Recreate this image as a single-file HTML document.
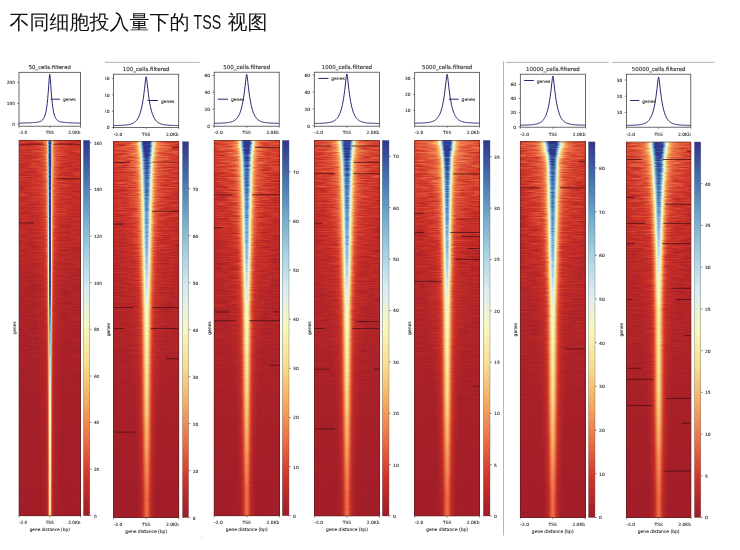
<!DOCTYPE html>
<html><head><meta charset="utf-8"><style>
html,body{margin:0;padding:0;background:#fff;width:740px;height:550px;overflow:hidden}
svg{display:block;will-change:transform}
.t{font-family:'DejaVu Sans','Liberation Sans',sans-serif;fill:#2a2a2a;stroke:#2a2a2a;stroke-width:0.1px}
.t2{font-family:'DejaVu Sans','Liberation Sans',sans-serif;fill:#2a2a2a;stroke:#2a2a2a;stroke-width:0.1px}
.ti{font-family:'Liberation Sans','WenQuanYi Zen Hei',sans-serif;font-size:20px;fill:#111}
</style></head><body>
<svg width="740" height="550" viewBox="0 0 740 550">
<defs><linearGradient id="cbar" x1="0" y1="1" x2="0" y2="0"><stop offset="0" stop-color="#9d1c29"/><stop offset="0.1" stop-color="#cf3229"/><stop offset="0.2" stop-color="#ea6e44"/><stop offset="0.3" stop-color="#f4aa60"/><stop offset="0.4" stop-color="#f7dc8e"/><stop offset="0.5" stop-color="#f9f8be"/><stop offset="0.6" stop-color="#dbedf2"/><stop offset="0.7" stop-color="#a7d2e2"/><stop offset="0.8" stop-color="#71a8cb"/><stop offset="0.9" stop-color="#4472ae"/><stop offset="1" stop-color="#30358e"/></linearGradient><linearGradient id="vb0" x1="0" x2="0" y1="0" y2="1"><stop offset="0" stop-color="#00ff1a"/><stop offset="0.03" stop-color="#00f719"/><stop offset="0.05" stop-color="#00ee18"/><stop offset="0.07" stop-color="#00e617"/><stop offset="0.1" stop-color="#00de16"/><stop offset="0.12" stop-color="#00d616"/><stop offset="0.15" stop-color="#00cd15"/><stop offset="0.17" stop-color="#00c514"/><stop offset="0.2" stop-color="#00bd13"/><stop offset="0.23" stop-color="#00b412"/><stop offset="0.25" stop-color="#00ac11"/><stop offset="0.28" stop-color="#00a40f"/><stop offset="0.3" stop-color="#009c0e"/><stop offset="0.33" stop-color="#00930d"/><stop offset="0.35" stop-color="#008b0b"/><stop offset="0.38" stop-color="#00830a"/><stop offset="0.4" stop-color="#007a09"/><stop offset="0.42" stop-color="#007209"/><stop offset="0.45" stop-color="#006a08"/><stop offset="0.47" stop-color="#006208"/><stop offset="0.5" stop-color="#005907"/><stop offset="0.53" stop-color="#005107"/><stop offset="0.55" stop-color="#004906"/><stop offset="0.57" stop-color="#004006"/><stop offset="0.6" stop-color="#003806"/><stop offset="0.62" stop-color="#003005"/><stop offset="0.65" stop-color="#002805"/><stop offset="0.68" stop-color="#001f04"/><stop offset="0.7" stop-color="#001a04"/><stop offset="0.72" stop-color="#001a04"/><stop offset="0.75" stop-color="#001a04"/><stop offset="0.78" stop-color="#001a03"/><stop offset="0.8" stop-color="#001a03"/><stop offset="0.82" stop-color="#001a03"/><stop offset="0.85" stop-color="#001a03"/><stop offset="0.88" stop-color="#001a03"/><stop offset="0.9" stop-color="#001a03"/><stop offset="0.93" stop-color="#001a02"/><stop offset="0.95" stop-color="#001a02"/><stop offset="0.97" stop-color="#001a02"/><stop offset="1" stop-color="#001a02"/></linearGradient><filter id="hm0" filterUnits="userSpaceOnUse" x="19" y="140.3" width="61.5" height="375.5" color-interpolation-filters="sRGB">
<feColorMatrix in="SourceGraphic" type="matrix" values="1 0 0 0 0 1 0 0 0 0 1 0 0 0 0 0 0 0 0 1" result="R"/>
<feGaussianBlur in="R" stdDeviation="0.6 0.3" edgeMode="duplicate" result="Rb"/>
<feColorMatrix in="SourceGraphic" type="matrix" values="0 0 1 0 0 0 0 1 0 0 0 0 1 0 0 0 0 0 0 1" result="B"/>
<feTurbulence type="fractalNoise" baseFrequency="0.0001 0.7" numOctaves="2" seed="11" result="n1"/>
<feColorMatrix in="n1" type="matrix" values="0.17 0 0 0 0.92 0.17 0 0 0 0.92 0.17 0 0 0 0.92 0 0 0 0 1" result="n1s"/>
<feComposite in="Rb" in2="n1s" operator="arithmetic" k1="1" k2="0" k3="0" k4="0" result="pk"/>
<feTurbulence type="fractalNoise" baseFrequency="0.07 0.8" numOctaves="2" seed="14" result="n2r"/>
<feColorMatrix in="n2r" type="matrix" values="1 0 0 0 0 1 0 0 0 0 1 0 0 0 0 0 0 0 0 1" result="n2"/>
<feComposite in="pk" in2="B" operator="arithmetic" k1="0" k2="1" k3="1" k4="0" result="u0"/>
<feColorMatrix in="SourceGraphic" type="matrix" values="0 1 0 0 0 0 1 0 0 0 0 1 0 0 0 0 0 0 0 1" result="G"/>
<feComposite in="n2" in2="G" operator="arithmetic" k1="0.17" k2="0" k3="-0.09" k4="0.5" result="nz"/>
<feComposite in="u0" in2="nz" operator="arithmetic" k1="0" k2="1" k3="1" k4="-0.5" result="u"/>
<feComponentTransfer in="u">
<feFuncR type="table" tableValues="0.62 0.81 0.92 0.96 0.97 0.98 0.86 0.65 0.44 0.27 0.19"/>
<feFuncG type="table" tableValues="0.11 0.2 0.43 0.67 0.86 0.97 0.93 0.82 0.66 0.45 0.21"/>
<feFuncB type="table" tableValues="0.16 0.16 0.27 0.38 0.56 0.75 0.95 0.89 0.8 0.68 0.56"/>
<feFuncA type="linear" slope="0" intercept="1"/>
</feComponentTransfer>
</filter><linearGradient id="vb1" x1="0" x2="0" y1="0" y2="1"><stop offset="0" stop-color="#00ff1f"/><stop offset="0.03" stop-color="#00f71d"/><stop offset="0.05" stop-color="#00ee1b"/><stop offset="0.07" stop-color="#00e61a"/><stop offset="0.1" stop-color="#00de18"/><stop offset="0.12" stop-color="#00d617"/><stop offset="0.15" stop-color="#00cd16"/><stop offset="0.17" stop-color="#00c515"/><stop offset="0.2" stop-color="#00bd13"/><stop offset="0.23" stop-color="#00b412"/><stop offset="0.25" stop-color="#00ac11"/><stop offset="0.28" stop-color="#00a40f"/><stop offset="0.3" stop-color="#009c0e"/><stop offset="0.33" stop-color="#00930d"/><stop offset="0.35" stop-color="#008b0d"/><stop offset="0.38" stop-color="#00830c"/><stop offset="0.4" stop-color="#007a0b"/><stop offset="0.42" stop-color="#00720b"/><stop offset="0.45" stop-color="#006a0a"/><stop offset="0.47" stop-color="#00620a"/><stop offset="0.5" stop-color="#005909"/><stop offset="0.53" stop-color="#005109"/><stop offset="0.55" stop-color="#004908"/><stop offset="0.57" stop-color="#004007"/><stop offset="0.6" stop-color="#003807"/><stop offset="0.62" stop-color="#003006"/><stop offset="0.65" stop-color="#002806"/><stop offset="0.68" stop-color="#001f05"/><stop offset="0.7" stop-color="#001a05"/><stop offset="0.72" stop-color="#001a05"/><stop offset="0.75" stop-color="#001a04"/><stop offset="0.78" stop-color="#001a04"/><stop offset="0.8" stop-color="#001a04"/><stop offset="0.82" stop-color="#001a03"/><stop offset="0.85" stop-color="#001a03"/><stop offset="0.88" stop-color="#001a03"/><stop offset="0.9" stop-color="#001a02"/><stop offset="0.93" stop-color="#001a02"/><stop offset="0.95" stop-color="#001a02"/><stop offset="0.97" stop-color="#001a02"/><stop offset="1" stop-color="#001a02"/></linearGradient><filter id="hm1" filterUnits="userSpaceOnUse" x="113.7" y="141.7" width="65.1" height="375.9" color-interpolation-filters="sRGB">
<feColorMatrix in="SourceGraphic" type="matrix" values="1 0 0 0 0 1 0 0 0 0 1 0 0 0 0 0 0 0 0 1" result="R"/>
<feGaussianBlur in="R" stdDeviation="1.0 0.3" edgeMode="duplicate" result="Rb"/>
<feColorMatrix in="SourceGraphic" type="matrix" values="0 0 1 0 0 0 0 1 0 0 0 0 1 0 0 0 0 0 0 1" result="B"/>
<feTurbulence type="fractalNoise" baseFrequency="0.0001 0.7" numOctaves="2" seed="18" result="n1"/>
<feColorMatrix in="n1" type="matrix" values="0.17 0 0 0 0.92 0.17 0 0 0 0.92 0.17 0 0 0 0.92 0 0 0 0 1" result="n1s"/>
<feComposite in="Rb" in2="n1s" operator="arithmetic" k1="1" k2="0" k3="0" k4="0" result="pk"/>
<feTurbulence type="fractalNoise" baseFrequency="0.07 0.8" numOctaves="2" seed="21" result="n2r"/>
<feColorMatrix in="n2r" type="matrix" values="1 0 0 0 0 1 0 0 0 0 1 0 0 0 0 0 0 0 0 1" result="n2"/>
<feComposite in="pk" in2="B" operator="arithmetic" k1="0" k2="1" k3="1" k4="0" result="u0"/>
<feColorMatrix in="SourceGraphic" type="matrix" values="0 1 0 0 0 0 1 0 0 0 0 1 0 0 0 0 0 0 0 1" result="G"/>
<feComposite in="n2" in2="G" operator="arithmetic" k1="0.22" k2="0" k3="-0.11" k4="0.5" result="nz"/>
<feComposite in="u0" in2="nz" operator="arithmetic" k1="0" k2="1" k3="1" k4="-0.5" result="u"/>
<feComponentTransfer in="u">
<feFuncR type="table" tableValues="0.62 0.81 0.92 0.96 0.97 0.98 0.86 0.65 0.44 0.27 0.19"/>
<feFuncG type="table" tableValues="0.11 0.2 0.43 0.67 0.86 0.97 0.93 0.82 0.66 0.45 0.21"/>
<feFuncB type="table" tableValues="0.16 0.16 0.27 0.38 0.56 0.75 0.95 0.89 0.8 0.68 0.56"/>
<feFuncA type="linear" slope="0" intercept="1"/>
</feComponentTransfer>
</filter><clipPath id="cl1"><rect x="105.2" y="0" width="200" height="550"/></clipPath><linearGradient id="vb2" x1="0" x2="0" y1="0" y2="1"><stop offset="0" stop-color="#00ff1f"/><stop offset="0.03" stop-color="#00f71d"/><stop offset="0.05" stop-color="#00ee1b"/><stop offset="0.07" stop-color="#00e61a"/><stop offset="0.1" stop-color="#00de18"/><stop offset="0.12" stop-color="#00d617"/><stop offset="0.15" stop-color="#00cd16"/><stop offset="0.17" stop-color="#00c515"/><stop offset="0.2" stop-color="#00bd13"/><stop offset="0.23" stop-color="#00b412"/><stop offset="0.25" stop-color="#00ac11"/><stop offset="0.28" stop-color="#00a40f"/><stop offset="0.3" stop-color="#009c0e"/><stop offset="0.33" stop-color="#00930d"/><stop offset="0.35" stop-color="#008b0d"/><stop offset="0.38" stop-color="#00830c"/><stop offset="0.4" stop-color="#007a0b"/><stop offset="0.42" stop-color="#00720b"/><stop offset="0.45" stop-color="#006a0a"/><stop offset="0.47" stop-color="#00620a"/><stop offset="0.5" stop-color="#005909"/><stop offset="0.53" stop-color="#005109"/><stop offset="0.55" stop-color="#004908"/><stop offset="0.57" stop-color="#004007"/><stop offset="0.6" stop-color="#003807"/><stop offset="0.62" stop-color="#003006"/><stop offset="0.65" stop-color="#002806"/><stop offset="0.68" stop-color="#001f05"/><stop offset="0.7" stop-color="#001a05"/><stop offset="0.72" stop-color="#001a05"/><stop offset="0.75" stop-color="#001a04"/><stop offset="0.78" stop-color="#001a04"/><stop offset="0.8" stop-color="#001a04"/><stop offset="0.82" stop-color="#001a03"/><stop offset="0.85" stop-color="#001a03"/><stop offset="0.88" stop-color="#001a03"/><stop offset="0.9" stop-color="#001a02"/><stop offset="0.93" stop-color="#001a02"/><stop offset="0.95" stop-color="#001a02"/><stop offset="0.97" stop-color="#001a02"/><stop offset="1" stop-color="#001a02"/></linearGradient><filter id="hm2" filterUnits="userSpaceOnUse" x="214.1" y="140.4" width="65.3" height="375.4" color-interpolation-filters="sRGB">
<feColorMatrix in="SourceGraphic" type="matrix" values="1 0 0 0 0 1 0 0 0 0 1 0 0 0 0 0 0 0 0 1" result="R"/>
<feGaussianBlur in="R" stdDeviation="1.0 0.3" edgeMode="duplicate" result="Rb"/>
<feColorMatrix in="SourceGraphic" type="matrix" values="0 0 1 0 0 0 0 1 0 0 0 0 1 0 0 0 0 0 0 1" result="B"/>
<feTurbulence type="fractalNoise" baseFrequency="0.0001 0.7" numOctaves="2" seed="25" result="n1"/>
<feColorMatrix in="n1" type="matrix" values="0.17 0 0 0 0.92 0.17 0 0 0 0.92 0.17 0 0 0 0.92 0 0 0 0 1" result="n1s"/>
<feComposite in="Rb" in2="n1s" operator="arithmetic" k1="1" k2="0" k3="0" k4="0" result="pk"/>
<feTurbulence type="fractalNoise" baseFrequency="0.07 0.8" numOctaves="2" seed="28" result="n2r"/>
<feColorMatrix in="n2r" type="matrix" values="1 0 0 0 0 1 0 0 0 0 1 0 0 0 0 0 0 0 0 1" result="n2"/>
<feComposite in="pk" in2="B" operator="arithmetic" k1="0" k2="1" k3="1" k4="0" result="u0"/>
<feColorMatrix in="SourceGraphic" type="matrix" values="0 1 0 0 0 0 1 0 0 0 0 1 0 0 0 0 0 0 0 1" result="G"/>
<feComposite in="n2" in2="G" operator="arithmetic" k1="0.22" k2="0" k3="-0.11" k4="0.5" result="nz"/>
<feComposite in="u0" in2="nz" operator="arithmetic" k1="0" k2="1" k3="1" k4="-0.5" result="u"/>
<feComponentTransfer in="u">
<feFuncR type="table" tableValues="0.62 0.81 0.92 0.96 0.97 0.98 0.86 0.65 0.44 0.27 0.19"/>
<feFuncG type="table" tableValues="0.11 0.2 0.43 0.67 0.86 0.97 0.93 0.82 0.66 0.45 0.21"/>
<feFuncB type="table" tableValues="0.16 0.16 0.27 0.38 0.56 0.75 0.95 0.89 0.8 0.68 0.56"/>
<feFuncA type="linear" slope="0" intercept="1"/>
</feComponentTransfer>
</filter><linearGradient id="vb3" x1="0" x2="0" y1="0" y2="1"><stop offset="0" stop-color="#00ff1f"/><stop offset="0.03" stop-color="#00f71d"/><stop offset="0.05" stop-color="#00ee1b"/><stop offset="0.07" stop-color="#00e61a"/><stop offset="0.1" stop-color="#00de18"/><stop offset="0.12" stop-color="#00d617"/><stop offset="0.15" stop-color="#00cd16"/><stop offset="0.17" stop-color="#00c515"/><stop offset="0.2" stop-color="#00bd13"/><stop offset="0.23" stop-color="#00b412"/><stop offset="0.25" stop-color="#00ac11"/><stop offset="0.28" stop-color="#00a40f"/><stop offset="0.3" stop-color="#009c0e"/><stop offset="0.33" stop-color="#00930d"/><stop offset="0.35" stop-color="#008b0d"/><stop offset="0.38" stop-color="#00830c"/><stop offset="0.4" stop-color="#007a0b"/><stop offset="0.42" stop-color="#00720b"/><stop offset="0.45" stop-color="#006a0a"/><stop offset="0.47" stop-color="#00620a"/><stop offset="0.5" stop-color="#005909"/><stop offset="0.53" stop-color="#005109"/><stop offset="0.55" stop-color="#004908"/><stop offset="0.57" stop-color="#004007"/><stop offset="0.6" stop-color="#003807"/><stop offset="0.62" stop-color="#003006"/><stop offset="0.65" stop-color="#002806"/><stop offset="0.68" stop-color="#001f05"/><stop offset="0.7" stop-color="#001a05"/><stop offset="0.72" stop-color="#001a05"/><stop offset="0.75" stop-color="#001a04"/><stop offset="0.78" stop-color="#001a04"/><stop offset="0.8" stop-color="#001a04"/><stop offset="0.82" stop-color="#001a03"/><stop offset="0.85" stop-color="#001a03"/><stop offset="0.88" stop-color="#001a03"/><stop offset="0.9" stop-color="#001a02"/><stop offset="0.93" stop-color="#001a02"/><stop offset="0.95" stop-color="#001a02"/><stop offset="0.97" stop-color="#001a02"/><stop offset="1" stop-color="#001a02"/></linearGradient><filter id="hm3" filterUnits="userSpaceOnUse" x="314.4" y="140.4" width="65.2" height="375.6" color-interpolation-filters="sRGB">
<feColorMatrix in="SourceGraphic" type="matrix" values="1 0 0 0 0 1 0 0 0 0 1 0 0 0 0 0 0 0 0 1" result="R"/>
<feGaussianBlur in="R" stdDeviation="1.0 0.3" edgeMode="duplicate" result="Rb"/>
<feColorMatrix in="SourceGraphic" type="matrix" values="0 0 1 0 0 0 0 1 0 0 0 0 1 0 0 0 0 0 0 1" result="B"/>
<feTurbulence type="fractalNoise" baseFrequency="0.0001 0.7" numOctaves="2" seed="32" result="n1"/>
<feColorMatrix in="n1" type="matrix" values="0.17 0 0 0 0.92 0.17 0 0 0 0.92 0.17 0 0 0 0.92 0 0 0 0 1" result="n1s"/>
<feComposite in="Rb" in2="n1s" operator="arithmetic" k1="1" k2="0" k3="0" k4="0" result="pk"/>
<feTurbulence type="fractalNoise" baseFrequency="0.07 0.8" numOctaves="2" seed="35" result="n2r"/>
<feColorMatrix in="n2r" type="matrix" values="1 0 0 0 0 1 0 0 0 0 1 0 0 0 0 0 0 0 0 1" result="n2"/>
<feComposite in="pk" in2="B" operator="arithmetic" k1="0" k2="1" k3="1" k4="0" result="u0"/>
<feColorMatrix in="SourceGraphic" type="matrix" values="0 1 0 0 0 0 1 0 0 0 0 1 0 0 0 0 0 0 0 1" result="G"/>
<feComposite in="n2" in2="G" operator="arithmetic" k1="0.22" k2="0" k3="-0.11" k4="0.5" result="nz"/>
<feComposite in="u0" in2="nz" operator="arithmetic" k1="0" k2="1" k3="1" k4="-0.5" result="u"/>
<feComponentTransfer in="u">
<feFuncR type="table" tableValues="0.62 0.81 0.92 0.96 0.97 0.98 0.86 0.65 0.44 0.27 0.19"/>
<feFuncG type="table" tableValues="0.11 0.2 0.43 0.67 0.86 0.97 0.93 0.82 0.66 0.45 0.21"/>
<feFuncB type="table" tableValues="0.16 0.16 0.27 0.38 0.56 0.75 0.95 0.89 0.8 0.68 0.56"/>
<feFuncA type="linear" slope="0" intercept="1"/>
</feComponentTransfer>
</filter><linearGradient id="vb4" x1="0" x2="0" y1="0" y2="1"><stop offset="0" stop-color="#00ff26"/><stop offset="0.03" stop-color="#00f724"/><stop offset="0.05" stop-color="#00ee22"/><stop offset="0.07" stop-color="#00e620"/><stop offset="0.1" stop-color="#00de1e"/><stop offset="0.12" stop-color="#00d61d"/><stop offset="0.15" stop-color="#00cd1b"/><stop offset="0.17" stop-color="#00c519"/><stop offset="0.2" stop-color="#00bd17"/><stop offset="0.23" stop-color="#00b415"/><stop offset="0.25" stop-color="#00ac12"/><stop offset="0.28" stop-color="#00a410"/><stop offset="0.3" stop-color="#009c0e"/><stop offset="0.33" stop-color="#00930d"/><stop offset="0.35" stop-color="#008b0d"/><stop offset="0.38" stop-color="#00830c"/><stop offset="0.4" stop-color="#007a0b"/><stop offset="0.42" stop-color="#00720b"/><stop offset="0.45" stop-color="#006a0a"/><stop offset="0.47" stop-color="#00620a"/><stop offset="0.5" stop-color="#005909"/><stop offset="0.53" stop-color="#005109"/><stop offset="0.55" stop-color="#004908"/><stop offset="0.57" stop-color="#004007"/><stop offset="0.6" stop-color="#003807"/><stop offset="0.62" stop-color="#003006"/><stop offset="0.65" stop-color="#002806"/><stop offset="0.68" stop-color="#001f05"/><stop offset="0.7" stop-color="#001a05"/><stop offset="0.72" stop-color="#001a05"/><stop offset="0.75" stop-color="#001a04"/><stop offset="0.78" stop-color="#001a04"/><stop offset="0.8" stop-color="#001a04"/><stop offset="0.82" stop-color="#001a03"/><stop offset="0.85" stop-color="#001a03"/><stop offset="0.88" stop-color="#001a03"/><stop offset="0.9" stop-color="#001a02"/><stop offset="0.93" stop-color="#001a02"/><stop offset="0.95" stop-color="#001a02"/><stop offset="0.97" stop-color="#001a02"/><stop offset="1" stop-color="#001a02"/></linearGradient><filter id="hm4" filterUnits="userSpaceOnUse" x="414.7" y="140.4" width="64.9" height="375.6" color-interpolation-filters="sRGB">
<feColorMatrix in="SourceGraphic" type="matrix" values="1 0 0 0 0 1 0 0 0 0 1 0 0 0 0 0 0 0 0 1" result="R"/>
<feGaussianBlur in="R" stdDeviation="1.0 0.3" edgeMode="duplicate" result="Rb"/>
<feColorMatrix in="SourceGraphic" type="matrix" values="0 0 1 0 0 0 0 1 0 0 0 0 1 0 0 0 0 0 0 1" result="B"/>
<feTurbulence type="fractalNoise" baseFrequency="0.0001 0.7" numOctaves="2" seed="39" result="n1"/>
<feColorMatrix in="n1" type="matrix" values="0.17 0 0 0 0.92 0.17 0 0 0 0.92 0.17 0 0 0 0.92 0 0 0 0 1" result="n1s"/>
<feComposite in="Rb" in2="n1s" operator="arithmetic" k1="1" k2="0" k3="0" k4="0" result="pk"/>
<feTurbulence type="fractalNoise" baseFrequency="0.07 0.8" numOctaves="2" seed="42" result="n2r"/>
<feColorMatrix in="n2r" type="matrix" values="1 0 0 0 0 1 0 0 0 0 1 0 0 0 0 0 0 0 0 1" result="n2"/>
<feComposite in="pk" in2="B" operator="arithmetic" k1="0" k2="1" k3="1" k4="0" result="u0"/>
<feColorMatrix in="SourceGraphic" type="matrix" values="0 1 0 0 0 0 1 0 0 0 0 1 0 0 0 0 0 0 0 1" result="G"/>
<feComposite in="n2" in2="G" operator="arithmetic" k1="0.22" k2="0" k3="-0.11" k4="0.5" result="nz"/>
<feComposite in="u0" in2="nz" operator="arithmetic" k1="0" k2="1" k3="1" k4="-0.5" result="u"/>
<feComponentTransfer in="u">
<feFuncR type="table" tableValues="0.62 0.81 0.92 0.96 0.97 0.98 0.86 0.65 0.44 0.27 0.19"/>
<feFuncG type="table" tableValues="0.11 0.2 0.43 0.67 0.86 0.97 0.93 0.82 0.66 0.45 0.21"/>
<feFuncB type="table" tableValues="0.16 0.16 0.27 0.38 0.56 0.75 0.95 0.89 0.8 0.68 0.56"/>
<feFuncA type="linear" slope="0" intercept="1"/>
</feComponentTransfer>
</filter><linearGradient id="vb5" x1="0" x2="0" y1="0" y2="1"><stop offset="0" stop-color="#00ff1f"/><stop offset="0.03" stop-color="#00f71d"/><stop offset="0.05" stop-color="#00ee1b"/><stop offset="0.07" stop-color="#00e61a"/><stop offset="0.1" stop-color="#00de18"/><stop offset="0.12" stop-color="#00d617"/><stop offset="0.15" stop-color="#00cd16"/><stop offset="0.17" stop-color="#00c515"/><stop offset="0.2" stop-color="#00bd13"/><stop offset="0.23" stop-color="#00b412"/><stop offset="0.25" stop-color="#00ac11"/><stop offset="0.28" stop-color="#00a40f"/><stop offset="0.3" stop-color="#009c0e"/><stop offset="0.33" stop-color="#00930d"/><stop offset="0.35" stop-color="#008b0d"/><stop offset="0.38" stop-color="#00830c"/><stop offset="0.4" stop-color="#007a0b"/><stop offset="0.42" stop-color="#00720b"/><stop offset="0.45" stop-color="#006a0a"/><stop offset="0.47" stop-color="#00620a"/><stop offset="0.5" stop-color="#005909"/><stop offset="0.53" stop-color="#005109"/><stop offset="0.55" stop-color="#004908"/><stop offset="0.57" stop-color="#004007"/><stop offset="0.6" stop-color="#003807"/><stop offset="0.62" stop-color="#003006"/><stop offset="0.65" stop-color="#002806"/><stop offset="0.68" stop-color="#001f05"/><stop offset="0.7" stop-color="#001a05"/><stop offset="0.72" stop-color="#001a05"/><stop offset="0.75" stop-color="#001a04"/><stop offset="0.78" stop-color="#001a04"/><stop offset="0.8" stop-color="#001a04"/><stop offset="0.82" stop-color="#001a03"/><stop offset="0.85" stop-color="#001a03"/><stop offset="0.88" stop-color="#001a03"/><stop offset="0.9" stop-color="#001a02"/><stop offset="0.93" stop-color="#001a02"/><stop offset="0.95" stop-color="#001a02"/><stop offset="0.97" stop-color="#001a02"/><stop offset="1" stop-color="#001a02"/></linearGradient><filter id="hm5" filterUnits="userSpaceOnUse" x="520.3" y="141.9" width="64.9" height="375.6" color-interpolation-filters="sRGB">
<feColorMatrix in="SourceGraphic" type="matrix" values="1 0 0 0 0 1 0 0 0 0 1 0 0 0 0 0 0 0 0 1" result="R"/>
<feGaussianBlur in="R" stdDeviation="1.0 0.3" edgeMode="duplicate" result="Rb"/>
<feColorMatrix in="SourceGraphic" type="matrix" values="0 0 1 0 0 0 0 1 0 0 0 0 1 0 0 0 0 0 0 1" result="B"/>
<feTurbulence type="fractalNoise" baseFrequency="0.0001 0.7" numOctaves="2" seed="46" result="n1"/>
<feColorMatrix in="n1" type="matrix" values="0.17 0 0 0 0.92 0.17 0 0 0 0.92 0.17 0 0 0 0.92 0 0 0 0 1" result="n1s"/>
<feComposite in="Rb" in2="n1s" operator="arithmetic" k1="1" k2="0" k3="0" k4="0" result="pk"/>
<feTurbulence type="fractalNoise" baseFrequency="0.07 0.8" numOctaves="2" seed="49" result="n2r"/>
<feColorMatrix in="n2r" type="matrix" values="1 0 0 0 0 1 0 0 0 0 1 0 0 0 0 0 0 0 0 1" result="n2"/>
<feComposite in="pk" in2="B" operator="arithmetic" k1="0" k2="1" k3="1" k4="0" result="u0"/>
<feColorMatrix in="SourceGraphic" type="matrix" values="0 1 0 0 0 0 1 0 0 0 0 1 0 0 0 0 0 0 0 1" result="G"/>
<feComposite in="n2" in2="G" operator="arithmetic" k1="0.22" k2="0" k3="-0.11" k4="0.5" result="nz"/>
<feComposite in="u0" in2="nz" operator="arithmetic" k1="0" k2="1" k3="1" k4="-0.5" result="u"/>
<feComponentTransfer in="u">
<feFuncR type="table" tableValues="0.62 0.81 0.92 0.96 0.97 0.98 0.86 0.65 0.44 0.27 0.19"/>
<feFuncG type="table" tableValues="0.11 0.2 0.43 0.67 0.86 0.97 0.93 0.82 0.66 0.45 0.21"/>
<feFuncB type="table" tableValues="0.16 0.16 0.27 0.38 0.56 0.75 0.95 0.89 0.8 0.68 0.56"/>
<feFuncA type="linear" slope="0" intercept="1"/>
</feComponentTransfer>
</filter><linearGradient id="vb6" x1="0" x2="0" y1="0" y2="1"><stop offset="0" stop-color="#00ff1f"/><stop offset="0.03" stop-color="#00f71d"/><stop offset="0.05" stop-color="#00ee1b"/><stop offset="0.07" stop-color="#00e61a"/><stop offset="0.1" stop-color="#00de18"/><stop offset="0.12" stop-color="#00d617"/><stop offset="0.15" stop-color="#00cd16"/><stop offset="0.17" stop-color="#00c515"/><stop offset="0.2" stop-color="#00bd13"/><stop offset="0.23" stop-color="#00b412"/><stop offset="0.25" stop-color="#00ac11"/><stop offset="0.28" stop-color="#00a40f"/><stop offset="0.3" stop-color="#009c0e"/><stop offset="0.33" stop-color="#00930d"/><stop offset="0.35" stop-color="#008b0d"/><stop offset="0.38" stop-color="#00830c"/><stop offset="0.4" stop-color="#007a0b"/><stop offset="0.42" stop-color="#00720b"/><stop offset="0.45" stop-color="#006a0a"/><stop offset="0.47" stop-color="#00620a"/><stop offset="0.5" stop-color="#005909"/><stop offset="0.53" stop-color="#005109"/><stop offset="0.55" stop-color="#004908"/><stop offset="0.57" stop-color="#004007"/><stop offset="0.6" stop-color="#003807"/><stop offset="0.62" stop-color="#003006"/><stop offset="0.65" stop-color="#002806"/><stop offset="0.68" stop-color="#001f05"/><stop offset="0.7" stop-color="#001a05"/><stop offset="0.72" stop-color="#001a05"/><stop offset="0.75" stop-color="#001a04"/><stop offset="0.78" stop-color="#001a04"/><stop offset="0.8" stop-color="#001a04"/><stop offset="0.82" stop-color="#001a03"/><stop offset="0.85" stop-color="#001a03"/><stop offset="0.88" stop-color="#001a03"/><stop offset="0.9" stop-color="#001a02"/><stop offset="0.93" stop-color="#001a02"/><stop offset="0.95" stop-color="#001a02"/><stop offset="0.97" stop-color="#001a02"/><stop offset="1" stop-color="#001a02"/></linearGradient><filter id="hm6" filterUnits="userSpaceOnUse" x="626.4" y="142" width="64.6" height="375.5" color-interpolation-filters="sRGB">
<feColorMatrix in="SourceGraphic" type="matrix" values="1 0 0 0 0 1 0 0 0 0 1 0 0 0 0 0 0 0 0 1" result="R"/>
<feGaussianBlur in="R" stdDeviation="1.0 0.3" edgeMode="duplicate" result="Rb"/>
<feColorMatrix in="SourceGraphic" type="matrix" values="0 0 1 0 0 0 0 1 0 0 0 0 1 0 0 0 0 0 0 1" result="B"/>
<feTurbulence type="fractalNoise" baseFrequency="0.0001 0.7" numOctaves="2" seed="53" result="n1"/>
<feColorMatrix in="n1" type="matrix" values="0.17 0 0 0 0.92 0.17 0 0 0 0.92 0.17 0 0 0 0.92 0 0 0 0 1" result="n1s"/>
<feComposite in="Rb" in2="n1s" operator="arithmetic" k1="1" k2="0" k3="0" k4="0" result="pk"/>
<feTurbulence type="fractalNoise" baseFrequency="0.07 0.8" numOctaves="2" seed="56" result="n2r"/>
<feColorMatrix in="n2r" type="matrix" values="1 0 0 0 0 1 0 0 0 0 1 0 0 0 0 0 0 0 0 1" result="n2"/>
<feComposite in="pk" in2="B" operator="arithmetic" k1="0" k2="1" k3="1" k4="0" result="u0"/>
<feColorMatrix in="SourceGraphic" type="matrix" values="0 1 0 0 0 0 1 0 0 0 0 1 0 0 0 0 0 0 0 1" result="G"/>
<feComposite in="n2" in2="G" operator="arithmetic" k1="0.22" k2="0" k3="-0.11" k4="0.5" result="nz"/>
<feComposite in="u0" in2="nz" operator="arithmetic" k1="0" k2="1" k3="1" k4="-0.5" result="u"/>
<feComponentTransfer in="u">
<feFuncR type="table" tableValues="0.62 0.81 0.92 0.96 0.97 0.98 0.86 0.65 0.44 0.27 0.19"/>
<feFuncG type="table" tableValues="0.11 0.2 0.43 0.67 0.86 0.97 0.93 0.82 0.66 0.45 0.21"/>
<feFuncB type="table" tableValues="0.16 0.16 0.27 0.38 0.56 0.75 0.95 0.89 0.8 0.68 0.56"/>
<feFuncA type="linear" slope="0" intercept="1"/>
</feComponentTransfer>
</filter></defs>
<text x="9.5" y="29" class="ti">不同细胞投入量下的</text>
<text x="193.6" y="28.8" class="ti" style="font-size:19.3px" textLength="27.6" lengthAdjust="spacingAndGlyphs">TSS</text>
<text x="227.5" y="29" class="ti">视图</text>
<g stroke="#b8b5b3" stroke-width="1" fill="none">
<path d="M105.4 61 V62.4 H199.8"/>
<path d="M503.5 61.1 V535.5"/>
<path d="M505.9 62.4 H608.8"/>
<path d="M612 62.4 H714.8"/>
</g>
<rect x="201.6" y="536.4" width="0.9" height="0.9" fill="#bbb"/>
<g style="font-size:4.27px">
<g filter="url(#hm0)"><rect x="17" y="138.3" width="65.5" height="379.5" fill="url(#vb0)"/><polygon points="30.88,138.3 31.51,162.8 32.56,195.3 33.72,225.3 35.03,252.8 36.78,305.3 38.19,337.8 39.7,365.3 40.95,442.8 42.39,517.8 57.51,517.8 58.95,442.8 60.2,365.3 61.71,337.8 63.12,305.3 64.87,252.8 66.18,225.3 67.34,195.3 68.39,162.8 69.02,138.3" fill="#030000" style="mix-blend-mode:lighten"/><polygon points="35.04,138.3 35.9,170.3 37.18,207.8 38.1,230.3 39.19,252.8 40.3,287.8 41.43,317.8 43.68,365.3 45.51,517.8 54.39,517.8 56.22,365.3 58.47,317.8 59.6,287.8 60.71,252.8 61.8,230.3 62.72,207.8 64,170.3 64.86,138.3" fill="#050000" style="mix-blend-mode:lighten"/><polygon points="37.47,138.3 38.03,160.3 39.06,192.8 40.31,225.3 41.6,252.8 42.76,290.3 45.33,365.3 46.44,517.8 53.46,517.8 54.57,365.3 57.14,290.3 58.3,252.8 59.59,225.3 60.84,192.8 61.87,160.3 62.43,138.3" fill="#080000" style="mix-blend-mode:lighten"/><polygon points="39.2,138.3 39.83,162.8 40.96,197.8 42.02,225.3 43.25,252.8 45,317.8 45.88,355.3 46.08,365.3 46.45,420.3 46.92,517.8 52.98,517.8 53.45,420.3 53.82,365.3 54.02,355.3 54.9,317.8 56.65,252.8 57.88,225.3 58.94,197.8 60.07,162.8 60.7,138.3" fill="#0a0000" style="mix-blend-mode:lighten"/><polygon points="40.53,138.3 42.02,190.3 44.36,252.8 46.04,335.3 46.54,367.8 47.23,517.8 52.67,517.8 53.36,367.8 53.86,335.3 55.54,252.8 57.88,190.3 59.37,138.3" fill="#0d0000" style="mix-blend-mode:lighten"/><polygon points="41.62,138.3 42.68,177.8 45.11,252.8 46.07,310.3 46.82,365.3 47.46,517.8 52.44,517.8 53.08,365.3 53.83,310.3 54.79,252.8 57.22,177.8 58.28,138.3" fill="#0f0000" style="mix-blend-mode:lighten"/><polygon points="42.52,138.3 45.61,252.8 46.38,307.8 47.05,365.3 47.65,517.8 52.25,517.8 52.85,365.3 53.52,307.8 54.29,252.8 57.38,138.3" fill="#120000" style="mix-blend-mode:lighten"/><polygon points="43.28,138.3 45.83,245.3 46.64,307.8 47.24,365.3 47.8,517.8 52.1,517.8 52.66,365.3 53.26,307.8 54.07,245.3 56.62,138.3" fill="#140000" style="mix-blend-mode:lighten"/><polygon points="43.92,138.3 46.01,237.8 46.85,307.8 47.39,365.3 47.93,517.8 51.97,517.8 52.51,365.3 53.05,307.8 53.89,237.8 55.98,138.3" fill="#170000" style="mix-blend-mode:lighten"/><polygon points="44.45,138.3 46.19,232.8 47.04,310.3 47.52,365.3 48.04,517.8 51.86,517.8 52.38,365.3 52.86,310.3 53.71,232.8 55.45,138.3" fill="#1a0000" style="mix-blend-mode:lighten"/><polygon points="44.9,138.3 46.54,242.8 47.49,345.3 47.89,422.8 48.14,517.8 51.76,517.8 52.01,422.8 52.41,345.3 53.36,242.8 55,138.3" fill="#1c0000" style="mix-blend-mode:lighten"/><polygon points="45.26,138.3 46.7,242.8 47.62,347.8 47.99,422.8 48.23,517.8 51.67,517.8 51.91,422.8 52.28,347.8 53.2,242.8 54.64,138.3" fill="#1f0000" style="mix-blend-mode:lighten"/><polygon points="45.56,138.3 46.82,240.3 47.72,347.8 48.08,422.8 48.31,517.8 51.59,517.8 51.82,422.8 52.18,347.8 53.08,240.3 54.34,138.3" fill="#210000" style="mix-blend-mode:lighten"/><polygon points="45.82,138.3 46.93,237.8 47.81,347.8 48.16,422.8 48.39,517.8 51.51,517.8 51.74,422.8 52.09,347.8 52.97,237.8 54.08,138.3" fill="#240000" style="mix-blend-mode:lighten"/><polygon points="46.03,138.3 47.02,235.3 47.89,347.8 48.23,422.8 48.46,517.8 51.44,517.8 51.67,422.8 52.01,347.8 52.88,235.3 53.87,138.3" fill="#260000" style="mix-blend-mode:lighten"/><polygon points="46.22,138.3 47.11,232.8 47.96,347.8 48.3,422.8 48.52,517.8 51.38,517.8 51.6,422.8 51.94,347.8 52.79,232.8 53.68,138.3" fill="#290000" style="mix-blend-mode:lighten"/><polygon points="46.38,138.3 48.03,347.8 48.36,422.8 48.58,517.8 51.32,517.8 51.54,422.8 51.87,347.8 53.52,138.3" fill="#2b0000" style="mix-blend-mode:lighten"/><polygon points="46.52,138.3 48.19,365.3 48.64,517.8 51.26,517.8 51.71,365.3 53.38,138.3" fill="#2e0000" style="mix-blend-mode:lighten"/><polygon points="46.65,138.3 48.25,365.3 48.69,517.8 51.21,517.8 51.65,365.3 53.25,138.3" fill="#300000" style="mix-blend-mode:lighten"/><polygon points="46.77,138.3 48.3,365.3 48.74,517.8 51.16,517.8 51.6,365.3 53.13,138.3" fill="#330000" style="mix-blend-mode:lighten"/><polygon points="47.13,138.3 48.49,365.3 48.92,517.8 50.98,517.8 51.41,365.3 52.77,138.3" fill="#3d0000" style="mix-blend-mode:lighten"/><polygon points="47.4,138.3 48.65,365.3 49.08,517.8 50.82,517.8 51.25,365.3 52.5,138.3" fill="#470000" style="mix-blend-mode:lighten"/><polygon points="47.62,138.3 48.78,365.3 49.21,517.8 50.69,517.8 51.12,365.3 52.28,138.3" fill="#520000" style="mix-blend-mode:lighten"/><polygon points="47.79,138.3 48.9,365.3 49.34,517.8 50.56,517.8 51,365.3 52.11,138.3" fill="#5c0000" style="mix-blend-mode:lighten"/><polygon points="47.94,138.3 49.24,420.3 49.47,517.8 50.43,517.8 50.66,420.3 51.96,138.3" fill="#660000" style="mix-blend-mode:lighten"/><polygon points="48.07,138.3 48.49,252.8 49.35,422.8 49.59,517.8 50.31,517.8 50.55,422.8 51.41,252.8 51.83,138.3" fill="#700000" style="mix-blend-mode:lighten"/><polygon points="48.18,138.3 48.59,252.8 49.46,422.8 49.74,517.8 50.16,517.8 50.44,422.8 51.31,252.8 51.72,138.3" fill="#7a0000" style="mix-blend-mode:lighten"/><polygon points="48.29,138.3 48.67,252.8 49.95,517.8 49.95,517.8 51.23,252.8 51.61,138.3" fill="#850000" style="mix-blend-mode:lighten"/><polygon points="48.38,138.3 48.75,252.8 49.94,465.3 49.95,517.8 49.95,517.8 49.96,465.3 51.15,252.8 51.52,138.3" fill="#8f0000" style="mix-blend-mode:lighten"/><polygon points="48.46,138.3 48.86,260.3 49.63,397.8 49.95,430.3 49.95,517.8 49.95,517.8 49.95,430.3 50.27,397.8 51.04,260.3 51.44,138.3" fill="#990000" style="mix-blend-mode:lighten"/><polygon points="48.54,138.3 48.96,265.3 49.67,387.8 49.95,410.3 49.95,517.8 49.95,517.8 49.95,410.3 50.23,387.8 50.94,265.3 51.36,138.3" fill="#a30000" style="mix-blend-mode:lighten"/><polygon points="48.61,138.3 49.02,265.3 49.71,377.8 49.95,395.3 49.95,517.8 49.95,517.8 49.95,395.3 50.19,377.8 50.88,265.3 51.29,138.3" fill="#ad0000" style="mix-blend-mode:lighten"/><polygon points="48.68,138.3 49.08,265.3 49.69,360.3 49.95,380.3 49.95,517.8 49.95,517.8 49.95,380.3 50.21,360.3 50.82,265.3 51.22,138.3" fill="#b80000" style="mix-blend-mode:lighten"/><polygon points="48.75,138.3 49.14,265.3 49.59,335.3 49.95,365.3 49.95,517.8 49.95,517.8 49.95,365.3 50.31,335.3 50.76,265.3 51.15,138.3" fill="#c20000" style="mix-blend-mode:lighten"/><polygon points="48.81,138.3 49.19,262.8 49.63,330.3 49.95,352.8 49.95,517.8 49.95,517.8 49.95,352.8 50.27,330.3 50.71,262.8 51.09,138.3" fill="#cc0000" style="mix-blend-mode:lighten"/><polygon points="48.86,138.3 49.23,260.3 49.65,322.8 49.95,342.8 49.95,517.8 49.95,517.8 49.95,342.8 50.25,322.8 50.67,260.3 51.04,138.3" fill="#d60000" style="mix-blend-mode:lighten"/><polygon points="48.92,138.3 49.27,257.8 49.69,317.8 49.95,332.8 49.95,517.8 49.95,517.8 49.95,332.8 50.21,317.8 50.63,257.8 50.98,138.3" fill="#e00000" style="mix-blend-mode:lighten"/><polygon points="48.97,138.3 49.31,255.3 49.6,300.3 49.95,325.3 49.95,517.8 49.95,517.8 49.95,325.3 50.3,300.3 50.59,255.3 50.93,138.3" fill="#eb0000" style="mix-blend-mode:lighten"/><polygon points="49.02,138.3 49.34,252.8 49.65,297.8 49.95,315.3 49.95,517.8 49.95,517.8 49.95,315.3 50.25,297.8 50.56,252.8 50.88,138.3" fill="#f50000" style="mix-blend-mode:lighten"/><polygon points="49.07,138.3 49.39,252.8 49.68,292.8 49.95,307.8 49.95,517.8 49.95,517.8 49.95,307.8 50.22,292.8 50.51,252.8 50.83,138.3" fill="#ff0000" style="mix-blend-mode:lighten"/></g>
<rect x="19" y="143.7" width="24.5" height="1" fill="#4e1015" opacity="0.8"/>
<rect x="53.5" y="143.7" width="27" height="1" fill="#4e1015" opacity="0.8"/>
<rect x="56.8" y="178.3" width="23.7" height="1" fill="#4e1015" opacity="0.8"/>
<rect x="19" y="222.5" width="15" height="1" fill="#4e1015" opacity="0.8"/>
<rect x="19" y="140.3" width="61.5" height="375.5" fill="none" stroke="#4a2420" stroke-width="0.7" opacity="0.8"/>
<rect x="83.4" y="140.3" width="6.4" height="375.5" fill="url(#cbar)" stroke="#555" stroke-width="0.35"/>
<line x1="89.8" x2="91.6" y1="515.8" y2="515.8" stroke="#333" stroke-width="0.55"/>
<text x="93.9" y="517.7" class="t">0</text>
<line x1="89.8" x2="91.6" y1="469.18" y2="469.18" stroke="#333" stroke-width="0.55"/>
<text x="93.9" y="471.08" class="t">20</text>
<line x1="89.8" x2="91.6" y1="422.57" y2="422.57" stroke="#333" stroke-width="0.55"/>
<text x="93.9" y="424.47" class="t">40</text>
<line x1="89.8" x2="91.6" y1="375.95" y2="375.95" stroke="#333" stroke-width="0.55"/>
<text x="93.9" y="377.85" class="t">60</text>
<line x1="89.8" x2="91.6" y1="329.33" y2="329.33" stroke="#333" stroke-width="0.55"/>
<text x="93.9" y="331.23" class="t">80</text>
<line x1="89.8" x2="91.6" y1="282.71" y2="282.71" stroke="#333" stroke-width="0.55"/>
<text x="93.9" y="284.61" class="t">100</text>
<line x1="89.8" x2="91.6" y1="236.1" y2="236.1" stroke="#333" stroke-width="0.55"/>
<text x="93.9" y="238" class="t">120</text>
<line x1="89.8" x2="91.6" y1="189.48" y2="189.48" stroke="#333" stroke-width="0.55"/>
<text x="93.9" y="191.38" class="t">140</text>
<line x1="89.8" x2="91.6" y1="142.86" y2="142.86" stroke="#333" stroke-width="0.55"/>
<text x="93.9" y="144.76" class="t">160</text>
<line x1="19" x2="19" y1="515.8" y2="517.4" stroke="#333" stroke-width="0.55"/>
<line x1="49.75" x2="49.75" y1="515.8" y2="517.4" stroke="#333" stroke-width="0.55"/>
<line x1="80.5" x2="80.5" y1="515.8" y2="517.4" stroke="#333" stroke-width="0.55"/>
<text x="19" y="524.1" class="t">-2.0</text>
<text x="49.75" y="524.1" class="t" text-anchor="middle">TSS</text>
<text x="80.5" y="524.1" class="t" text-anchor="end">2.0Kb</text>
<text x="49.75" y="531" class="t" text-anchor="middle">gene distance (bp)</text>
<text transform="translate(15.6,328.05) rotate(-90)" class="t" text-anchor="middle">genes</text>
<polyline points="19,123.13 19.51,123.12 20.02,123.11 20.54,123.09 21.05,123.08 21.56,123.07 22.07,123.06 22.59,123.05 23.1,123.03 23.61,123.02 24.12,123 24.64,122.99 25.15,122.97 25.66,122.96 26.18,122.94 26.69,122.92 27.2,122.9 27.71,122.88 28.23,122.86 28.74,122.84 29.25,122.82 29.76,122.79 30.27,122.77 30.79,122.74 31.3,122.71 31.81,122.68 32.33,122.65 32.84,122.62 33.35,122.58 33.86,122.55 34.38,122.51 34.89,122.46 35.4,122.41 35.91,122.36 36.42,122.3 36.94,122.23 37.45,122.16 37.96,122.07 38.47,121.97 38.99,121.86 39.5,121.72 40.01,121.55 40.52,121.35 41.04,121.1 41.55,120.8 42.06,120.42 42.58,119.96 43.09,119.37 43.6,118.63 44.11,117.69 44.62,116.51 45.14,115 45.65,113.09 46.16,110.66 46.67,107.56 47.19,103.65 47.7,98.73 48.21,92.67 48.73,85.5 49.24,78.16 49.75,74.33 50.26,78.16 50.78,85.5 51.29,92.67 51.8,98.73 52.31,103.65 52.83,107.56 53.34,110.66 53.85,113.09 54.36,115 54.88,116.51 55.39,117.69 55.9,118.63 56.41,119.37 56.93,119.96 57.44,120.42 57.95,120.8 58.46,121.1 58.98,121.35 59.49,121.55 60,121.72 60.51,121.86 61.02,121.97 61.54,122.07 62.05,122.16 62.56,122.23 63.08,122.3 63.59,122.36 64.1,122.41 64.61,122.46 65.12,122.51 65.64,122.55 66.15,122.58 66.66,122.62 67.17,122.65 67.69,122.68 68.2,122.71 68.71,122.74 69.22,122.77 69.74,122.79 70.25,122.82 70.76,122.84 71.28,122.86 71.79,122.88 72.3,122.9 72.81,122.92 73.32,122.94 73.84,122.96 74.35,122.97 74.86,122.99 75.38,123 75.89,123.02 76.4,123.03 76.91,123.05 77.42,123.06 77.94,123.07 78.45,123.08 78.96,123.09 79.47,123.11 79.99,123.12 80.5,123.13" fill="none" stroke="#1c1c68" stroke-width="0.95" stroke-linejoin="round"/>
<rect x="19" y="72.3" width="61.5" height="53.9" fill="none" stroke="#3c3838" stroke-width="0.75"/>
<text x="49.75" y="69.2" class="t2" text-anchor="middle" style="font-size:5.35px">50_cells.filtered</text>
<g>
<line x1="17.2" x2="19" y1="124.4" y2="124.4" stroke="#333" stroke-width="0.55"/>
<text x="14.9" y="126.2" class="t" text-anchor="end">0</text>
<line x1="17.2" x2="19" y1="103.45" y2="103.45" stroke="#333" stroke-width="0.55"/>
<text x="14.9" y="105.25" class="t" text-anchor="end">100</text>
<line x1="17.2" x2="19" y1="82.5" y2="82.5" stroke="#333" stroke-width="0.55"/>
<text x="14.9" y="84.3" class="t" text-anchor="end">200</text>
</g>
<line x1="19" x2="19" y1="126.2" y2="127.8" stroke="#333" stroke-width="0.55"/>
<line x1="49.75" x2="49.75" y1="126.2" y2="127.8" stroke="#333" stroke-width="0.55"/>
<line x1="80.5" x2="80.5" y1="126.2" y2="127.8" stroke="#333" stroke-width="0.55"/>
<text x="19" y="133.9" class="t">-2.0</text>
<text x="49.75" y="133.9" class="t" text-anchor="middle">TSS</text>
<text x="80.5" y="133.9" class="t" text-anchor="end">2.0Kb</text>
<line x1="50.7" x2="60" y1="99.2" y2="99.2" stroke="#1c1c68" stroke-width="0.95"/>
<text x="62.9" y="101.2" class="t">genes</text>
</g>
<g style="font-size:4.45px">
<g filter="url(#hm1)"><rect x="111.7" y="139.7" width="69.1" height="379.9" fill="url(#vb1)"/><polygon points="114.7,139.7 114.78,161.7 116.18,181.7 117.63,199.2 117.72,201.7 118.41,241.7 118.69,254.2 118.87,256.7 119.77,266.7 120.61,274.2 121.64,281.7 122.95,289.2 124.66,296.7 126.12,301.7 127.97,306.7 129.08,309.2 129.93,311.7 130.51,326.7 131.34,341.7 132.08,351.7 133.27,364.2 135.5,396.7 136.34,429.2 137.82,496.7 137.87,519.6 155.53,519.6 155.58,496.7 157.06,429.2 157.9,396.7 160.13,364.2 161.32,351.7 162.06,341.7 162.89,326.7 163.47,311.7 164.32,309.2 165.43,306.7 167.28,301.7 168.74,296.7 170.45,289.2 171.76,281.7 172.79,274.2 173.63,266.7 174.53,256.7 174.71,254.2 174.99,241.7 175.68,201.7 175.77,199.2 177.22,181.7 178.62,161.7 178.7,139.7" fill="#030000" style="mix-blend-mode:lighten"/><polygon points="118.7,139.7 118.85,146.7 119.8,161.7 121.67,181.7 123.61,199.2 125.23,231.7 126.68,254.2 127.98,261.7 130.05,271.7 130.66,276.7 133.1,311.7 136.22,359.2 137.41,396.7 138.5,451.7 139.63,499.2 139.63,519.6 153.77,519.6 153.77,499.2 154.9,451.7 155.99,396.7 157.18,359.2 160.3,311.7 162.74,276.7 163.35,271.7 165.42,261.7 166.72,254.2 168.17,231.7 169.79,199.2 171.73,181.7 173.6,161.7 174.55,146.7 174.7,139.7" fill="#050000" style="mix-blend-mode:lighten"/><polygon points="122.7,139.7 122.74,144.2 123.09,149.2 123.59,154.2 124.76,161.7 125.58,174.2 126.82,186.7 127.84,199.2 128.42,211.7 129.03,221.7 129.65,229.2 130.78,239.2 131.93,254.2 133.95,284.2 136.22,311.7 137.41,356.7 138.9,399.2 139.38,421.7 139.82,456.7 140.72,499.2 140.72,519.6 152.68,519.6 152.68,499.2 153.58,456.7 154.02,421.7 154.5,399.2 155.99,356.7 157.18,311.7 159.45,284.2 161.47,254.2 162.62,239.2 163.75,229.2 164.37,221.7 164.98,211.7 165.56,199.2 166.58,186.7 167.82,174.2 168.64,161.7 169.81,154.2 170.31,149.2 170.66,144.2 170.7,139.7" fill="#080000" style="mix-blend-mode:lighten"/><polygon points="125.1,139.7 125.17,144.2 127.2,161.7 130.24,199.2 132.67,231.7 133.48,244.2 134.42,254.2 135.71,271.7 137.27,311.7 138.29,346.7 139.38,376.7 140.12,431.7 141.36,499.2 141.36,519.6 152.04,519.6 152.04,499.2 153.28,431.7 154.02,376.7 155.11,346.7 156.13,311.7 157.69,271.7 158.98,254.2 159.92,244.2 160.73,231.7 163.16,199.2 166.2,161.7 168.23,144.2 168.3,139.7" fill="#0a0000" style="mix-blend-mode:lighten"/><polygon points="127.5,139.7 127.57,144.2 129.6,161.7 130.61,174.2 131.63,189.2 132.61,199.2 134,226.7 134.76,236.7 135.74,246.7 137.16,286.7 138.32,311.7 139.37,344.2 140.85,441.7 142,499.2 142,519.6 151.4,519.6 151.4,499.2 152.55,441.7 154.03,344.2 155.08,311.7 156.24,286.7 157.66,246.7 158.64,236.7 159.4,226.7 160.79,199.2 161.77,189.2 162.79,174.2 163.8,161.7 165.83,144.2 165.9,139.7" fill="#0d0000" style="mix-blend-mode:lighten"/><polygon points="129.27,139.7 129.32,144.2 129.53,146.7 130.07,151.7 131.18,159.2 131.43,161.7 132.94,184.2 134.62,214.2 135.75,229.2 136.53,246.7 137.94,284.2 139.36,311.7 141.21,431.7 142.13,481.7 142.64,499.2 142.64,519.6 150.76,519.6 150.76,499.2 151.27,481.7 152.19,431.7 154.04,311.7 155.46,284.2 156.87,246.7 157.65,229.2 158.78,214.2 160.46,184.2 161.97,161.7 162.22,159.2 163.33,151.7 163.87,146.7 164.08,144.2 164.13,139.7" fill="#0f0000" style="mix-blend-mode:lighten"/><polygon points="130.41,139.7 130.48,144.2 132.78,161.7 135.89,214.2 136.64,229.2 139.89,311.7 142.15,461.7 142.99,496.7 143.02,519.6 150.38,519.6 150.41,496.7 151.25,461.7 153.51,311.7 156.76,229.2 157.51,214.2 160.62,161.7 162.92,144.2 162.99,139.7" fill="#120000" style="mix-blend-mode:lighten"/><polygon points="131.56,139.7 131.64,144.2 133.28,156.7 134.11,161.7 134.7,171.7 135.44,189.2 136.65,209.2 137.44,234.2 138.62,261.7 139.15,279.2 140.41,311.7 141.83,409.2 142.24,446.7 142.89,476.7 143.23,499.2 143.23,519.6 150.17,519.6 150.17,499.2 150.51,476.7 151.16,446.7 151.57,409.2 152.99,311.7 154.25,279.2 154.78,261.7 155.96,234.2 156.75,209.2 157.96,189.2 158.7,171.7 159.29,161.7 160.12,156.7 161.76,144.2 161.84,139.7" fill="#140000" style="mix-blend-mode:lighten"/><polygon points="132.7,139.7 132.74,144.2 133.19,149.2 133.85,154.2 134.84,159.2 135.07,161.7 135.8,179.2 136.73,194.2 137.78,226.7 138.74,249.2 139.79,284.2 140.43,301.7 140.94,311.7 141.44,346.7 142.3,431.7 143.44,499.2 143.44,519.6 149.96,519.6 149.96,499.2 151.1,431.7 151.96,346.7 152.46,311.7 152.97,301.7 153.61,284.2 154.66,249.2 155.62,226.7 156.67,194.2 157.6,179.2 158.33,161.7 158.56,159.2 159.55,154.2 160.21,149.2 160.66,144.2 160.7,139.7" fill="#170000" style="mix-blend-mode:lighten"/><polygon points="133.3,139.7 133.36,144.2 133.61,146.7 135.5,159.2 135.75,161.7 136.63,179.2 138.7,234.2 140.5,294.2 140.82,301.7 141.45,311.7 142.23,406.7 143.65,499.2 143.65,519.6 149.75,519.6 149.75,499.2 151.17,406.7 151.95,311.7 152.58,301.7 152.9,294.2 154.7,234.2 156.77,179.2 157.65,161.7 157.9,159.2 159.79,146.7 160.04,144.2 160.1,139.7" fill="#1a0000" style="mix-blend-mode:lighten"/><polygon points="133.9,139.7 133.97,144.2 136.42,161.7 136.68,166.7 137.24,184.2 138.65,219.2 139.12,239.2 140.2,271.7 140.63,289.2 141.57,309.2 142.44,406.7 143.86,499.2 143.86,519.6 149.54,519.6 149.54,499.2 150.96,406.7 151.83,309.2 152.77,289.2 153.2,271.7 154.28,239.2 154.75,219.2 156.16,184.2 156.72,166.7 156.98,161.7 159.43,144.2 159.5,139.7" fill="#1c0000" style="mix-blend-mode:lighten"/><polygon points="134.5,139.7 134.58,144.2 135.65,151.7 136.2,156.7 136.67,159.2 136.9,161.7 137.56,181.7 138.7,206.7 139.2,231.7 140.17,259.2 140.66,281.7 141.75,309.2 142.56,399.2 143.47,466.7 144.07,499.2 144.07,519.6 149.33,519.6 149.33,499.2 149.93,466.7 150.84,399.2 151.65,309.2 152.74,281.7 153.23,259.2 154.2,231.7 154.7,206.7 155.84,181.7 156.5,161.7 156.73,159.2 157.2,156.7 157.75,151.7 158.82,144.2 158.9,139.7" fill="#1f0000" style="mix-blend-mode:lighten"/><polygon points="135.1,139.7 135.19,144.2 135.54,146.7 136.26,154.2 137,159.2 137.24,161.7 137.86,179.2 138.72,196.7 139.34,226.7 140.22,251.7 140.75,276.7 141.46,294.2 141.98,311.7 142.72,396.7 143.57,461.7 144.26,499.2 144.26,519.6 149.14,519.6 149.14,499.2 149.83,461.7 150.68,396.7 151.42,311.7 151.94,294.2 152.65,276.7 153.18,251.7 154.06,226.7 154.68,196.7 155.54,179.2 156.16,161.7 156.4,159.2 157.14,154.2 157.86,146.7 158.21,144.2 158.3,139.7" fill="#210000" style="mix-blend-mode:lighten"/><polygon points="135.7,139.7 135.73,144.2 136.07,149.2 137.57,161.7 138.73,189.2 139.46,221.7 140.21,244.2 140.83,271.7 142.16,311.7 142.72,379.2 143.35,434.2 144.44,499.2 144.44,519.6 148.96,519.6 148.96,499.2 150.05,434.2 150.68,379.2 151.24,311.7 152.57,271.7 153.19,244.2 153.94,221.7 154.67,189.2 155.83,161.7 157.33,149.2 157.67,144.2 157.7,139.7" fill="#240000" style="mix-blend-mode:lighten"/><polygon points="135.91,139.7 135.95,144.2 136.34,149.2 137.91,161.7 138.65,179.2 139.64,219.2 140.21,236.7 140.9,266.7 142.33,311.7 142.75,366.7 143.43,429.2 143.9,461.7 144.62,499.2 144.62,519.6 148.78,519.6 148.78,499.2 149.5,461.7 149.97,429.2 150.65,366.7 151.07,311.7 152.5,266.7 153.19,236.7 153.76,219.2 154.75,179.2 155.49,161.7 157.06,149.2 157.45,144.2 157.49,139.7" fill="#260000" style="mix-blend-mode:lighten"/><polygon points="136.13,139.7 136.17,144.2 136.37,146.7 137.52,156.7 138.25,161.7 138.67,171.7 141.02,264.2 142.5,311.7 142.79,354.2 143.36,411.7 143.89,451.7 144.79,499.2 144.79,519.6 148.61,519.6 148.61,499.2 149.51,451.7 150.04,411.7 150.61,354.2 150.9,311.7 152.38,264.2 154.73,171.7 155.15,161.7 155.88,156.7 157.03,146.7 157.23,144.2 157.27,139.7" fill="#290000" style="mix-blend-mode:lighten"/><polygon points="136.34,139.7 136.39,144.2 136.62,146.7 137.43,154.2 138.58,161.7 138.69,164.2 141.07,259.2 142.56,309.2 143.49,411.7 144.05,451.7 144.97,499.2 144.97,519.6 148.43,519.6 148.43,499.2 149.35,451.7 149.91,411.7 150.84,309.2 152.33,259.2 154.71,164.2 154.82,161.7 155.97,154.2 156.78,146.7 157.01,144.2 157.06,139.7" fill="#2b0000" style="mix-blend-mode:lighten"/><polygon points="136.56,139.7 136.61,144.2 136.85,146.7 137.66,154.2 138.54,159.2 138.81,161.7 140.38,221.7 141.11,254.2 142.67,309.2 143.59,409.2 144.48,469.2 145.14,499.2 145.14,519.6 148.26,519.6 148.26,499.2 148.92,469.2 149.81,409.2 150.73,309.2 152.29,254.2 153.02,221.7 154.59,161.7 154.86,159.2 155.74,154.2 156.55,146.7 156.79,144.2 156.84,139.7" fill="#2e0000" style="mix-blend-mode:lighten"/><polygon points="136.77,139.7 136.83,144.2 137.32,149.2 137.89,154.2 138.77,159.2 138.98,161.7 140.51,219.2 141.14,249.2 142.77,309.2 143.69,406.7 144.58,466.7 145.32,499.2 145.32,519.6 148.08,519.6 148.08,499.2 148.82,466.7 149.71,406.7 150.63,309.2 152.26,249.2 152.89,219.2 154.42,161.7 154.63,159.2 155.51,154.2 156.08,149.2 156.57,144.2 156.63,139.7" fill="#300000" style="mix-blend-mode:lighten"/><polygon points="136.99,139.7 137.05,144.2 137.5,149.2 138.12,154.2 138.93,159.2 139.14,161.7 140.51,211.7 141.17,244.2 142.88,309.2 143.81,406.7 144.71,466.7 145.15,486.7 145.56,499.2 145.56,519.6 147.84,519.6 147.84,499.2 148.25,486.7 148.69,466.7 149.59,406.7 150.52,309.2 152.23,244.2 152.89,211.7 154.26,161.7 154.47,159.2 155.28,154.2 155.9,149.2 156.35,144.2 156.41,139.7" fill="#330000" style="mix-blend-mode:lighten"/><polygon points="137.65,139.7 137.7,144.2 137.95,146.7 139.81,161.7 140.83,199.2 141.37,229.2 143.35,311.7 143.96,379.2 144.95,451.7 145.44,474.2 146.7,496.7 146.7,519.6 146.7,519.6 146.7,496.7 147.96,474.2 148.45,451.7 149.44,379.2 150.05,311.7 152.03,229.2 152.57,199.2 153.59,161.7 155.45,146.7 155.7,144.2 155.75,139.7" fill="#3d0000" style="mix-blend-mode:lighten"/><polygon points="138.25,139.7 138.32,144.2 139.43,154.2 140.19,159.2 140.36,161.7 142.34,254.2 143.57,304.2 144.59,399.2 145.14,436.7 145.52,454.2 146.7,479.2 146.7,519.6 146.7,519.6 146.7,479.2 147.88,454.2 148.26,436.7 148.81,399.2 149.83,304.2 151.06,254.2 153.04,161.7 153.21,159.2 153.97,154.2 155.08,144.2 155.15,139.7" fill="#470000" style="mix-blend-mode:lighten"/><polygon points="138.8,139.7 138.85,144.2 139.33,149.2 140.55,159.2 140.73,161.7 144,309.2 144.92,396.7 145.35,424.2 145.78,439.2 146.68,459.2 146.7,519.6 146.7,519.6 146.72,459.2 147.62,439.2 148.05,424.2 148.48,396.7 149.4,309.2 152.67,161.7 152.85,159.2 154.07,149.2 154.55,144.2 154.6,139.7" fill="#520000" style="mix-blend-mode:lighten"/><polygon points="139.2,139.7 139.26,144.2 140.91,159.2 141.09,161.7 142.09,201.7 144.32,309.2 145.44,406.7 145.99,424.2 146.7,441.7 146.7,519.6 146.7,519.6 146.7,441.7 147.41,424.2 147.96,406.7 149.08,309.2 151.31,201.7 152.31,161.7 152.49,159.2 154.14,144.2 154.2,139.7" fill="#5c0000" style="mix-blend-mode:lighten"/><polygon points="139.6,139.7 139.66,144.2 141.25,159.2 141.41,161.7 142.46,201.7 144.7,311.7 145.52,384.2 145.84,399.2 146.7,424.2 146.7,519.6 146.7,519.6 146.7,424.2 147.56,399.2 147.88,384.2 148.7,311.7 150.94,201.7 151.99,161.7 152.15,159.2 153.74,144.2 153.8,139.7" fill="#660000" style="mix-blend-mode:lighten"/><polygon points="139.95,139.7 140.01,144.2 141.55,159.2 141.71,161.7 142.82,201.7 144.22,276.7 145.05,311.7 145.64,361.7 146.33,394.2 146.7,406.7 146.7,519.6 146.7,519.6 146.7,406.7 147.07,394.2 147.76,361.7 148.35,311.7 149.18,276.7 150.58,201.7 151.69,161.7 151.85,159.2 153.39,144.2 153.45,139.7" fill="#700000" style="mix-blend-mode:lighten"/><polygon points="140.28,139.7 140.35,144.2 142.02,161.7 142.55,184.2 143.19,201.7 144.2,261.7 145.4,311.7 145.76,339.2 146.69,384.2 146.7,519.6 146.7,519.6 146.71,384.2 147.64,339.2 148,311.7 149.2,261.7 150.21,201.7 150.85,184.2 151.38,161.7 153.05,144.2 153.12,139.7" fill="#7a0000" style="mix-blend-mode:lighten"/><polygon points="140.62,139.7 140.68,144.2 142.14,159.2 142.26,161.7 142.75,181.7 143.4,199.2 144.53,264.2 145.15,291.7 145.78,311.7 146.68,359.2 146.7,519.6 146.7,519.6 146.72,359.2 147.62,311.7 148.25,291.7 148.87,264.2 150,199.2 150.65,181.7 151.14,161.7 151.26,159.2 152.72,144.2 152.78,139.7" fill="#850000" style="mix-blend-mode:lighten"/><polygon points="140.9,139.7 140.95,144.2 142.36,159.2 143.67,199.2 145,274.2 145.6,296.7 146.25,311.7 146.68,334.2 146.7,519.6 146.7,519.6 146.72,334.2 147.15,311.7 147.8,296.7 148.4,274.2 149.73,199.2 151.04,159.2 152.45,144.2 152.5,139.7" fill="#8f0000" style="mix-blend-mode:lighten"/><polygon points="141.17,139.7 141.22,144.2 142.21,154.2 142.58,159.2 143.94,199.2 145.27,274.2 145.68,289.2 146.7,311.7 146.7,519.6 146.7,519.6 146.7,311.7 147.72,289.2 148.13,274.2 149.46,199.2 150.82,159.2 151.19,154.2 152.18,144.2 152.23,139.7" fill="#990000" style="mix-blend-mode:lighten"/><polygon points="141.43,139.7 141.49,144.2 142.26,151.7 142.8,159.2 144.21,199.2 145.41,269.2 145.67,279.2 146.67,299.2 146.7,519.6 146.7,519.6 146.73,299.2 147.73,279.2 147.99,269.2 149.19,199.2 150.6,159.2 151.14,151.7 151.91,144.2 151.97,139.7" fill="#a30000" style="mix-blend-mode:lighten"/><polygon points="141.7,139.7 141.77,144.2 142.52,151.7 143.02,159.2 143.68,179.2 144.23,191.7 144.51,201.7 145.6,266.7 146.7,289.2 146.7,519.6 146.7,519.6 146.7,289.2 147.8,266.7 148.89,201.7 149.17,191.7 149.72,179.2 150.38,159.2 150.88,151.7 151.63,144.2 151.7,139.7" fill="#ad0000" style="mix-blend-mode:lighten"/><polygon points="142.03,139.7 142.1,144.2 143.12,156.7 144.43,189.2 144.76,201.7 145.67,259.2 146.7,279.2 146.7,519.6 146.7,519.6 146.7,279.2 147.73,259.2 148.64,201.7 148.97,189.2 150.28,156.7 151.3,144.2 151.37,139.7" fill="#b80000" style="mix-blend-mode:lighten"/><polygon points="142.37,139.7 142.43,144.2 143.25,154.2 144.58,184.2 144.92,196.7 145.94,254.2 146.69,266.7 146.7,519.6 146.7,519.6 146.71,266.7 147.46,254.2 148.48,196.7 148.82,184.2 150.15,154.2 150.97,144.2 151.03,139.7" fill="#c20000" style="mix-blend-mode:lighten"/><polygon points="142.7,139.7 142.78,144.2 143.4,151.7 143.69,159.2 144.34,169.2 144.87,181.7 146.7,256.7 146.7,519.6 146.7,519.6 146.7,256.7 148.53,181.7 149.06,169.2 149.71,159.2 150,151.7 150.62,144.2 150.7,139.7" fill="#cc0000" style="mix-blend-mode:lighten"/><polygon points="143.2,139.7 143.26,144.2 143.7,151.7 143.7,156.7 144.15,159.2 144.42,161.7 145.01,171.7 145.57,184.2 146.69,226.7 146.7,519.6 146.7,519.6 146.71,226.7 147.83,184.2 148.39,171.7 148.98,161.7 149.25,159.2 149.7,156.7 149.7,151.7 150.14,144.2 150.2,139.7" fill="#d60000" style="mix-blend-mode:lighten"/><polygon points="143.7,139.7 143.7,151.7 143.9,154.2 145.04,159.2 145.81,161.7 145.99,164.2 146.42,174.2 146.69,189.2 146.7,519.6 146.7,519.6 146.71,189.2 146.98,174.2 147.41,164.2 147.59,161.7 148.36,159.2 149.5,154.2 149.7,151.7 149.7,139.7" fill="#e00000" style="mix-blend-mode:lighten"/><polygon points="143.7,139.7 143.7,149.2 144.25,151.7 145.21,154.2 146.7,156.7 146.7,519.6 146.7,519.6 146.7,156.7 148.19,154.2 149.15,151.7 149.7,149.2 149.7,139.7" fill="#eb0000" style="mix-blend-mode:lighten"/><polygon points="143.7,139.7 143.7,146.7 145.67,149.2 146.7,151.7 146.7,519.6 146.7,519.6 146.7,151.7 147.73,149.2 149.7,146.7 149.7,139.7" fill="#f50000" style="mix-blend-mode:lighten"/><polygon points="143.7,139.7 143.7,141.7 146.7,144.2 146.7,519.6 146.7,519.6 146.7,144.2 149.7,141.7 149.7,139.7" fill="#ff0000" style="mix-blend-mode:lighten"/></g>
<rect x="172" y="146.9" width="6.8" height="1" fill="#4e1015" opacity="0.8"/>
<rect x="113.7" y="161.9" width="16.3" height="1" fill="#4e1015" opacity="0.8"/>
<rect x="150.5" y="161.9" width="28.3" height="1" fill="#4e1015" opacity="0.4"/>
<rect x="152" y="210.8" width="26.8" height="1" fill="#4e1015" opacity="0.8"/>
<rect x="113.7" y="223.7" width="9.3" height="1" fill="#4e1015" opacity="0.8"/>
<rect x="113.7" y="307" width="19.7" height="1" fill="#4e1015" opacity="0.8"/>
<rect x="152.3" y="307" width="26.5" height="1" fill="#4e1015" opacity="0.8"/>
<rect x="113.7" y="328" width="10.3" height="1" fill="#4e1015" opacity="0.8"/>
<rect x="151" y="328" width="27.8" height="1" fill="#4e1015" opacity="0.8"/>
<rect x="166" y="358.2" width="12.8" height="1" fill="#4e1015" opacity="0.8"/>
<rect x="113.7" y="431.6" width="21.1" height="1" fill="#4e1015" opacity="0.8"/>
<rect x="113.7" y="141.7" width="65.1" height="375.9" fill="none" stroke="#4a2420" stroke-width="0.7" opacity="0.8"/>
<rect x="182.5" y="141.7" width="6.1" height="375.9" fill="url(#cbar)" stroke="#555" stroke-width="0.35"/>
<line x1="188.6" x2="190.4" y1="517.6" y2="517.6" stroke="#333" stroke-width="0.55"/>
<text x="192.7" y="519.5" class="t">0</text>
<line x1="188.6" x2="190.4" y1="470.61" y2="470.61" stroke="#333" stroke-width="0.55"/>
<text x="192.7" y="472.51" class="t">10</text>
<line x1="188.6" x2="190.4" y1="423.62" y2="423.62" stroke="#333" stroke-width="0.55"/>
<text x="192.7" y="425.52" class="t">20</text>
<line x1="188.6" x2="190.4" y1="376.64" y2="376.64" stroke="#333" stroke-width="0.55"/>
<text x="192.7" y="378.54" class="t">30</text>
<line x1="188.6" x2="190.4" y1="329.65" y2="329.65" stroke="#333" stroke-width="0.55"/>
<text x="192.7" y="331.55" class="t">40</text>
<line x1="188.6" x2="190.4" y1="282.66" y2="282.66" stroke="#333" stroke-width="0.55"/>
<text x="192.7" y="284.56" class="t">50</text>
<line x1="188.6" x2="190.4" y1="235.68" y2="235.68" stroke="#333" stroke-width="0.55"/>
<text x="192.7" y="237.58" class="t">60</text>
<line x1="188.6" x2="190.4" y1="188.69" y2="188.69" stroke="#333" stroke-width="0.55"/>
<text x="192.7" y="190.59" class="t">70</text>
<line x1="113.7" x2="113.7" y1="517.6" y2="519.2" stroke="#333" stroke-width="0.55"/>
<line x1="146.25" x2="146.25" y1="517.6" y2="519.2" stroke="#333" stroke-width="0.55"/>
<line x1="178.8" x2="178.8" y1="517.6" y2="519.2" stroke="#333" stroke-width="0.55"/>
<text x="113.7" y="525.9" class="t">-2.0</text>
<text x="146.25" y="525.9" class="t" text-anchor="middle">TSS</text>
<text x="178.8" y="525.9" class="t" text-anchor="end">2.0Kb</text>
<text x="146.25" y="532.8" class="t" text-anchor="middle">gene distance (bp)</text>
<text transform="translate(110.3,329.65) rotate(-90)" class="t" text-anchor="middle">genes</text>
<polyline points="113.6,125.59 114.14,125.58 114.68,125.57 115.23,125.56 115.77,125.55 116.31,125.53 116.85,125.52 117.4,125.5 117.94,125.49 118.48,125.47 119.02,125.45 119.57,125.43 120.11,125.41 120.65,125.39 121.19,125.36 121.74,125.34 122.28,125.31 122.82,125.27 123.36,125.24 123.91,125.2 124.45,125.16 124.99,125.11 125.53,125.06 126.08,125 126.62,124.93 127.16,124.86 127.7,124.78 128.25,124.69 128.79,124.59 129.33,124.48 129.88,124.36 130.42,124.21 130.96,124.05 131.5,123.87 132.04,123.66 132.59,123.43 133.13,123.16 133.67,122.86 134.22,122.51 134.76,122.11 135.3,121.66 135.84,121.14 136.38,120.54 136.93,119.86 137.47,119.08 138.01,118.18 138.56,117.15 139.1,115.96 139.64,114.6 140.18,113.03 140.72,111.23 141.27,109.15 141.81,106.77 142.35,104.04 142.89,100.91 143.44,97.33 143.98,93.27 144.52,88.72 145.06,83.82 145.61,79.15 146.15,76.76 146.69,79.15 147.23,83.82 147.78,88.72 148.32,93.27 148.86,97.33 149.41,100.91 149.95,104.04 150.49,106.77 151.03,109.15 151.57,111.23 152.12,113.03 152.66,114.6 153.2,115.96 153.75,117.15 154.29,118.18 154.83,119.08 155.37,119.86 155.91,120.54 156.46,121.14 157,121.66 157.54,122.11 158.08,122.51 158.63,122.86 159.17,123.16 159.71,123.43 160.25,123.66 160.8,123.87 161.34,124.05 161.88,124.21 162.42,124.36 162.97,124.48 163.51,124.59 164.05,124.69 164.59,124.78 165.14,124.86 165.68,124.93 166.22,125 166.76,125.06 167.31,125.11 167.85,125.16 168.39,125.2 168.94,125.24 169.48,125.27 170.02,125.31 170.56,125.34 171.1,125.36 171.65,125.39 172.19,125.41 172.73,125.43 173.27,125.45 173.82,125.47 174.36,125.49 174.9,125.5 175.44,125.52 175.99,125.53 176.53,125.55 177.07,125.56 177.61,125.57 178.16,125.58 178.7,125.59" fill="none" stroke="#1c1c68" stroke-width="0.95" stroke-linejoin="round"/>
<rect x="113.6" y="74.2" width="65.1" height="53.2" fill="none" stroke="#3c3838" stroke-width="0.75"/>
<text x="146.15" y="71" class="t2" text-anchor="middle" style="font-size:5.5px">100_cells.filtered</text>
<g clip-path="url(#cl1)">
<line x1="111.8" x2="113.6" y1="127.6" y2="127.6" stroke="#333" stroke-width="0.55"/>
<text x="109.5" y="129.4" class="t" text-anchor="end">0</text>
<line x1="111.8" x2="113.6" y1="111.2" y2="111.2" stroke="#333" stroke-width="0.55"/>
<text x="109.5" y="113" class="t" text-anchor="end">20</text>
<line x1="111.8" x2="113.6" y1="94.8" y2="94.8" stroke="#333" stroke-width="0.55"/>
<text x="109.5" y="96.6" class="t" text-anchor="end">40</text>
<line x1="111.8" x2="113.6" y1="78.4" y2="78.4" stroke="#333" stroke-width="0.55"/>
<text x="109.5" y="80.2" class="t" text-anchor="end">60</text>
</g>
<line x1="113.6" x2="113.6" y1="127.4" y2="129" stroke="#333" stroke-width="0.55"/>
<line x1="146.15" x2="146.15" y1="127.4" y2="129" stroke="#333" stroke-width="0.55"/>
<line x1="178.7" x2="178.7" y1="127.4" y2="129" stroke="#333" stroke-width="0.55"/>
<text x="113.6" y="135.8" class="t">-2.0</text>
<text x="146.15" y="135.8" class="t" text-anchor="middle">TSS</text>
<text x="178.7" y="135.8" class="t" text-anchor="end">2.0Kb</text>
<line x1="147.5" x2="158" y1="100.5" y2="100.5" stroke="#1c1c68" stroke-width="0.95"/>
<text x="160.9" y="102.5" class="t">genes</text>
</g>
<g style="font-size:4.45px">
<g filter="url(#hm2)"><rect x="212.1" y="138.4" width="69.3" height="379.4" fill="url(#vb2)"/><polygon points="216.35,138.4 216.42,160.4 217.76,180.4 219.14,197.9 219.93,242.9 220.15,252.9 220.33,255.4 221.18,265.4 221.98,272.9 222.97,280.4 224.22,287.9 225.26,292.9 226.53,297.9 228.1,302.9 230.11,307.9 230.82,310.4 231.38,325.4 232.17,340.4 232.88,350.4 234.02,362.9 236.13,395.4 238.33,495.4 238.36,517.8 255.14,517.8 255.17,495.4 257.37,395.4 259.48,362.9 260.62,350.4 261.33,340.4 262.12,325.4 262.68,310.4 263.39,307.9 265.4,302.9 266.97,297.9 268.24,292.9 269.28,287.9 270.53,280.4 271.52,272.9 272.32,265.4 273.17,255.4 273.35,252.9 273.57,242.9 274.36,197.9 275.74,180.4 277.08,160.4 277.15,138.4" fill="#030000" style="mix-blend-mode:lighten"/><polygon points="220.15,138.4 220.3,145.4 221.2,160.4 222.97,180.4 224.82,197.9 226.23,227.9 227.74,252.9 229,260.4 230.96,270.4 231.53,275.4 233.85,310.4 236.8,357.9 237.93,395.4 238.91,447.9 239.98,495.4 240.03,517.8 253.47,517.8 253.52,495.4 254.59,447.9 255.57,395.4 256.7,357.9 259.65,310.4 261.97,275.4 262.54,270.4 264.5,260.4 265.76,252.9 267.27,227.9 268.68,197.9 270.53,180.4 272.3,160.4 273.2,145.4 273.35,138.4" fill="#050000" style="mix-blend-mode:lighten"/><polygon points="223.95,138.4 223.98,142.9 224.32,147.9 224.8,152.9 225.91,160.4 226.69,172.9 227.87,185.4 228.84,197.9 229.39,210.4 229.97,220.4 230.57,227.9 231.64,237.9 232.73,252.9 234.65,282.9 236.8,310.4 237.93,355.4 239.35,397.9 239.8,420.4 240.22,455.4 241.04,495.4 241.07,517.8 252.43,517.8 252.46,495.4 253.28,455.4 253.7,420.4 254.15,397.9 255.57,355.4 256.7,310.4 258.85,282.9 260.77,252.9 261.86,237.9 262.93,227.9 263.53,220.4 264.11,210.4 264.66,197.9 265.63,185.4 266.81,172.9 267.59,160.4 268.7,152.9 269.18,147.9 269.52,142.9 269.55,138.4" fill="#080000" style="mix-blend-mode:lighten"/><polygon points="226.23,138.4 226.3,142.9 228.22,160.4 231.12,197.9 233.43,230.4 234.2,242.9 235.1,252.9 236.31,270.4 237.8,310.4 238.69,342.9 239.8,375.4 240.46,427.9 241.68,497.9 241.68,517.8 251.82,517.8 251.82,497.9 253.04,427.9 253.7,375.4 254.81,342.9 255.7,310.4 257.19,270.4 258.4,252.9 259.3,242.9 260.07,230.4 262.38,197.9 265.28,160.4 267.2,142.9 267.27,138.4" fill="#0a0000" style="mix-blend-mode:lighten"/><polygon points="228.51,138.4 228.58,142.9 230.5,160.4 231.47,172.9 232.43,187.9 233.37,197.9 234.69,225.4 235.42,235.4 236.35,245.4 237.6,282.9 238.8,310.4 239.79,342.9 241.16,437.9 242.29,497.9 242.29,517.8 251.21,517.8 251.21,497.9 252.34,437.9 253.71,342.9 254.7,310.4 255.9,282.9 257.15,245.4 258.08,235.4 258.81,225.4 260.13,197.9 261.07,187.9 262.03,172.9 263,160.4 264.92,142.9 264.99,138.4" fill="#0d0000" style="mix-blend-mode:lighten"/><polygon points="230.19,138.4 230.24,142.9 230.44,145.4 230.96,150.4 232.01,157.9 232.25,160.4 233.68,182.9 235.28,212.9 236.35,227.9 237.1,245.4 238.34,280.4 239.78,310.4 241.5,427.9 242.37,477.9 242.9,497.9 242.9,517.8 250.6,517.8 250.6,497.9 251.13,477.9 252,427.9 253.72,310.4 255.16,280.4 256.4,245.4 257.15,227.9 258.22,212.9 259.82,182.9 261.25,160.4 261.49,157.9 262.54,150.4 263.06,145.4 263.26,142.9 263.31,138.4" fill="#0f0000" style="mix-blend-mode:lighten"/><polygon points="231.28,138.4 231.34,142.9 233.53,160.4 236.49,212.9 237.2,227.9 240.21,307.9 242.44,460.4 243.23,495.4 243.25,517.8 250.25,517.8 250.27,495.4 251.06,460.4 253.29,307.9 256.3,227.9 257.01,212.9 259.97,160.4 262.16,142.9 262.22,138.4" fill="#120000" style="mix-blend-mode:lighten"/><polygon points="232.36,138.4 232.44,142.9 234,155.4 234.79,160.4 235.35,170.4 236.06,187.9 237.21,207.9 237.96,232.9 239.08,260.4 239.59,277.9 240.78,310.4 242.09,405.4 242.51,445.4 243.43,495.4 243.45,517.8 250.05,517.8 250.07,495.4 250.99,445.4 251.41,405.4 252.72,310.4 253.91,277.9 254.42,260.4 255.54,232.9 256.29,207.9 257.44,187.9 258.15,170.4 258.71,160.4 259.5,155.4 261.06,142.9 261.14,138.4" fill="#140000" style="mix-blend-mode:lighten"/><polygon points="233.45,138.4 233.49,142.9 233.91,147.9 234.55,152.9 235.48,157.9 235.71,160.4 236.4,177.9 237.28,192.9 238.28,225.4 239.11,245.4 240.19,282.9 240.8,300.4 241.28,310.4 241.76,345.4 242.54,427.9 243.63,495.4 243.65,517.8 249.85,517.8 249.87,495.4 250.96,427.9 251.74,345.4 252.22,310.4 252.7,300.4 253.31,282.9 254.39,245.4 255.22,225.4 256.22,192.9 257.1,177.9 257.79,160.4 258.02,157.9 258.95,152.9 259.59,147.9 260.01,142.9 260.05,138.4" fill="#170000" style="mix-blend-mode:lighten"/><polygon points="234.02,138.4 234.07,142.9 234.32,145.4 236.11,157.9 236.35,160.4 237.19,177.9 239.16,232.9 240.87,292.9 241.17,300.4 241.77,310.4 242.51,405.4 243.85,497.9 243.85,517.8 249.65,517.8 249.65,497.9 250.99,405.4 251.73,310.4 252.33,300.4 252.63,292.9 254.34,232.9 256.31,177.9 257.15,160.4 257.39,157.9 259.18,145.4 259.43,142.9 259.48,138.4" fill="#1a0000" style="mix-blend-mode:lighten"/><polygon points="234.59,138.4 234.66,142.9 236.99,160.4 237.23,165.4 237.77,182.9 239.11,217.9 239.55,237.9 240.58,270.4 240.99,287.9 241.89,307.9 242.68,402.9 244.05,497.9 244.05,517.8 249.45,517.8 249.45,497.9 250.82,402.9 251.61,307.9 252.51,287.9 252.92,270.4 253.95,237.9 254.39,217.9 255.73,182.9 256.27,165.4 256.51,160.4 258.84,142.9 258.91,138.4" fill="#1c0000" style="mix-blend-mode:lighten"/><polygon points="235.16,138.4 235.24,142.9 236.25,150.4 236.78,155.4 237.23,157.9 237.44,160.4 238.07,180.4 239.15,205.4 239.63,230.4 240.55,257.9 241.02,280.4 242.05,307.9 242.82,397.9 243.69,465.4 244.25,497.9 244.25,517.8 249.25,517.8 249.25,497.9 249.81,465.4 250.68,397.9 251.45,307.9 252.48,280.4 252.95,257.9 253.87,230.4 254.35,205.4 255.43,180.4 256.06,160.4 256.27,157.9 256.72,155.4 257.25,150.4 258.26,142.9 258.34,138.4" fill="#1f0000" style="mix-blend-mode:lighten"/><polygon points="235.73,138.4 235.81,142.9 236.84,152.9 237.54,157.9 237.76,160.4 238.35,177.9 239.17,195.4 239.7,222.9 240.6,250.4 241.11,275.4 242.21,307.9 242.98,395.4 243.74,457.9 244.44,497.9 244.44,517.8 249.06,517.8 249.06,497.9 249.76,457.9 250.52,395.4 251.29,307.9 252.39,275.4 252.9,250.4 253.8,222.9 254.33,195.4 255.15,177.9 255.74,160.4 255.96,157.9 256.66,152.9 257.69,142.9 257.77,138.4" fill="#210000" style="mix-blend-mode:lighten"/><polygon points="236.3,138.4 236.33,142.9 236.65,147.9 238.08,160.4 239.18,187.9 239.88,220.4 240.59,242.9 241.18,270.4 242.44,310.4 242.95,375.4 243.57,432.9 244.6,497.9 244.6,517.8 248.9,517.8 248.9,497.9 249.93,432.9 250.55,375.4 251.06,310.4 252.32,270.4 252.91,242.9 253.62,220.4 254.32,187.9 255.42,160.4 256.85,147.9 257.17,142.9 257.2,138.4" fill="#240000" style="mix-blend-mode:lighten"/><polygon points="236.5,138.4 236.54,142.9 236.91,147.9 238.4,160.4 239.1,177.9 241.24,265.4 242.6,310.4 243,365.4 243.65,427.9 244.77,497.9 244.77,517.8 248.73,517.8 248.73,497.9 249.85,427.9 250.5,365.4 250.9,310.4 252.26,265.4 254.4,177.9 255.1,160.4 256.59,147.9 256.96,142.9 257,138.4" fill="#260000" style="mix-blend-mode:lighten"/><polygon points="236.71,138.4 236.75,142.9 236.94,145.4 238.03,155.4 238.72,160.4 239.12,170.4 241.36,262.9 242.77,310.4 243.58,410.4 244.09,450.4 244.94,497.9 244.94,517.8 248.56,517.8 248.56,497.9 249.41,450.4 249.92,410.4 250.73,310.4 252.14,262.9 254.38,170.4 254.78,160.4 255.47,155.4 256.56,145.4 256.75,142.9 256.79,138.4" fill="#290000" style="mix-blend-mode:lighten"/><polygon points="236.91,138.4 236.96,142.9 237.17,145.4 237.95,152.9 239.04,160.4 239.14,162.9 241.4,257.9 242.83,307.9 243.7,410.4 244.2,447.9 245.1,497.9 245.1,517.8 248.4,517.8 248.4,497.9 249.3,447.9 249.8,410.4 250.67,307.9 252.1,257.9 254.36,162.9 254.46,160.4 255.55,152.9 256.33,145.4 256.54,142.9 256.59,138.4" fill="#2b0000" style="mix-blend-mode:lighten"/><polygon points="237.11,138.4 237.17,142.9 237.39,145.4 238.17,152.9 239,157.9 239.25,160.4 241.44,252.9 242.93,307.9 243.8,407.9 244.61,465.4 245.27,497.9 245.27,517.8 248.23,517.8 248.23,497.9 248.89,465.4 249.7,407.9 250.57,307.9 252.06,252.9 254.25,160.4 254.5,157.9 255.33,152.9 256.11,145.4 256.33,142.9 256.39,138.4" fill="#2e0000" style="mix-blend-mode:lighten"/><polygon points="237.32,138.4 237.37,142.9 237.84,147.9 238.39,152.9 239.22,157.9 239.41,160.4 240.87,217.9 241.47,247.9 243.02,307.9 243.89,405.4 244.7,462.9 245.44,497.9 245.44,517.8 248.06,517.8 248.06,497.9 248.8,462.9 249.61,405.4 250.48,307.9 252.03,247.9 252.63,217.9 254.09,160.4 254.28,157.9 255.11,152.9 255.66,147.9 256.13,142.9 256.18,138.4" fill="#300000" style="mix-blend-mode:lighten"/><polygon points="237.52,138.4 237.58,142.9 238.02,147.9 238.6,152.9 239.37,157.9 239.57,160.4 240.87,210.4 241.5,242.9 243.12,307.9 244.01,405.4 244.87,465.4 245.67,497.9 245.67,517.8 247.83,517.8 247.83,497.9 248.63,465.4 249.49,405.4 250.38,307.9 252,242.9 252.63,210.4 253.93,160.4 254.13,157.9 254.9,152.9 255.48,147.9 255.92,142.9 255.98,138.4" fill="#330000" style="mix-blend-mode:lighten"/><polygon points="238.15,138.4 238.2,142.9 238.44,145.4 240.21,160.4 241.18,197.9 241.69,227.9 243.57,310.4 244.15,377.9 245.09,450.4 245.56,472.9 246.7,492.9 246.75,517.8 246.75,517.8 246.8,492.9 247.94,472.9 248.41,450.4 249.35,377.9 249.93,310.4 251.81,227.9 252.32,197.9 253.29,160.4 255.06,145.4 255.3,142.9 255.35,138.4" fill="#3d0000" style="mix-blend-mode:lighten"/><polygon points="238.72,138.4 238.79,142.9 239.85,152.9 240.57,157.9 240.72,160.4 242.62,252.9 243.78,302.9 244.72,395.4 245.28,435.4 245.65,452.9 246.73,475.4 246.75,517.8 246.75,517.8 246.77,475.4 247.85,452.9 248.22,435.4 248.78,395.4 249.72,302.9 250.88,252.9 252.78,160.4 252.93,157.9 253.65,152.9 254.71,142.9 254.78,138.4" fill="#470000" style="mix-blend-mode:lighten"/><polygon points="239.25,138.4 239.29,142.9 239.75,147.9 240.91,157.9 241.08,160.4 244.19,307.9 245.06,395.4 245.47,422.9 245.89,437.9 246.75,457.9 246.75,517.8 246.75,517.8 246.75,457.9 247.61,437.9 248.03,422.9 248.44,395.4 249.31,307.9 252.42,160.4 252.59,157.9 253.75,147.9 254.21,142.9 254.25,138.4" fill="#520000" style="mix-blend-mode:lighten"/><polygon points="239.63,138.4 239.68,142.9 241.25,157.9 241.42,160.4 242.37,200.4 244.49,307.9 245.56,405.4 246.75,440.4 246.75,517.8 246.75,517.8 246.75,440.4 247.94,405.4 249.01,307.9 251.13,200.4 252.08,160.4 252.25,157.9 253.82,142.9 253.87,138.4" fill="#5c0000" style="mix-blend-mode:lighten"/><polygon points="240.01,138.4 240.07,142.9 241.58,157.9 241.73,160.4 242.72,200.4 244.85,310.4 245.63,382.9 245.94,397.9 246.75,422.9 246.75,517.8 246.75,517.8 246.75,422.9 247.56,397.9 247.87,382.9 248.65,310.4 250.78,200.4 251.77,160.4 251.92,157.9 253.43,142.9 253.49,138.4" fill="#660000" style="mix-blend-mode:lighten"/><polygon points="240.34,138.4 240.39,142.9 242.01,160.4 243.07,200.4 244.4,275.4 245.18,310.4 245.75,360.4 246.75,405.4 246.75,517.8 246.75,517.8 246.75,405.4 247.75,360.4 248.32,310.4 249.1,275.4 250.43,200.4 251.49,160.4 253.11,142.9 253.16,138.4" fill="#700000" style="mix-blend-mode:lighten"/><polygon points="240.65,138.4 240.71,142.9 242.3,160.4 242.81,182.9 243.41,200.4 244.38,260.4 245.51,310.4 245.91,340.4 246.75,382.9 246.75,517.8 246.75,517.8 246.75,382.9 247.59,340.4 247.99,310.4 249.12,260.4 250.09,200.4 250.69,182.9 251.2,160.4 252.79,142.9 252.85,138.4" fill="#7a0000" style="mix-blend-mode:lighten"/><polygon points="240.97,138.4 241.03,142.9 242.42,157.9 243,180.4 243.62,197.9 244.69,262.9 245.28,290.4 245.88,310.4 246.74,357.9 246.75,517.8 246.75,517.8 246.76,357.9 247.62,310.4 248.22,290.4 248.81,262.9 249.88,197.9 250.5,180.4 251.08,157.9 252.47,142.9 252.53,138.4" fill="#850000" style="mix-blend-mode:lighten"/><polygon points="241.24,138.4 241.29,142.9 242.63,157.9 243.87,197.9 245.14,272.9 245.71,295.4 246.32,310.4 246.73,332.9 246.75,517.8 246.75,517.8 246.77,332.9 247.18,310.4 247.79,295.4 248.36,272.9 249.63,197.9 250.87,157.9 252.21,142.9 252.26,138.4" fill="#8f0000" style="mix-blend-mode:lighten"/><polygon points="241.49,138.4 241.55,142.9 242.49,152.9 242.84,157.9 244.13,197.9 245.4,272.9 245.78,287.9 246.75,310.4 246.75,517.8 246.75,517.8 246.75,310.4 247.72,287.9 248.1,272.9 249.37,197.9 250.66,157.9 251.01,152.9 251.95,142.9 252.01,138.4" fill="#990000" style="mix-blend-mode:lighten"/><polygon points="241.75,138.4 241.8,142.9 242.53,150.4 243.05,157.9 244.38,197.9 245.53,267.9 245.78,277.9 246.73,297.9 246.75,517.8 246.75,517.8 246.77,297.9 247.72,277.9 247.97,267.9 249.12,197.9 250.45,157.9 250.97,150.4 251.7,142.9 251.75,138.4" fill="#a30000" style="mix-blend-mode:lighten"/><polygon points="242,138.4 242.07,142.9 242.78,150.4 243.26,157.9 243.88,177.9 244.41,190.4 244.67,200.4 245.71,265.4 246.75,287.9 246.75,517.8 246.75,517.8 246.75,287.9 247.79,265.4 248.83,200.4 249.09,190.4 249.62,177.9 250.24,157.9 250.72,150.4 251.43,142.9 251.5,138.4" fill="#ad0000" style="mix-blend-mode:lighten"/><polygon points="242.32,138.4 242.38,142.9 243.35,155.4 244.6,187.9 244.91,200.4 245.77,257.9 246.75,277.9 246.75,517.8 246.75,517.8 246.75,277.9 247.73,257.9 248.59,200.4 248.9,187.9 250.15,155.4 251.12,142.9 251.18,138.4" fill="#b80000" style="mix-blend-mode:lighten"/><polygon points="242.63,138.4 242.69,142.9 243.47,152.9 244.74,182.9 245.06,195.4 246.03,252.9 246.75,265.4 246.75,517.8 246.75,517.8 246.75,265.4 247.47,252.9 248.44,195.4 248.76,182.9 250.03,152.9 250.81,142.9 250.87,138.4" fill="#c20000" style="mix-blend-mode:lighten"/><polygon points="242.95,138.4 243.03,142.9 243.62,150.4 243.89,157.9 244.51,167.9 245.01,180.4 246.75,255.4 246.75,517.8 246.75,517.8 246.75,255.4 248.49,180.4 248.99,167.9 249.61,157.9 249.88,150.4 250.47,142.9 250.55,138.4" fill="#cc0000" style="mix-blend-mode:lighten"/><polygon points="243.43,138.4 243.48,142.9 243.9,150.4 243.9,155.4 244.33,157.9 244.58,160.4 245.68,182.9 246.74,225.4 246.75,517.8 246.75,517.8 246.76,225.4 247.82,182.9 248.92,160.4 249.17,157.9 249.6,155.4 249.6,150.4 250.02,142.9 250.07,138.4" fill="#d60000" style="mix-blend-mode:lighten"/><polygon points="243.9,138.4 243.9,150.4 244.09,152.9 245.18,157.9 245.91,160.4 246.08,162.9 246.48,172.9 246.74,187.9 246.75,517.8 246.75,517.8 246.76,187.9 247.02,172.9 247.42,162.9 247.59,160.4 248.32,157.9 249.41,152.9 249.6,150.4 249.6,138.4" fill="#e00000" style="mix-blend-mode:lighten"/><polygon points="243.9,138.4 243.9,147.9 244.42,150.4 245.34,152.9 246.75,155.4 246.75,517.8 246.75,517.8 246.75,155.4 248.16,152.9 249.08,150.4 249.6,147.9 249.6,138.4" fill="#eb0000" style="mix-blend-mode:lighten"/><polygon points="243.9,138.4 243.9,145.4 245.79,147.9 246.75,150.4 246.75,517.8 246.75,517.8 246.75,150.4 247.71,147.9 249.6,145.4 249.6,138.4" fill="#f50000" style="mix-blend-mode:lighten"/><polygon points="243.9,138.4 243.9,140.4 246.75,142.9 246.75,517.8 246.75,517.8 246.75,142.9 249.6,140.4 249.6,138.4" fill="#ff0000" style="mix-blend-mode:lighten"/></g>
<rect x="255" y="146.9" width="24.4" height="1" fill="#4e1015" opacity="0.8"/>
<rect x="214.1" y="194.3" width="18.4" height="1" fill="#4e1015" opacity="0.8"/>
<rect x="252" y="194.3" width="27.4" height="1" fill="#4e1015" opacity="0.8"/>
<rect x="214.1" y="227" width="8.3" height="1" fill="#4e1015" opacity="0.8"/>
<rect x="214.1" y="311.4" width="14.7" height="1" fill="#4e1015" opacity="0.8"/>
<rect x="274.3" y="311.4" width="5.1" height="1" fill="#4e1015" opacity="0.8"/>
<rect x="214.1" y="320.2" width="22" height="1" fill="#4e1015" opacity="0.8"/>
<rect x="249.5" y="320.2" width="29.9" height="1" fill="#4e1015" opacity="0.8"/>
<rect x="269.8" y="364.7" width="9.6" height="1" fill="#4e1015" opacity="0.8"/>
<rect x="214.1" y="140.4" width="65.3" height="375.4" fill="none" stroke="#4a2420" stroke-width="0.7" opacity="0.8"/>
<rect x="282.3" y="140.4" width="6.7" height="375.4" fill="url(#cbar)" stroke="#555" stroke-width="0.35"/>
<line x1="289" x2="290.8" y1="515.8" y2="515.8" stroke="#333" stroke-width="0.55"/>
<text x="293.1" y="517.7" class="t">0</text>
<line x1="289" x2="290.8" y1="466.66" y2="466.66" stroke="#333" stroke-width="0.55"/>
<text x="293.1" y="468.56" class="t">10</text>
<line x1="289" x2="290.8" y1="417.53" y2="417.53" stroke="#333" stroke-width="0.55"/>
<text x="293.1" y="419.43" class="t">20</text>
<line x1="289" x2="290.8" y1="368.39" y2="368.39" stroke="#333" stroke-width="0.55"/>
<text x="293.1" y="370.29" class="t">30</text>
<line x1="289" x2="290.8" y1="319.26" y2="319.26" stroke="#333" stroke-width="0.55"/>
<text x="293.1" y="321.16" class="t">40</text>
<line x1="289" x2="290.8" y1="270.12" y2="270.12" stroke="#333" stroke-width="0.55"/>
<text x="293.1" y="272.02" class="t">50</text>
<line x1="289" x2="290.8" y1="220.98" y2="220.98" stroke="#333" stroke-width="0.55"/>
<text x="293.1" y="222.88" class="t">60</text>
<line x1="289" x2="290.8" y1="171.85" y2="171.85" stroke="#333" stroke-width="0.55"/>
<text x="293.1" y="173.75" class="t">70</text>
<line x1="214.1" x2="214.1" y1="515.8" y2="517.4" stroke="#333" stroke-width="0.55"/>
<line x1="246.75" x2="246.75" y1="515.8" y2="517.4" stroke="#333" stroke-width="0.55"/>
<line x1="279.4" x2="279.4" y1="515.8" y2="517.4" stroke="#333" stroke-width="0.55"/>
<text x="214.1" y="524.1" class="t">-2.0</text>
<text x="246.75" y="524.1" class="t" text-anchor="middle">TSS</text>
<text x="279.4" y="524.1" class="t" text-anchor="end">2.0Kb</text>
<text x="246.75" y="531" class="t" text-anchor="middle">gene distance (bp)</text>
<text transform="translate(210.7,328.1) rotate(-90)" class="t" text-anchor="middle">genes</text>
<polyline points="214.2,123.35 214.74,123.34 215.28,123.33 215.82,123.32 216.37,123.3 216.91,123.29 217.45,123.28 217.99,123.26 218.53,123.24 219.07,123.23 219.62,123.21 220.16,123.19 220.7,123.17 221.24,123.14 221.78,123.12 222.32,123.09 222.87,123.06 223.41,123.03 223.95,122.99 224.49,122.95 225.03,122.91 225.57,122.86 226.12,122.81 226.66,122.75 227.2,122.69 227.74,122.61 228.28,122.53 228.82,122.44 229.37,122.34 229.91,122.23 230.45,122.1 230.99,121.96 231.53,121.8 232.07,121.61 232.62,121.4 233.16,121.17 233.7,120.9 234.24,120.59 234.78,120.24 235.32,119.84 235.87,119.38 236.41,118.86 236.95,118.26 237.49,117.57 238.03,116.78 238.57,115.88 239.12,114.84 239.66,113.65 240.2,112.28 240.74,110.7 241.28,108.89 241.82,106.81 242.37,104.42 242.91,101.67 243.45,98.52 243.99,94.93 244.53,90.86 245.07,86.3 245.62,81.38 246.16,76.69 246.7,74.3 247.24,76.69 247.78,81.38 248.32,86.3 248.87,90.86 249.41,94.93 249.95,98.52 250.49,101.67 251.03,104.42 251.57,106.81 252.12,108.89 252.66,110.7 253.2,112.28 253.74,113.65 254.28,114.84 254.82,115.88 255.37,116.78 255.91,117.57 256.45,118.26 256.99,118.86 257.53,119.38 258.07,119.84 258.62,120.24 259.16,120.59 259.7,120.9 260.24,121.17 260.78,121.4 261.32,121.61 261.87,121.8 262.41,121.96 262.95,122.1 263.49,122.23 264.03,122.34 264.57,122.44 265.12,122.53 265.66,122.61 266.2,122.69 266.74,122.75 267.28,122.81 267.82,122.86 268.37,122.91 268.91,122.95 269.45,122.99 269.99,123.03 270.53,123.06 271.07,123.09 271.62,123.12 272.16,123.14 272.7,123.17 273.24,123.19 273.78,123.21 274.32,123.23 274.87,123.24 275.41,123.26 275.95,123.28 276.49,123.29 277.03,123.3 277.57,123.32 278.12,123.33 278.66,123.34 279.2,123.35" fill="none" stroke="#1c1c68" stroke-width="0.95" stroke-linejoin="round"/>
<rect x="214.2" y="72.2" width="65" height="54" fill="none" stroke="#3c3838" stroke-width="0.75"/>
<text x="246.7" y="69.2" class="t2" text-anchor="middle" style="font-size:5.5px">500_cells.filtered</text>
<g>
<line x1="212.4" x2="214.2" y1="126" y2="126" stroke="#333" stroke-width="0.55"/>
<text x="210.1" y="127.8" class="t" text-anchor="end">0</text>
<line x1="212.4" x2="214.2" y1="109.13" y2="109.13" stroke="#333" stroke-width="0.55"/>
<text x="210.1" y="110.93" class="t" text-anchor="end">20</text>
<line x1="212.4" x2="214.2" y1="92.27" y2="92.27" stroke="#333" stroke-width="0.55"/>
<text x="210.1" y="94.07" class="t" text-anchor="end">40</text>
<line x1="212.4" x2="214.2" y1="75.4" y2="75.4" stroke="#333" stroke-width="0.55"/>
<text x="210.1" y="77.2" class="t" text-anchor="end">60</text>
</g>
<line x1="214.2" x2="214.2" y1="126.2" y2="127.8" stroke="#333" stroke-width="0.55"/>
<line x1="246.7" x2="246.7" y1="126.2" y2="127.8" stroke="#333" stroke-width="0.55"/>
<line x1="279.2" x2="279.2" y1="126.2" y2="127.8" stroke="#333" stroke-width="0.55"/>
<text x="214.2" y="133.9" class="t">-2.0</text>
<text x="246.7" y="133.9" class="t" text-anchor="middle">TSS</text>
<text x="279.2" y="133.9" class="t" text-anchor="end">2.0Kb</text>
<line x1="217.7" x2="228" y1="99.2" y2="99.2" stroke="#1c1c68" stroke-width="0.95"/>
<text x="230.9" y="101.2" class="t">genes</text>
</g>
<g style="font-size:4.45px">
<g filter="url(#hm3)"><rect x="312.4" y="138.4" width="69.2" height="379.6" fill="url(#vb3)"/><polygon points="315,138.4 315.08,160.4 316.48,180.4 317.93,197.9 318.02,200.4 318.71,240.4 319,252.9 319.18,255.4 320.08,265.4 320.92,272.9 321.96,280.4 323.27,287.9 324.36,292.9 325.69,297.9 327.34,302.9 329.44,307.9 330.23,310.4 330.82,325.4 331.65,340.4 332.4,350.4 333.59,362.9 335.81,395.4 338.13,495.4 338.17,518 355.83,518 355.87,495.4 358.19,395.4 360.41,362.9 361.6,350.4 362.35,340.4 363.18,325.4 363.77,310.4 364.56,307.9 366.66,302.9 368.31,297.9 369.64,292.9 370.73,287.9 372.04,280.4 373.08,272.9 373.92,265.4 374.82,255.4 375,252.9 375.29,240.4 375.98,200.4 376.07,197.9 377.52,180.4 378.92,160.4 379,138.4" fill="#030000" style="mix-blend-mode:lighten"/><polygon points="319,138.4 319.15,145.4 320.1,160.4 321.97,180.4 323.91,197.9 325.54,230.4 326.99,252.9 328.3,260.4 330.36,270.4 330.97,275.4 333.41,310.4 336.52,357.9 337.72,395.4 338.75,447.9 339.93,497.9 339.93,518 354.07,518 354.07,497.9 355.25,447.9 356.28,395.4 357.48,357.9 360.59,310.4 363.03,275.4 363.64,270.4 365.7,260.4 367.01,252.9 368.46,230.4 370.09,197.9 372.03,180.4 373.9,160.4 374.85,145.4 375,138.4" fill="#050000" style="mix-blend-mode:lighten"/><polygon points="323,138.4 323.04,142.9 323.39,147.9 323.9,152.9 325.06,160.4 325.88,172.9 327.13,185.4 328.14,197.9 328.72,210.4 329.33,220.4 329.96,227.9 331.09,237.9 332.24,252.9 334.25,282.9 336.52,310.4 337.71,355.4 339.21,397.9 339.68,420.4 340.12,455.4 340.99,495.4 341.02,518 352.98,518 353.01,495.4 353.88,455.4 354.32,420.4 354.79,397.9 356.29,355.4 357.48,310.4 359.75,282.9 361.76,252.9 362.91,237.9 364.04,227.9 364.67,220.4 365.28,210.4 365.86,197.9 366.87,185.4 368.12,172.9 368.94,160.4 370.1,152.9 370.61,147.9 370.96,142.9 371,138.4" fill="#080000" style="mix-blend-mode:lighten"/><polygon points="325.4,138.4 325.47,142.9 327.5,160.4 330.54,197.9 332.98,230.4 333.78,242.9 334.73,252.9 336.01,270.4 337.58,310.4 338.52,342.9 339.68,375.4 340.42,430.4 341.66,497.9 341.66,518 352.34,518 352.34,497.9 353.58,430.4 354.32,375.4 355.48,342.9 356.42,310.4 357.99,270.4 359.27,252.9 360.22,242.9 361.02,230.4 363.46,197.9 366.5,160.4 368.53,142.9 368.6,138.4" fill="#0a0000" style="mix-blend-mode:lighten"/><polygon points="327.8,138.4 327.87,142.9 329.9,160.4 330.91,172.9 331.93,187.9 332.91,197.9 334.3,225.4 335.07,235.4 336.05,245.4 337.37,282.9 338.63,310.4 339.67,342.9 341.11,437.9 342.3,497.9 342.3,518 351.7,518 351.7,497.9 352.89,437.9 354.33,342.9 355.37,310.4 356.63,282.9 357.95,245.4 358.93,235.4 359.7,225.4 361.09,197.9 362.07,187.9 363.09,172.9 364.1,160.4 366.13,142.9 366.2,138.4" fill="#0d0000" style="mix-blend-mode:lighten"/><polygon points="329.57,138.4 329.62,142.9 329.83,145.4 330.38,150.4 331.48,157.9 331.73,160.4 333.25,182.9 334.93,212.9 336.05,227.9 336.83,245.4 338.25,282.9 339.67,310.4 341.47,427.9 342.38,477.9 342.94,497.9 342.94,518 351.06,518 351.06,497.9 351.62,477.9 352.53,427.9 354.33,310.4 355.75,282.9 357.17,245.4 357.95,227.9 359.07,212.9 360.75,182.9 362.27,160.4 362.52,157.9 363.62,150.4 364.17,145.4 364.38,142.9 364.43,138.4" fill="#0f0000" style="mix-blend-mode:lighten"/><polygon points="330.71,138.4 330.78,142.9 333.08,160.4 336.2,212.9 336.94,227.9 338.25,262.9 340.11,307.9 342.46,460.4 343.29,495.4 343.32,518 350.68,518 350.71,495.4 351.54,460.4 353.89,307.9 355.75,262.9 357.06,227.9 357.8,212.9 360.92,160.4 363.22,142.9 363.29,138.4" fill="#120000" style="mix-blend-mode:lighten"/><polygon points="331.86,138.4 331.94,142.9 333.58,155.4 334.41,160.4 335,170.4 335.74,187.9 336.95,207.9 337.75,232.9 338.93,260.4 339.46,277.9 340.72,310.4 342.13,407.9 342.54,445.4 343.5,495.4 343.53,518 350.47,518 350.5,495.4 351.46,445.4 351.87,407.9 353.28,310.4 354.54,277.9 355.07,260.4 356.25,232.9 357.05,207.9 358.26,187.9 359,170.4 359.59,160.4 360.42,155.4 362.06,142.9 362.14,138.4" fill="#140000" style="mix-blend-mode:lighten"/><polygon points="333,138.4 333.05,142.9 333.49,147.9 334.15,152.9 335.14,157.9 335.37,160.4 336.11,177.9 337.03,192.9 338.08,225.4 339.04,247.9 340.1,282.9 340.73,300.4 341.24,310.4 341.74,345.4 342.57,427.9 343.74,497.9 343.74,518 350.26,518 350.26,497.9 351.43,427.9 352.26,345.4 352.76,310.4 353.27,300.4 353.9,282.9 354.96,247.9 355.92,225.4 356.97,192.9 357.89,177.9 358.63,160.4 358.86,157.9 359.85,152.9 360.51,147.9 360.95,142.9 361,138.4" fill="#170000" style="mix-blend-mode:lighten"/><polygon points="333.6,138.4 333.66,142.9 333.91,145.4 335.8,157.9 336.05,160.4 336.94,177.9 339.01,232.9 340.81,292.9 341.12,300.4 341.75,310.4 342.53,405.4 343.95,497.9 343.95,518 350.05,518 350.05,497.9 351.47,405.4 352.25,310.4 352.88,300.4 353.19,292.9 354.99,232.9 357.06,177.9 357.95,160.4 358.2,157.9 360.09,145.4 360.34,142.9 360.4,138.4" fill="#1a0000" style="mix-blend-mode:lighten"/><polygon points="334.2,138.4 334.27,142.9 336.72,160.4 336.98,165.4 337.54,182.9 338.95,217.9 339.42,237.9 340.5,270.4 340.94,287.9 341.88,307.9 342.71,402.9 344.16,497.9 344.16,518 349.84,518 349.84,497.9 351.29,402.9 352.12,307.9 353.06,287.9 353.5,270.4 354.58,237.9 355.05,217.9 356.46,182.9 357.02,165.4 357.28,160.4 359.73,142.9 359.8,138.4" fill="#1c0000" style="mix-blend-mode:lighten"/><polygon points="334.8,138.4 334.88,142.9 335.95,150.4 336.5,155.4 336.98,157.9 337.2,160.4 337.86,180.4 339,205.4 339.5,230.4 340.47,257.9 340.97,280.4 342.05,307.9 342.86,397.9 343.78,465.4 344.37,497.9 344.37,518 349.63,518 349.63,497.9 350.22,465.4 351.14,397.9 351.95,307.9 353.03,280.4 353.53,257.9 354.5,230.4 355,205.4 356.14,180.4 356.8,160.4 357.02,157.9 357.5,155.4 358.05,150.4 359.12,142.9 359.2,138.4" fill="#1f0000" style="mix-blend-mode:lighten"/><polygon points="335.4,138.4 335.49,142.9 335.84,145.4 336.57,152.9 337.31,157.9 337.54,160.4 338.16,177.9 339.02,195.4 339.58,222.9 340.52,250.4 341.06,275.4 342.22,307.9 343.03,395.4 343.83,457.9 344.56,497.9 344.56,518 349.44,518 349.44,497.9 350.17,457.9 350.97,395.4 351.78,307.9 352.94,275.4 353.48,250.4 354.42,222.9 354.98,195.4 355.84,177.9 356.46,160.4 356.69,157.9 357.43,152.9 358.16,145.4 358.51,142.9 358.6,138.4" fill="#210000" style="mix-blend-mode:lighten"/><polygon points="336,138.4 336.03,142.9 336.37,147.9 337.87,160.4 339.03,187.9 339.76,220.4 340.52,242.9 341.13,270.4 342.46,310.4 342.99,375.4 343.65,432.9 344.74,497.9 344.74,518 349.26,518 349.26,497.9 350.35,432.9 351.01,375.4 351.54,310.4 352.87,270.4 353.48,242.9 354.24,220.4 354.97,187.9 356.13,160.4 357.63,147.9 357.97,142.9 358,138.4" fill="#240000" style="mix-blend-mode:lighten"/><polygon points="336.21,138.4 336.25,142.9 336.64,147.9 338.21,160.4 338.95,177.9 339.94,217.9 340.51,235.4 341.2,265.4 342.63,310.4 343.06,365.4 343.73,427.9 344.92,497.9 344.92,518 349.08,518 349.08,497.9 350.27,427.9 350.94,365.4 351.37,310.4 352.8,265.4 353.49,235.4 354.06,217.9 355.05,177.9 355.79,160.4 357.36,147.9 357.75,142.9 357.79,138.4" fill="#260000" style="mix-blend-mode:lighten"/><polygon points="336.43,138.4 336.47,142.9 336.67,145.4 337.82,155.4 338.55,160.4 338.97,170.4 341.32,262.9 342.8,310.4 343.09,352.9 343.66,410.4 344.2,450.4 345.09,497.9 345.09,518 348.91,518 348.91,497.9 349.8,450.4 350.34,410.4 350.91,352.9 351.2,310.4 352.68,262.9 355.03,170.4 355.45,160.4 356.18,155.4 357.33,145.4 357.53,142.9 357.57,138.4" fill="#290000" style="mix-blend-mode:lighten"/><polygon points="336.64,138.4 336.69,142.9 336.92,145.4 337.74,152.9 338.88,160.4 338.99,162.9 341.37,257.9 342.87,307.9 343.79,410.4 344.31,447.9 345.27,497.9 345.27,518 348.73,518 348.73,497.9 349.69,447.9 350.21,410.4 351.13,307.9 352.63,257.9 355.01,162.9 355.12,160.4 356.26,152.9 357.08,145.4 357.31,142.9 357.36,138.4" fill="#2b0000" style="mix-blend-mode:lighten"/><polygon points="336.86,138.4 336.91,142.9 337.15,145.4 337.96,152.9 338.84,157.9 339.11,160.4 340.69,220.4 341.41,252.9 342.97,307.9 343.89,407.9 344.74,465.4 345.44,497.9 345.44,518 348.56,518 348.56,497.9 349.26,465.4 350.11,407.9 351.03,307.9 352.59,252.9 353.31,220.4 354.89,160.4 355.16,157.9 356.04,152.9 356.85,145.4 357.09,142.9 357.14,138.4" fill="#2e0000" style="mix-blend-mode:lighten"/><polygon points="337.07,138.4 337.13,142.9 337.62,147.9 338.19,152.9 339.08,157.9 339.28,160.4 340.81,217.9 341.44,247.9 343.08,307.9 343.99,405.4 344.88,465.4 345.62,497.9 345.62,518 348.38,518 348.38,497.9 349.12,465.4 350.01,405.4 350.92,307.9 352.56,247.9 353.19,217.9 354.72,160.4 354.92,157.9 355.81,152.9 356.38,147.9 356.87,142.9 356.93,138.4" fill="#300000" style="mix-blend-mode:lighten"/><polygon points="337.29,138.4 337.35,142.9 337.8,147.9 338.42,152.9 339.23,157.9 339.44,160.4 340.81,210.4 341.47,242.9 343.18,307.9 344.12,405.4 345.02,465.4 345.86,497.9 345.86,518 348.14,518 348.14,497.9 348.98,465.4 349.88,405.4 350.82,307.9 352.53,242.9 353.19,210.4 354.56,160.4 354.77,157.9 355.58,152.9 356.2,147.9 356.65,142.9 356.71,138.4" fill="#330000" style="mix-blend-mode:lighten"/><polygon points="337.95,138.4 338,142.9 338.25,145.4 340.11,160.4 341.13,197.9 341.67,227.9 343.65,310.4 344.26,377.9 345.25,450.4 345.75,472.9 347,495.4 347,518 347,518 347,495.4 348.25,472.9 348.75,450.4 349.74,377.9 350.35,310.4 352.33,227.9 352.87,197.9 353.89,160.4 355.75,145.4 356,142.9 356.05,138.4" fill="#3d0000" style="mix-blend-mode:lighten"/><polygon points="338.55,138.4 338.62,142.9 339.73,152.9 340.49,157.9 340.66,160.4 342.65,252.9 343.87,302.9 344.89,397.9 345.45,435.4 345.83,452.9 346.97,475.4 347,518 347,518 347.03,475.4 348.17,452.9 348.55,435.4 349.11,397.9 350.13,302.9 351.35,252.9 353.34,160.4 353.51,157.9 354.27,152.9 355.38,142.9 355.45,138.4" fill="#470000" style="mix-blend-mode:lighten"/><polygon points="339.1,138.4 339.15,142.9 339.63,147.9 340.86,157.9 341.03,160.4 344.3,307.9 345.22,395.4 345.65,422.9 346.09,437.9 346.99,457.9 347,518 347,518 347.01,457.9 347.91,437.9 348.35,422.9 348.78,395.4 349.7,307.9 352.97,160.4 353.14,157.9 354.37,147.9 354.85,142.9 354.9,138.4" fill="#520000" style="mix-blend-mode:lighten"/><polygon points="339.5,138.4 339.56,142.9 341.21,157.9 341.39,160.4 342.39,200.4 344.62,307.9 345.75,405.4 347,440.4 347,518 347,518 347,440.4 348.25,405.4 349.38,307.9 351.61,200.4 352.61,160.4 352.79,157.9 354.44,142.9 354.5,138.4" fill="#5c0000" style="mix-blend-mode:lighten"/><polygon points="339.9,138.4 339.96,142.9 341.56,157.9 341.71,160.4 342.76,200.4 345,310.4 345.82,382.9 346.14,397.9 347,422.9 347,518 347,518 347,422.9 347.86,397.9 348.18,382.9 349,310.4 351.24,200.4 352.29,160.4 352.44,157.9 354.04,142.9 354.1,138.4" fill="#660000" style="mix-blend-mode:lighten"/><polygon points="340.25,138.4 340.31,142.9 341.85,157.9 342.01,160.4 343.13,200.4 344.52,275.4 345.35,310.4 345.95,360.4 347,405.4 347,518 347,518 347,405.4 348.05,360.4 348.65,310.4 349.48,275.4 350.87,200.4 351.99,160.4 352.15,157.9 353.69,142.9 353.75,138.4" fill="#700000" style="mix-blend-mode:lighten"/><polygon points="340.58,138.4 340.65,142.9 342.32,160.4 342.85,182.9 343.49,200.4 344.5,260.4 345.7,310.4 346.06,337.9 347,382.9 347,518 347,518 347,382.9 347.94,337.9 348.3,310.4 349.5,260.4 350.51,200.4 351.15,182.9 351.68,160.4 353.35,142.9 353.42,138.4" fill="#7a0000" style="mix-blend-mode:lighten"/><polygon points="340.92,138.4 340.98,142.9 342.44,157.9 343.05,180.4 343.71,197.9 344.83,262.9 345.45,290.4 346.08,310.4 346.99,357.9 347,518 347,518 347.01,357.9 347.92,310.4 348.55,290.4 349.17,262.9 350.29,197.9 350.95,180.4 351.56,157.9 353.02,142.9 353.08,138.4" fill="#850000" style="mix-blend-mode:lighten"/><polygon points="341.2,138.4 341.25,142.9 342.66,157.9 343.97,197.9 345.31,272.9 345.9,295.4 346.55,310.4 346.98,332.9 347,518 347,518 347.02,332.9 347.45,310.4 348.1,295.4 348.69,272.9 350.03,197.9 351.34,157.9 352.75,142.9 352.8,138.4" fill="#8f0000" style="mix-blend-mode:lighten"/><polygon points="341.47,138.4 341.52,142.9 342.51,152.9 342.88,157.9 344.24,197.9 345.57,272.9 345.98,287.9 347,310.4 347,518 347,518 347,310.4 348.02,287.9 348.43,272.9 349.76,197.9 351.12,157.9 351.49,152.9 352.48,142.9 352.53,138.4" fill="#990000" style="mix-blend-mode:lighten"/><polygon points="341.73,138.4 341.79,142.9 342.56,150.4 343.1,157.9 344.51,197.9 345.71,267.9 345.97,277.9 346.98,297.9 347,518 347,518 347.02,297.9 348.03,277.9 348.29,267.9 349.49,197.9 350.9,157.9 351.44,150.4 352.21,142.9 352.27,138.4" fill="#a30000" style="mix-blend-mode:lighten"/><polygon points="342,138.4 342.07,142.9 342.82,150.4 343.32,157.9 343.98,177.9 344.53,190.4 344.81,200.4 345.91,265.4 347,287.9 347,518 347,518 347,287.9 348.09,265.4 349.19,200.4 349.47,190.4 350.02,177.9 350.68,157.9 351.18,150.4 351.93,142.9 352,138.4" fill="#ad0000" style="mix-blend-mode:lighten"/><polygon points="342.33,138.4 342.4,142.9 343.42,155.4 344.74,187.9 345.06,200.4 345.97,257.9 347,277.9 347,518 347,518 347,277.9 348.03,257.9 348.94,200.4 349.26,187.9 350.58,155.4 351.6,142.9 351.67,138.4" fill="#b80000" style="mix-blend-mode:lighten"/><polygon points="342.67,138.4 342.73,142.9 343.55,152.9 344.88,182.9 345.22,195.4 346.25,252.9 347,265.4 347,518 347,518 347,265.4 347.75,252.9 348.78,195.4 349.12,182.9 350.45,152.9 351.27,142.9 351.33,138.4" fill="#c20000" style="mix-blend-mode:lighten"/><polygon points="343,138.4 343.08,142.9 343.7,150.4 343.99,157.9 344.65,167.9 345.17,180.4 347,255.4 347,518 347,518 347,255.4 348.83,180.4 349.35,167.9 350.01,157.9 350.3,150.4 350.92,142.9 351,138.4" fill="#cc0000" style="mix-blend-mode:lighten"/><polygon points="343.5,138.4 343.56,142.9 344,150.4 344,155.4 344.46,157.9 344.72,160.4 345.31,170.4 345.87,182.9 346.99,225.4 347,518 347,518 347.01,225.4 348.13,182.9 348.69,170.4 349.28,160.4 349.54,157.9 350,155.4 350,150.4 350.44,142.9 350.5,138.4" fill="#d60000" style="mix-blend-mode:lighten"/><polygon points="344,138.4 344,150.4 344.2,152.9 345.34,157.9 346.11,160.4 346.3,162.9 346.72,172.9 346.99,187.9 347,518 347,518 347.01,187.9 347.28,172.9 347.7,162.9 347.89,160.4 348.66,157.9 349.8,152.9 350,150.4 350,138.4" fill="#e00000" style="mix-blend-mode:lighten"/><polygon points="344,138.4 344,147.9 344.55,150.4 345.51,152.9 347,155.4 347,518 347,518 347,155.4 348.49,152.9 349.45,150.4 350,147.9 350,138.4" fill="#eb0000" style="mix-blend-mode:lighten"/><polygon points="344,138.4 344,145.4 345.98,147.9 347,150.4 347,518 347,518 347,150.4 348.02,147.9 350,145.4 350,138.4" fill="#f50000" style="mix-blend-mode:lighten"/><polygon points="344,138.4 344,140.4 347,142.9 347,518 347,518 347,142.9 350,140.4 350,138.4" fill="#ff0000" style="mix-blend-mode:lighten"/></g>
<rect x="314.4" y="145.5" width="16.4" height="1" fill="#4e1015" opacity="0.8"/>
<rect x="351.8" y="145.5" width="27.8" height="1" fill="#4e1015" opacity="0.8"/>
<rect x="353.5" y="161.9" width="26.1" height="1" fill="#4e1015" opacity="0.8"/>
<rect x="314.4" y="173.2" width="19.8" height="1" fill="#4e1015" opacity="0.8"/>
<rect x="353.1" y="173.2" width="26.5" height="1" fill="#4e1015" opacity="0.8"/>
<rect x="314.4" y="222.7" width="8.1" height="1" fill="#4e1015" opacity="0.8"/>
<rect x="355.3" y="321.1" width="24.3" height="1" fill="#4e1015" opacity="0.8"/>
<rect x="314.4" y="328" width="9.8" height="1" fill="#4e1015" opacity="0.8"/>
<rect x="352.3" y="328" width="27.3" height="1" fill="#4e1015" opacity="0.8"/>
<rect x="314.4" y="368.7" width="15.1" height="1" fill="#4e1015" opacity="0.8"/>
<rect x="373.8" y="368.7" width="5.8" height="1" fill="#4e1015" opacity="0.8"/>
<rect x="314.4" y="428.4" width="20.4" height="1" fill="#4e1015" opacity="0.8"/>
<rect x="314.4" y="140.4" width="65.2" height="375.6" fill="none" stroke="#4a2420" stroke-width="0.7" opacity="0.8"/>
<rect x="382.3" y="140.4" width="6.7" height="375.6" fill="url(#cbar)" stroke="#555" stroke-width="0.35"/>
<line x1="389" x2="390.8" y1="516" y2="516" stroke="#333" stroke-width="0.55"/>
<text x="393.1" y="517.9" class="t">0</text>
<line x1="389" x2="390.8" y1="464.62" y2="464.62" stroke="#333" stroke-width="0.55"/>
<text x="393.1" y="466.52" class="t">10</text>
<line x1="389" x2="390.8" y1="413.24" y2="413.24" stroke="#333" stroke-width="0.55"/>
<text x="393.1" y="415.14" class="t">20</text>
<line x1="389" x2="390.8" y1="361.85" y2="361.85" stroke="#333" stroke-width="0.55"/>
<text x="393.1" y="363.75" class="t">30</text>
<line x1="389" x2="390.8" y1="310.47" y2="310.47" stroke="#333" stroke-width="0.55"/>
<text x="393.1" y="312.37" class="t">40</text>
<line x1="389" x2="390.8" y1="259.09" y2="259.09" stroke="#333" stroke-width="0.55"/>
<text x="393.1" y="260.99" class="t">50</text>
<line x1="389" x2="390.8" y1="207.71" y2="207.71" stroke="#333" stroke-width="0.55"/>
<text x="393.1" y="209.61" class="t">60</text>
<line x1="389" x2="390.8" y1="156.33" y2="156.33" stroke="#333" stroke-width="0.55"/>
<text x="393.1" y="158.23" class="t">70</text>
<line x1="314.4" x2="314.4" y1="516" y2="517.6" stroke="#333" stroke-width="0.55"/>
<line x1="347" x2="347" y1="516" y2="517.6" stroke="#333" stroke-width="0.55"/>
<line x1="379.6" x2="379.6" y1="516" y2="517.6" stroke="#333" stroke-width="0.55"/>
<text x="314.4" y="524.1" class="t">-2.0</text>
<text x="347" y="524.1" class="t" text-anchor="middle">TSS</text>
<text x="379.6" y="524.1" class="t" text-anchor="end">2.0Kb</text>
<text x="347" y="531" class="t" text-anchor="middle">gene distance (bp)</text>
<text transform="translate(311,328.2) rotate(-90)" class="t" text-anchor="middle">genes</text>
<polyline points="314.3,123.48 314.84,123.47 315.38,123.45 315.93,123.44 316.47,123.43 317.01,123.42 317.56,123.4 318.1,123.39 318.64,123.37 319.18,123.35 319.73,123.33 320.27,123.31 320.81,123.29 321.35,123.27 321.89,123.24 322.44,123.22 322.98,123.19 323.52,123.15 324.06,123.12 324.61,123.08 325.15,123.03 325.69,122.99 326.24,122.93 326.78,122.87 327.32,122.81 327.86,122.74 328.41,122.66 328.95,122.57 329.49,122.46 330.03,122.35 330.57,122.22 331.12,122.08 331.66,121.91 332.2,121.73 332.75,121.52 333.29,121.28 333.83,121.01 334.37,120.7 334.92,120.34 335.46,119.94 336,119.48 336.54,118.95 337.08,118.35 337.63,117.66 338.17,116.86 338.71,115.95 339.25,114.9 339.8,113.7 340.34,112.31 340.88,110.72 341.43,108.89 341.97,106.79 342.51,104.37 343.05,101.59 343.59,98.41 344.14,94.78 344.68,90.66 345.22,86.05 345.76,81.07 346.31,76.32 346.85,73.9 347.39,76.32 347.94,81.07 348.48,86.05 349.02,90.66 349.56,94.78 350.11,98.41 350.65,101.59 351.19,104.37 351.73,106.79 352.27,108.89 352.82,110.72 353.36,112.31 353.9,113.7 354.44,114.9 354.99,115.95 355.53,116.86 356.07,117.66 356.62,118.35 357.16,118.95 357.7,119.48 358.24,119.94 358.78,120.34 359.33,120.7 359.87,121.01 360.41,121.28 360.95,121.52 361.5,121.73 362.04,121.91 362.58,122.08 363.12,122.22 363.67,122.35 364.21,122.46 364.75,122.57 365.29,122.66 365.84,122.74 366.38,122.81 366.92,122.87 367.46,122.93 368.01,122.99 368.55,123.03 369.09,123.08 369.63,123.12 370.18,123.15 370.72,123.19 371.26,123.22 371.8,123.24 372.35,123.27 372.89,123.29 373.43,123.31 373.97,123.33 374.52,123.35 375.06,123.37 375.6,123.39 376.14,123.4 376.69,123.42 377.23,123.43 377.77,123.44 378.31,123.45 378.86,123.47 379.4,123.48" fill="none" stroke="#1c1c68" stroke-width="0.95" stroke-linejoin="round"/>
<rect x="314.3" y="72.2" width="65.1" height="54" fill="none" stroke="#3c3838" stroke-width="0.75"/>
<text x="346.85" y="69.2" class="t2" text-anchor="middle" style="font-size:5.5px">1000_cells.filtered</text>
<g>
<line x1="312.5" x2="314.3" y1="125.8" y2="125.8" stroke="#333" stroke-width="0.55"/>
<text x="310.2" y="127.6" class="t" text-anchor="end">0</text>
<line x1="312.5" x2="314.3" y1="108.87" y2="108.87" stroke="#333" stroke-width="0.55"/>
<text x="310.2" y="110.67" class="t" text-anchor="end">20</text>
<line x1="312.5" x2="314.3" y1="91.93" y2="91.93" stroke="#333" stroke-width="0.55"/>
<text x="310.2" y="93.73" class="t" text-anchor="end">40</text>
<line x1="312.5" x2="314.3" y1="75" y2="75" stroke="#333" stroke-width="0.55"/>
<text x="310.2" y="76.8" class="t" text-anchor="end">60</text>
</g>
<line x1="314.3" x2="314.3" y1="126.2" y2="127.8" stroke="#333" stroke-width="0.55"/>
<line x1="346.85" x2="346.85" y1="126.2" y2="127.8" stroke="#333" stroke-width="0.55"/>
<line x1="379.4" x2="379.4" y1="126.2" y2="127.8" stroke="#333" stroke-width="0.55"/>
<text x="314.3" y="133.9" class="t">-2.0</text>
<text x="346.85" y="133.9" class="t" text-anchor="middle">TSS</text>
<text x="379.4" y="133.9" class="t" text-anchor="end">2.0Kb</text>
<line x1="318.4" x2="328.4" y1="78.4" y2="78.4" stroke="#1c1c68" stroke-width="0.95"/>
<text x="331.3" y="80.4" class="t">genes</text>
</g>
<g style="font-size:4.45px">
<g filter="url(#hm4)"><rect x="412.7" y="138.4" width="68.9" height="379.6" fill="url(#vb4)"/><polygon points="415.63,138.4 415.74,142.9 416.89,147.9 419.08,155.4 419.69,157.9 420.04,160.4 420.95,170.4 423.87,197.9 423.92,200.4 423.44,222.9 422.52,252.9 423.03,262.9 424.15,277.9 424.95,285.4 425.62,290.4 426.45,295.4 427.51,300.4 428.89,305.4 429.75,307.9 430.38,310.4 430.96,325.4 431.61,337.9 432.47,350.4 433.35,360.4 435.6,395.4 438.08,495.4 438.13,518 456.17,518 456.22,495.4 458.7,395.4 460.95,360.4 461.83,350.4 462.69,337.9 463.34,325.4 463.92,310.4 464.55,307.9 465.41,305.4 466.79,300.4 467.85,295.4 468.68,290.4 469.35,285.4 470.15,277.9 471.27,262.9 471.78,252.9 470.86,222.9 470.38,200.4 470.43,197.9 473.35,170.4 474.26,160.4 474.61,157.9 475.22,155.4 477.41,147.9 478.56,142.9 478.67,138.4" fill="#030000" style="mix-blend-mode:lighten"/><polygon points="419.57,138.4 419.73,142.9 423.81,157.9 424.33,160.4 426.51,180.4 428.65,197.9 429.55,252.9 431.07,265.4 432.07,277.9 432.88,292.9 433.56,310.4 436.6,360.4 437.56,395.4 438.64,447.9 439.87,497.9 439.87,518 454.43,518 454.43,497.9 455.66,447.9 456.74,395.4 457.7,360.4 460.74,310.4 461.42,292.9 462.23,277.9 463.23,265.4 464.75,252.9 465.65,197.9 467.79,180.4 469.97,160.4 470.49,157.9 474.57,142.9 474.73,138.4" fill="#050000" style="mix-blend-mode:lighten"/><polygon points="423.51,138.4 423.61,142.9 424.58,147.9 425.9,152.9 426.76,155.4 427.82,157.9 428.52,160.4 429.62,175.4 430.44,182.9 431.16,187.9 432.05,197.9 432.6,215.4 434.16,252.9 435.05,277.9 436.67,310.4 437.59,350.4 438.99,395.4 439.61,422.9 440.1,457.9 441.03,497.9 441.03,518 453.27,518 453.27,497.9 454.2,457.9 454.69,422.9 455.31,395.4 456.71,350.4 457.63,310.4 459.25,277.9 460.14,252.9 461.7,215.4 462.25,197.9 463.14,187.9 463.86,182.9 464.68,175.4 465.78,160.4 466.48,157.9 467.54,155.4 468.4,152.9 469.72,147.9 470.69,142.9 470.79,138.4" fill="#080000" style="mix-blend-mode:lighten"/><polygon points="425.87,138.4 426.02,142.9 427.36,147.9 428.93,152.9 430.13,157.9 430.6,160.4 432.67,182.9 434.1,200.4 436.69,260.4 437.25,280.4 438.03,322.9 439.68,377.9 440.35,430.4 441.66,497.9 441.66,518 452.64,518 452.64,497.9 453.95,430.4 454.62,377.9 456.27,322.9 457.05,280.4 457.61,260.4 460.2,200.4 461.63,182.9 463.7,160.4 464.17,157.9 465.37,152.9 466.94,147.9 468.28,142.9 468.43,138.4" fill="#0a0000" style="mix-blend-mode:lighten"/><polygon points="428.24,138.4 428.24,140.4 428.42,142.9 429.13,145.4 430.63,152.9 432.06,157.9 432.64,160.4 433.55,170.4 434.58,185.4 435.86,197.9 435.99,200.4 436.61,222.9 437.46,240.4 437.67,247.9 438.47,297.9 439.7,342.9 440.89,427.9 442.3,497.9 442.3,518 452,518 452,497.9 453.41,427.9 454.6,342.9 455.83,297.9 456.63,247.9 456.84,240.4 457.69,222.9 458.31,200.4 458.44,197.9 459.72,185.4 460.75,170.4 461.66,160.4 462.24,157.9 463.67,152.9 465.17,145.4 465.88,142.9 466.06,140.4 466.06,138.4" fill="#0d0000" style="mix-blend-mode:lighten"/><polygon points="429.98,138.4 430.08,142.9 430.49,145.4 431.53,150.4 432.2,152.9 433.77,157.9 434.19,160.4 436.53,192.9 436.82,197.9 437.47,215.4 438.29,245.4 439.07,285.4 439.81,310.4 441.16,412.9 442.37,477.9 442.93,497.9 442.93,518 451.37,518 451.37,497.9 451.93,477.9 453.14,412.9 454.49,310.4 455.23,285.4 456.01,245.4 456.83,215.4 457.48,197.9 457.77,192.9 460.11,160.4 460.53,157.9 462.1,152.9 462.77,150.4 463.81,145.4 464.22,142.9 464.32,138.4" fill="#0f0000" style="mix-blend-mode:lighten"/><polygon points="431.11,138.4 431.22,142.9 432.3,147.9 433.62,152.9 435.33,160.4 436.9,182.9 437.92,202.9 438.66,230.4 440.3,307.9 441.4,397.9 442.58,467.9 443.34,495.4 443.37,518 450.93,518 450.96,495.4 451.72,467.9 452.9,397.9 454,307.9 455.64,230.4 456.38,202.9 457.4,182.9 458.97,160.4 460.68,152.9 462,147.9 463.08,142.9 463.19,138.4" fill="#120000" style="mix-blend-mode:lighten"/><polygon points="432.23,138.4 432.37,142.9 433.51,147.9 434.46,152.9 435.1,155.4 435.89,157.9 436.47,160.4 436.97,167.9 437.78,185.4 438.74,200.4 440.86,310.4 442.49,442.9 443.55,495.4 443.58,518 450.72,518 450.75,495.4 451.81,442.9 453.44,310.4 455.56,200.4 456.52,185.4 457.33,167.9 457.83,160.4 458.41,157.9 459.2,155.4 459.84,152.9 460.79,147.9 461.93,142.9 462.07,138.4" fill="#140000" style="mix-blend-mode:lighten"/><polygon points="433.36,138.4 433.44,142.9 434.22,147.9 435.31,152.9 436.83,157.9 437.28,160.4 438.09,177.9 439.31,197.9 440.68,280.4 441.39,310.4 442.52,425.4 443.79,497.9 443.79,518 450.51,518 450.51,497.9 451.78,425.4 452.91,310.4 453.62,280.4 454.99,197.9 456.21,177.9 457.02,160.4 457.47,157.9 458.99,152.9 460.08,147.9 460.86,142.9 460.94,138.4" fill="#170000" style="mix-blend-mode:lighten"/><polygon points="433.95,138.4 434.04,142.9 434.45,145.4 435.48,150.4 437.38,157.9 437.85,160.4 439.71,197.9 440.98,275.4 441.56,300.4 441.9,310.4 442.47,400.4 442.84,430.4 444,497.9 444,518 450.3,518 450.3,497.9 451.46,430.4 451.83,400.4 452.4,310.4 452.74,300.4 453.32,275.4 454.59,197.9 456.45,160.4 456.92,157.9 458.82,150.4 459.85,145.4 460.26,142.9 460.35,138.4" fill="#1a0000" style="mix-blend-mode:lighten"/><polygon points="434.54,138.4 434.64,142.9 437.2,155.4 438.43,160.4 440.18,200.4 440.97,255.4 442.08,310.4 442.64,397.9 444.21,497.9 444.21,518 450.09,518 450.09,497.9 451.66,397.9 452.22,310.4 453.33,255.4 454.12,200.4 455.87,160.4 457.1,155.4 459.66,142.9 459.76,138.4" fill="#1c0000" style="mix-blend-mode:lighten"/><polygon points="435.13,138.4 435.25,142.9 436.32,147.9 437.07,152.9 437.61,155.4 438.34,157.9 438.83,160.4 439.59,180.4 440.58,200.4 441.07,242.9 442.26,310.4 442.81,395.4 443.81,465.4 444.42,497.9 444.42,518 449.88,518 449.88,497.9 450.49,465.4 451.49,395.4 452.04,310.4 453.23,242.9 453.72,200.4 454.71,180.4 455.47,160.4 455.96,157.9 456.69,155.4 457.23,152.9 457.98,147.9 459.05,142.9 459.17,138.4" fill="#1f0000" style="mix-blend-mode:lighten"/><polygon points="435.72,138.4 435.85,142.9 436.34,145.4 436.97,150.4 437.98,155.4 438.74,157.9 439.12,160.4 439.81,177.9 440.81,197.9 441.18,232.9 442.43,310.4 443.01,395.4 443.9,460.4 444.62,497.9 444.62,518 449.68,518 449.68,497.9 450.4,460.4 451.29,395.4 451.87,310.4 453.12,232.9 453.49,197.9 454.49,177.9 455.18,160.4 455.56,157.9 456.32,155.4 457.33,150.4 457.96,145.4 458.45,142.9 458.58,138.4" fill="#210000" style="mix-blend-mode:lighten"/><polygon points="436.32,138.4 436.36,142.9 436.9,147.9 437.77,152.9 439.01,157.9 439.4,160.4 440.97,197.9 441.74,260.4 442.61,310.4 443.21,395.4 443.98,455.4 444.79,497.9 444.79,518 449.51,518 449.51,497.9 450.32,455.4 451.09,395.4 451.69,310.4 452.56,260.4 453.33,197.9 454.9,160.4 455.29,157.9 456.53,152.9 457.4,147.9 457.94,142.9 457.98,138.4" fill="#240000" style="mix-blend-mode:lighten"/><polygon points="436.53,138.4 436.58,142.9 437.17,147.9 438.05,152.9 439.27,157.9 439.69,160.4 441.13,197.9 441.83,255.4 442.78,310.4 443.16,370.4 443.55,410.4 444.1,452.9 444.96,497.9 444.96,518 449.34,518 449.34,497.9 450.2,452.9 450.75,410.4 451.14,370.4 451.52,310.4 452.47,255.4 453.17,197.9 454.61,160.4 455.03,157.9 456.25,152.9 457.13,147.9 457.72,142.9 457.77,138.4" fill="#260000" style="mix-blend-mode:lighten"/><polygon points="436.74,138.4 436.8,142.9 437.44,147.9 438.32,152.9 439.52,157.9 439.97,160.4 441.29,197.9 441.98,255.4 442.95,310.4 443.6,402.9 444.18,447.9 445.14,497.9 445.14,518 449.16,518 449.16,497.9 450.12,447.9 450.7,402.9 451.35,310.4 452.32,255.4 453.01,197.9 454.33,160.4 454.78,157.9 455.98,152.9 456.86,147.9 457.5,142.9 457.56,138.4" fill="#290000" style="mix-blend-mode:lighten"/><polygon points="436.95,138.4 437.02,142.9 437.32,145.4 438.09,150.4 440.26,160.4 441.45,197.9 442.09,252.9 443.03,307.9 443.72,402.9 444.33,447.9 445.31,497.9 445.31,518 448.99,518 448.99,497.9 449.97,447.9 450.58,402.9 451.27,307.9 452.21,252.9 452.85,197.9 454.04,160.4 456.21,150.4 456.98,145.4 457.28,142.9 457.35,138.4" fill="#2b0000" style="mix-blend-mode:lighten"/><polygon points="437.16,138.4 437.23,142.9 437.92,147.9 438.82,152.9 440.01,157.9 440.45,160.4 441.61,197.9 442.23,252.9 443.17,310.4 443.91,407.9 444.83,467.9 445.49,497.9 445.49,518 448.81,518 448.81,497.9 449.47,467.9 450.39,407.9 451.13,310.4 452.07,252.9 452.69,197.9 453.85,160.4 454.29,157.9 455.48,152.9 456.38,147.9 457.07,142.9 457.14,138.4" fill="#2e0000" style="mix-blend-mode:lighten"/><polygon points="437.37,138.4 437.45,142.9 438.12,147.9 439.56,155.4 440.26,157.9 440.59,160.4 441.76,197.9 442.38,252.9 443.27,310.4 444,405.4 444.92,465.4 445.66,497.9 445.66,518 448.64,518 448.64,497.9 449.38,465.4 450.3,405.4 451.03,310.4 451.92,252.9 452.54,197.9 453.71,160.4 454.04,157.9 454.74,155.4 456.18,147.9 456.85,142.9 456.93,138.4" fill="#300000" style="mix-blend-mode:lighten"/><polygon points="437.58,138.4 437.66,142.9 438.31,147.9 439.76,155.4 440.43,157.9 440.74,160.4 441.92,197.9 442.53,252.9 443.38,310.4 444.07,400.4 445.01,462.9 445.84,497.9 445.84,518 448.46,518 448.46,497.9 449.29,462.9 450.23,400.4 450.92,310.4 451.77,252.9 452.38,197.9 453.56,160.4 453.87,157.9 454.54,155.4 455.99,147.9 456.64,142.9 456.72,138.4" fill="#330000" style="mix-blend-mode:lighten"/><polygon points="438.24,138.4 438.31,142.9 438.65,145.4 439.92,152.9 440.97,157.9 441.31,160.4 442.45,197.9 442.97,252.9 443.8,310.4 444.33,380.4 444.96,430.4 445.84,475.4 447.15,497.9 447.15,518 447.15,518 447.15,497.9 448.46,475.4 449.34,430.4 449.97,380.4 450.5,310.4 451.33,252.9 451.85,197.9 452.99,160.4 453.33,157.9 454.38,152.9 455.65,145.4 455.99,142.9 456.06,138.4" fill="#3d0000" style="mix-blend-mode:lighten"/><polygon points="438.83,138.4 438.91,142.9 440.03,150.4 441.5,157.9 441.76,160.4 442.77,197.9 443.32,252.9 444.17,310.4 445.08,410.4 445.9,455.4 447.15,480.4 447.15,518 447.15,518 447.15,480.4 448.4,455.4 449.22,410.4 450.13,310.4 450.98,252.9 451.53,197.9 452.54,160.4 452.8,157.9 454.27,150.4 455.39,142.9 455.47,138.4" fill="#470000" style="mix-blend-mode:lighten"/><polygon points="439.37,138.4 439.44,142.9 439.74,145.4 441.86,157.9 442.08,160.4 443.09,197.9 443.67,252.9 444.49,310.4 445.43,407.9 445.95,435.4 447.15,462.9 447.15,518 447.15,518 447.15,462.9 448.35,435.4 448.87,407.9 449.81,310.4 450.63,252.9 451.21,197.9 452.22,160.4 452.44,157.9 454.56,145.4 454.86,142.9 454.93,138.4" fill="#520000" style="mix-blend-mode:lighten"/><polygon points="439.76,138.4 439.84,142.9 442.16,157.9 442.39,160.4 443.4,197.9 443.99,252.9 444.82,310.4 445.65,397.9 445.91,412.9 447.15,445.4 447.15,518 447.15,518 447.15,445.4 448.39,412.9 448.65,397.9 449.48,310.4 450.31,252.9 450.9,197.9 451.91,160.4 452.14,157.9 454.46,142.9 454.54,138.4" fill="#5c0000" style="mix-blend-mode:lighten"/><polygon points="440.16,138.4 440.24,142.9 442.47,157.9 442.66,160.4 443.71,197.9 444.31,252.9 445.15,310.4 445.9,387.9 446.18,400.4 447.15,427.9 447.15,518 447.15,518 447.15,427.9 448.12,400.4 448.4,387.9 449.15,310.4 449.99,252.9 450.59,197.9 451.64,160.4 451.83,157.9 454.06,142.9 454.14,138.4" fill="#660000" style="mix-blend-mode:lighten"/><polygon points="440.5,138.4 440.58,142.9 442.73,157.9 442.92,160.4 444.04,200.4 444.74,265.4 445.5,310.4 446.08,365.4 446.65,395.4 447.15,410.4 447.15,518 447.15,518 447.15,410.4 447.65,395.4 448.22,365.4 448.8,310.4 449.56,265.4 450.26,200.4 451.38,160.4 451.57,157.9 453.72,142.9 453.8,138.4" fill="#700000" style="mix-blend-mode:lighten"/><polygon points="440.83,138.4 440.91,142.9 442.68,155.4 443.18,160.4 443.65,180.4 444.33,200.4 445.06,270.4 445.85,310.4 446.24,342.9 447.15,390.4 447.15,518 447.15,518 447.15,390.4 448.06,342.9 448.45,310.4 449.24,270.4 449.97,200.4 450.65,180.4 451.12,160.4 451.62,155.4 453.39,142.9 453.47,138.4" fill="#7a0000" style="mix-blend-mode:lighten"/><polygon points="441.16,138.4 441.25,142.9 443.25,157.9 444.51,197.9 445.28,267.9 445.74,292.9 446.23,310.4 447.14,362.9 447.15,518 447.15,518 447.16,362.9 448.07,310.4 448.56,292.9 449.02,267.9 449.79,197.9 451.05,157.9 453.05,142.9 453.14,138.4" fill="#850000" style="mix-blend-mode:lighten"/><polygon points="441.44,138.4 441.51,142.9 442.89,152.9 443.44,157.9 444.73,197.9 445.61,272.9 446.1,295.4 446.7,310.4 447.13,335.4 447.15,518 447.15,518 447.17,335.4 447.6,310.4 448.2,295.4 448.69,272.9 449.57,197.9 450.86,157.9 451.41,152.9 452.79,142.9 452.86,138.4" fill="#8f0000" style="mix-blend-mode:lighten"/><polygon points="441.7,138.4 441.78,142.9 443.17,152.9 443.63,157.9 444.94,197.9 445.52,252.9 445.85,272.9 446.28,290.4 447.15,310.4 447.15,518 447.15,518 447.15,310.4 448.02,290.4 448.45,272.9 448.78,252.9 449.36,197.9 450.67,157.9 451.13,152.9 452.52,142.9 452.6,138.4" fill="#990000" style="mix-blend-mode:lighten"/><polygon points="441.96,138.4 442.04,142.9 443.44,152.9 443.83,157.9 445.01,192.9 445.19,200.4 445.72,252.9 445.99,267.9 446.29,280.4 447.13,297.9 447.15,518 447.15,518 447.17,297.9 448.01,280.4 448.31,267.9 448.58,252.9 449.11,200.4 449.29,192.9 450.47,157.9 450.86,152.9 452.26,142.9 452.34,138.4" fill="#a30000" style="mix-blend-mode:lighten"/><polygon points="442.23,138.4 442.33,142.9 443.43,150.4 443.88,155.4 445.08,187.9 445.36,197.9 446.12,262.9 446.31,270.4 447.15,287.9 447.15,518 447.15,518 447.15,287.9 447.99,270.4 448.18,262.9 448.94,197.9 449.22,187.9 450.42,155.4 450.87,150.4 451.97,142.9 452.07,138.4" fill="#ad0000" style="mix-blend-mode:lighten"/><polygon points="442.55,138.4 442.65,142.9 443.74,150.4 444.1,155.4 444.6,170.4 445.17,182.9 445.56,197.9 446.24,257.9 447.15,277.9 447.15,518 447.15,518 447.15,277.9 448.06,257.9 448.74,197.9 449.13,182.9 449.7,170.4 450.2,155.4 450.56,150.4 451.65,142.9 451.75,138.4" fill="#b80000" style="mix-blend-mode:lighten"/><polygon points="442.88,138.4 442.98,142.9 443.8,147.9 444.2,152.9 444.2,155.4 445.27,177.9 445.73,195.4 446.49,252.9 447.15,265.4 447.15,518 447.15,518 447.15,265.4 447.81,252.9 448.57,195.4 449.03,177.9 450.1,155.4 450.1,152.9 450.5,147.9 451.32,142.9 451.42,138.4" fill="#c20000" style="mix-blend-mode:lighten"/><polygon points="443.21,138.4 443.21,140.4 443.41,142.9 443.91,145.4 444.17,147.9 444.2,152.9 445.07,165.4 445.61,177.9 447.15,255.4 447.15,518 447.15,518 447.15,255.4 448.69,177.9 449.23,165.4 450.1,152.9 450.13,147.9 450.39,145.4 450.89,142.9 451.09,140.4 451.09,138.4" fill="#cc0000" style="mix-blend-mode:lighten"/><polygon points="443.99,138.4 444.2,145.4 444.2,150.4 444.6,155.4 445.22,160.4 445.73,167.9 446.28,180.4 447.14,225.4 447.15,518 447.15,518 447.16,225.4 448.02,180.4 448.57,167.9 449.08,160.4 449.7,155.4 450.1,150.4 450.1,145.4 450.31,138.4" fill="#d60000" style="mix-blend-mode:lighten"/><polygon points="444.2,138.4 444.2,147.9 444.4,150.4 444.77,152.9 445.21,155.4 447.15,157.9 447.15,518 447.15,518 447.15,157.9 449.09,155.4 449.53,152.9 449.9,150.4 450.1,147.9 450.1,138.4" fill="#e00000" style="mix-blend-mode:lighten"/><polygon points="444.2,138.4 444.2,145.4 444.44,147.9 445.07,150.4 447.15,152.9 447.15,518 447.15,518 447.15,152.9 449.23,150.4 449.86,147.9 450.1,145.4 450.1,138.4" fill="#eb0000" style="mix-blend-mode:lighten"/><polygon points="444.2,138.4 444.2,142.9 444.55,145.4 447.15,147.9 447.15,518 447.15,518 447.15,147.9 449.75,145.4 450.1,142.9 450.1,138.4" fill="#f50000" style="mix-blend-mode:lighten"/><polygon points="444.2,138.4 444.2,140.4 447.15,142.9 447.15,518 447.15,518 447.15,142.9 450.1,140.4 450.1,138.4" fill="#ff0000" style="mix-blend-mode:lighten"/></g>
<rect x="453.1" y="173.5" width="26.5" height="1" fill="#4e1015" opacity="0.8"/>
<rect x="414.7" y="212.8" width="8.5" height="1" fill="#4e1015" opacity="0.8"/>
<rect x="455.5" y="218.6" width="24.1" height="1" fill="#4e1015" opacity="0.4"/>
<rect x="414.7" y="232" width="9.3" height="1" fill="#4e1015" opacity="0.8"/>
<rect x="450.3" y="232" width="29.3" height="1" fill="#4e1015" opacity="0.8"/>
<rect x="461.7" y="236.1" width="17.9" height="1" fill="#4e1015" opacity="0.8"/>
<rect x="467.7" y="248" width="11.9" height="1" fill="#4e1015" opacity="0.8"/>
<rect x="455.5" y="258.8" width="24.1" height="1" fill="#4e1015" opacity="0.8"/>
<rect x="414.7" y="280.9" width="26.8" height="1" fill="#4e1015" opacity="0.8"/>
<rect x="473" y="385.8" width="6.6" height="1" fill="#4e1015" opacity="0.8"/>
<rect x="414.7" y="140.4" width="64.9" height="375.6" fill="none" stroke="#4a2420" stroke-width="0.7" opacity="0.8"/>
<rect x="483.3" y="140.4" width="6.7" height="375.6" fill="url(#cbar)" stroke="#555" stroke-width="0.35"/>
<line x1="490" x2="491.8" y1="516" y2="516" stroke="#333" stroke-width="0.55"/>
<text x="494.1" y="517.9" class="t">0</text>
<line x1="490" x2="491.8" y1="464.69" y2="464.69" stroke="#333" stroke-width="0.55"/>
<text x="494.1" y="466.59" class="t">5</text>
<line x1="490" x2="491.8" y1="413.38" y2="413.38" stroke="#333" stroke-width="0.55"/>
<text x="494.1" y="415.28" class="t">10</text>
<line x1="490" x2="491.8" y1="362.07" y2="362.07" stroke="#333" stroke-width="0.55"/>
<text x="494.1" y="363.97" class="t">15</text>
<line x1="490" x2="491.8" y1="310.75" y2="310.75" stroke="#333" stroke-width="0.55"/>
<text x="494.1" y="312.65" class="t">20</text>
<line x1="490" x2="491.8" y1="259.44" y2="259.44" stroke="#333" stroke-width="0.55"/>
<text x="494.1" y="261.34" class="t">25</text>
<line x1="490" x2="491.8" y1="208.13" y2="208.13" stroke="#333" stroke-width="0.55"/>
<text x="494.1" y="210.03" class="t">30</text>
<line x1="490" x2="491.8" y1="156.82" y2="156.82" stroke="#333" stroke-width="0.55"/>
<text x="494.1" y="158.72" class="t">35</text>
<line x1="414.7" x2="414.7" y1="516" y2="517.6" stroke="#333" stroke-width="0.55"/>
<line x1="447.15" x2="447.15" y1="516" y2="517.6" stroke="#333" stroke-width="0.55"/>
<line x1="479.6" x2="479.6" y1="516" y2="517.6" stroke="#333" stroke-width="0.55"/>
<text x="414.7" y="524.1" class="t">-2.0</text>
<text x="447.15" y="524.1" class="t" text-anchor="middle">TSS</text>
<text x="479.6" y="524.1" class="t" text-anchor="end">2.0Kb</text>
<text x="447.15" y="531" class="t" text-anchor="middle">gene distance (bp)</text>
<text transform="translate(411.3,328.2) rotate(-90)" class="t" text-anchor="middle">genes</text>
<polyline points="414.7,123.19 415.24,123.18 415.78,123.17 416.32,123.16 416.86,123.14 417.4,123.13 417.94,123.12 418.48,123.1 419.02,123.08 419.56,123.07 420.1,123.05 420.64,123.03 421.18,123.01 421.72,122.98 422.26,122.96 422.8,122.93 423.34,122.9 423.88,122.87 424.42,122.83 424.96,122.79 425.5,122.75 426.04,122.7 426.58,122.65 427.12,122.59 427.66,122.52 428.2,122.45 428.74,122.37 429.28,122.28 429.82,122.18 430.36,122.06 430.9,121.94 431.44,121.79 431.98,121.63 432.52,121.44 433.06,121.23 433.6,120.99 434.14,120.72 434.68,120.42 435.22,120.06 435.76,119.66 436.3,119.2 436.84,118.68 437.38,118.08 437.92,117.39 438.46,116.6 439,115.7 439.54,114.66 440.08,113.46 440.62,112.09 441.16,110.52 441.7,108.71 442.24,106.63 442.78,104.24 443.32,101.5 443.86,98.37 444.4,94.79 444.94,90.73 445.48,86.19 446.02,81.3 446.56,76.64 447.1,74.27 447.64,76.64 448.18,81.3 448.72,86.19 449.26,90.73 449.8,94.79 450.34,98.37 450.88,101.5 451.42,104.24 451.96,106.63 452.5,108.71 453.04,110.52 453.58,112.09 454.12,113.46 454.66,114.66 455.2,115.7 455.74,116.6 456.28,117.39 456.82,118.08 457.36,118.68 457.9,119.2 458.44,119.66 458.98,120.06 459.52,120.42 460.06,120.72 460.6,120.99 461.14,121.23 461.68,121.44 462.22,121.63 462.76,121.79 463.3,121.94 463.84,122.06 464.38,122.18 464.92,122.28 465.46,122.37 466,122.45 466.54,122.52 467.08,122.59 467.62,122.65 468.16,122.7 468.7,122.75 469.24,122.79 469.78,122.83 470.32,122.87 470.86,122.9 471.4,122.93 471.94,122.96 472.48,122.98 473.02,123.01 473.56,123.03 474.1,123.05 474.64,123.07 475.18,123.08 475.72,123.1 476.26,123.12 476.8,123.13 477.34,123.14 477.88,123.16 478.42,123.17 478.96,123.18 479.5,123.19" fill="none" stroke="#1c1c68" stroke-width="0.95" stroke-linejoin="round"/>
<rect x="414.7" y="72.3" width="64.8" height="53.9" fill="none" stroke="#3c3838" stroke-width="0.75"/>
<text x="447.1" y="69.2" class="t2" text-anchor="middle" style="font-size:5.5px">5000_cells.filtered</text>
<g>
<line x1="412.9" x2="414.7" y1="110.2" y2="110.2" stroke="#333" stroke-width="0.55"/>
<text x="410.6" y="112" class="t" text-anchor="end">10</text>
<line x1="412.9" x2="414.7" y1="94.3" y2="94.3" stroke="#333" stroke-width="0.55"/>
<text x="410.6" y="96.1" class="t" text-anchor="end">20</text>
<line x1="412.9" x2="414.7" y1="78.4" y2="78.4" stroke="#333" stroke-width="0.55"/>
<text x="410.6" y="80.2" class="t" text-anchor="end">30</text>
</g>
<line x1="414.7" x2="414.7" y1="126.2" y2="127.8" stroke="#333" stroke-width="0.55"/>
<line x1="447.1" x2="447.1" y1="126.2" y2="127.8" stroke="#333" stroke-width="0.55"/>
<line x1="479.5" x2="479.5" y1="126.2" y2="127.8" stroke="#333" stroke-width="0.55"/>
<text x="414.7" y="133.9" class="t">-2.0</text>
<text x="447.1" y="133.9" class="t" text-anchor="middle">TSS</text>
<text x="479.5" y="133.9" class="t" text-anchor="end">2.0Kb</text>
<line x1="448.8" x2="458.7" y1="99.2" y2="99.2" stroke="#1c1c68" stroke-width="0.95"/>
<text x="461.6" y="101.2" class="t">genes</text>
</g>
<g style="font-size:4.45px">
<g filter="url(#hm5)"><rect x="518.3" y="139.9" width="68.9" height="379.6" fill="url(#vb5)"/><polygon points="512.75,139.9 512.75,141.9 512.93,144.4 513.82,146.9 515.03,149.4 516.68,151.9 518.7,154.4 520.56,156.9 521.86,159.4 522.38,161.9 523.72,199.4 524.75,254.4 525.35,261.9 526.37,271.9 527.33,279.4 528.55,286.9 529.54,291.9 530.74,296.9 532.21,301.9 534.07,306.9 535.19,309.4 535.98,311.9 536.56,326.9 537.21,339.4 538.07,351.9 538.95,361.9 541.2,396.9 543.68,496.9 543.73,519.5 561.77,519.5 561.82,496.9 564.3,396.9 566.55,361.9 567.43,351.9 568.29,339.4 568.94,326.9 569.52,311.9 570.31,309.4 571.43,306.9 573.29,301.9 574.76,296.9 575.96,291.9 576.95,286.9 578.17,279.4 579.13,271.9 580.15,261.9 580.75,254.4 581.78,199.4 583.12,161.9 583.64,159.4 584.94,156.9 586.8,154.4 588.82,151.9 590.47,149.4 591.68,146.9 592.57,144.4 592.75,141.9 592.75,139.9" fill="#030000" style="mix-blend-mode:lighten"/><polygon points="517.75,139.9 517.75,141.9 518.09,144.4 521.09,149.4 524.8,156.9 526.26,159.4 527.17,161.9 528.37,181.9 529.69,199.4 531.15,229.4 532.74,254.4 534.05,261.9 536.11,271.9 536.72,276.9 539.16,311.9 542.2,361.9 543.16,396.9 544.24,449.4 545.47,499.4 545.47,519.5 560.03,519.5 560.03,499.4 561.26,449.4 562.34,396.9 563.3,361.9 566.34,311.9 568.78,276.9 569.39,271.9 571.45,261.9 572.76,254.4 574.35,229.4 575.81,199.4 577.13,181.9 578.33,161.9 579.24,159.4 580.7,156.9 584.41,149.4 587.41,144.4 587.75,141.9 587.75,139.9" fill="#050000" style="mix-blend-mode:lighten"/><polygon points="522.75,139.9 522.75,141.9 522.96,144.4 523.89,146.9 526.11,151.9 527.45,154.4 529,156.9 530.74,159.4 531.9,161.9 534.91,219.4 535.71,229.4 536.84,239.4 537.99,254.4 540,284.4 542.27,311.9 543.19,351.9 544.59,396.9 545.21,424.4 545.7,459.4 546.63,499.4 546.63,519.5 558.87,519.5 558.87,499.4 559.8,459.4 560.29,424.4 560.91,396.9 562.31,351.9 563.23,311.9 565.5,284.4 567.51,254.4 568.66,239.4 569.79,229.4 570.59,219.4 573.6,161.9 574.76,159.4 576.5,156.9 578.05,154.4 579.39,151.9 581.61,146.9 582.54,144.4 582.75,141.9 582.75,139.9" fill="#080000" style="mix-blend-mode:lighten"/><polygon points="525.75,139.9 525.75,141.9 526.01,144.4 527.11,146.9 528.35,149.4 529.75,151.9 533.43,159.4 534.2,161.9 536.47,201.9 538.73,231.9 539.53,244.4 540.48,254.4 541.76,271.9 543.32,311.9 544.24,346.9 545.23,376.9 545.95,431.9 547.26,499.4 547.26,519.5 558.24,519.5 558.24,499.4 559.55,431.9 560.27,376.9 561.26,346.9 562.18,311.9 563.74,271.9 565.02,254.4 565.97,244.4 566.77,231.9 569.03,201.9 571.3,161.9 572.07,159.4 575.75,151.9 577.15,149.4 578.39,146.9 579.49,144.4 579.75,141.9 579.75,139.9" fill="#0a0000" style="mix-blend-mode:lighten"/><polygon points="528.75,139.9 528.75,141.9 529.05,144.4 530.29,146.9 531.08,149.4 533.07,154.4 534.24,156.9 535.58,159.4 536.48,161.9 537.99,189.4 538.69,199.4 539.89,224.4 540.61,234.4 541.8,246.9 543.12,284.4 544.38,311.9 545.25,341.9 546.53,431.9 547.9,499.4 547.9,519.5 557.6,519.5 557.6,499.4 558.97,431.9 560.25,341.9 561.12,311.9 562.38,284.4 563.7,246.9 564.89,234.4 565.61,224.4 566.81,199.4 567.51,189.4 569.02,161.9 569.92,159.4 571.26,156.9 572.43,154.4 574.42,149.4 575.21,146.9 576.45,144.4 576.75,141.9 576.75,139.9" fill="#0d0000" style="mix-blend-mode:lighten"/><polygon points="530.96,139.9 531.14,144.4 531.92,146.9 533.8,151.9 536.03,156.9 537.55,159.4 538.23,161.9 540.1,204.4 540.84,216.9 541.8,229.4 542.16,236.9 543.89,281.9 545.41,311.9 546.76,414.4 547.97,479.4 548.53,499.4 548.53,519.5 556.97,519.5 556.97,499.4 557.53,479.4 558.74,414.4 560.09,311.9 561.61,281.9 563.34,236.9 563.7,229.4 564.66,216.9 565.4,204.4 567.27,161.9 567.95,159.4 569.47,156.9 571.7,151.9 573.58,146.9 574.36,144.4 574.54,139.9" fill="#0f0000" style="mix-blend-mode:lighten"/><polygon points="532.39,139.9 532.39,141.9 532.59,144.4 536.33,154.4 538.76,159.4 539.5,161.9 541.01,199.4 541.95,214.4 542.69,229.4 545.94,311.9 547,399.4 548.18,469.4 548.94,496.9 548.97,519.5 556.53,519.5 556.56,496.9 557.32,469.4 558.5,399.4 559.56,311.9 562.81,229.4 563.55,214.4 564.49,199.4 566,161.9 566.74,159.4 569.17,154.4 572.91,144.4 573.11,141.9 573.11,139.9" fill="#120000" style="mix-blend-mode:lighten"/><polygon points="533.82,139.9 533.82,141.9 534.04,144.4 534.99,146.9 536.54,151.9 540.77,161.9 541.91,194.4 542.7,209.4 543.5,234.4 544.68,261.9 545.21,279.4 546.46,311.9 548.09,444.4 549.15,496.9 549.18,519.5 556.32,519.5 556.35,496.9 557.41,444.4 559.04,311.9 560.29,279.4 560.82,261.9 562,234.4 562.8,209.4 563.59,194.4 564.73,161.9 568.96,151.9 570.51,146.9 571.46,144.4 571.68,141.9 571.68,139.9" fill="#140000" style="mix-blend-mode:lighten"/><polygon points="535.25,139.9 535.38,144.4 535.96,146.9 536.7,149.4 539.49,156.9 540.78,159.4 541.7,161.9 542.13,176.9 542.77,191.9 543.74,224.4 544.79,249.4 545.76,281.9 546.48,301.9 546.99,311.9 548.12,426.9 549.39,499.4 549.39,519.5 556.11,519.5 556.11,499.4 557.38,426.9 558.51,311.9 559.02,301.9 559.74,281.9 560.71,249.4 561.76,224.4 562.73,191.9 563.37,176.9 563.8,161.9 564.72,159.4 566.01,156.9 568.8,149.4 569.54,146.9 570.12,144.4 570.25,139.9" fill="#170000" style="mix-blend-mode:lighten"/><polygon points="536,139.9 536.15,144.4 536.82,146.9 540.18,156.9 541.54,159.4 542.34,161.9 543.87,211.9 544.76,234.4 546.56,294.4 546.87,301.9 547.5,311.9 548.07,401.9 548.44,431.9 549.6,499.4 549.6,519.5 555.9,519.5 555.9,499.4 557.06,431.9 557.43,401.9 558,311.9 558.63,301.9 558.94,294.4 560.74,234.4 561.63,211.9 563.16,161.9 563.96,159.4 565.32,156.9 568.68,146.9 569.35,144.4 569.5,139.9" fill="#1a0000" style="mix-blend-mode:lighten"/><polygon points="536.75,139.9 536.92,144.4 538.52,149.4 539.86,154.4 540.87,156.9 542.08,159.4 542.97,161.9 543.73,191.9 544.7,219.4 545.17,239.4 546.25,271.9 546.61,286.9 546.99,296.9 547.55,306.9 547.68,311.9 548.24,399.4 549.81,499.4 549.81,519.5 555.69,519.5 555.69,499.4 557.26,399.4 557.82,311.9 557.95,306.9 558.51,296.9 558.89,286.9 559.25,271.9 560.33,239.4 560.8,219.4 561.77,191.9 562.53,161.9 563.42,159.4 564.63,156.9 565.64,154.4 566.98,149.4 568.58,144.4 568.75,139.9" fill="#1c0000" style="mix-blend-mode:lighten"/><polygon points="537.5,139.9 537.5,141.9 537.68,144.4 539.16,149.4 539.66,151.9 540.39,154.4 541.41,156.9 542.62,159.4 543.43,161.9 543.94,184.4 544.75,206.9 545.32,234.4 546.22,259.4 546.72,281.9 547.48,299.4 547.86,311.9 548.41,396.9 549.41,466.9 550.02,499.4 550.02,519.5 555.48,519.5 555.48,499.4 556.09,466.9 557.09,396.9 557.64,311.9 558.02,299.4 558.78,281.9 559.28,259.4 560.18,234.4 560.75,206.9 561.56,184.4 562.07,161.9 562.88,159.4 564.09,156.9 565.11,154.4 565.84,151.9 566.34,149.4 567.82,144.4 568,141.9 568,139.9" fill="#1f0000" style="mix-blend-mode:lighten"/><polygon points="538.25,139.9 538.25,141.9 538.44,144.4 539.11,146.9 540.09,151.9 541.82,156.9 543.11,159.4 543.75,161.9 544.19,179.4 544.73,194.4 545.46,229.4 546.27,251.9 546.81,276.9 547.51,294.4 548.03,311.9 548.61,396.9 549.5,461.9 550.22,499.4 550.22,519.5 555.28,519.5 555.28,499.4 556,461.9 556.89,396.9 557.47,311.9 557.99,294.4 558.69,276.9 559.23,251.9 560.04,229.4 560.77,194.4 561.31,179.4 561.75,161.9 562.39,159.4 563.68,156.9 565.41,151.9 566.39,146.9 567.06,144.4 567.25,141.9 567.25,139.9" fill="#210000" style="mix-blend-mode:lighten"/><polygon points="539,139.9 539.07,144.4 539.89,149.4 541.32,154.4 542.23,156.9 543.45,159.4 544.07,161.9 544.75,184.4 545.58,224.4 546.27,244.4 546.96,274.4 548.21,311.9 548.81,396.9 549.58,456.9 550.39,499.4 550.39,519.5 555.11,519.5 555.11,499.4 555.92,456.9 556.69,396.9 557.29,311.9 558.54,274.4 559.23,244.4 559.92,224.4 560.75,184.4 561.43,161.9 562.05,159.4 563.27,156.9 564.18,154.4 565.61,149.4 566.43,144.4 566.5,139.9" fill="#240000" style="mix-blend-mode:lighten"/><polygon points="539.27,139.9 539.35,144.4 540.25,149.4 541.66,154.4 543.74,159.4 544.39,161.9 544.77,174.4 545.62,216.9 546.26,236.9 547.02,269.4 548.38,311.9 548.76,371.9 549.15,411.9 549.7,454.4 550.56,499.4 550.56,519.5 554.94,519.5 554.94,499.4 555.8,454.4 556.35,411.9 556.74,371.9 557.12,311.9 558.48,269.4 559.24,236.9 559.88,216.9 560.73,174.4 561.11,161.9 561.76,159.4 563.84,154.4 565.25,149.4 566.15,144.4 566.23,139.9" fill="#260000" style="mix-blend-mode:lighten"/><polygon points="539.54,139.9 539.63,144.4 540.61,149.4 541.99,154.4 544.02,159.4 544.71,161.9 545.72,211.9 546.26,229.4 547.07,264.4 548.55,311.9 549.2,404.4 549.78,449.4 550.74,499.4 550.74,519.5 554.76,519.5 554.76,499.4 555.72,449.4 556.3,404.4 556.95,311.9 558.43,264.4 559.24,229.4 559.78,211.9 560.79,161.9 561.48,159.4 563.51,154.4 564.89,149.4 565.87,144.4 565.96,139.9" fill="#290000" style="mix-blend-mode:lighten"/><polygon points="539.8,139.9 539.9,144.4 540.95,149.4 541.55,151.9 542.33,154.4 544.3,159.4 545.02,161.9 545.75,204.4 547.12,259.4 548.66,311.9 549.32,404.4 549.93,449.4 550.91,499.4 550.91,519.5 554.59,519.5 554.59,499.4 555.57,449.4 556.18,404.4 556.84,311.9 558.38,259.4 559.75,204.4 560.48,161.9 561.2,159.4 563.17,154.4 563.95,151.9 564.55,149.4 565.6,144.4 565.7,139.9" fill="#2b0000" style="mix-blend-mode:lighten"/><polygon points="540.07,139.9 540.18,144.4 541.21,149.4 541.83,151.9 543.54,156.9 544.57,159.4 545.24,161.9 545.89,201.9 547.16,254.4 548.77,311.9 549.42,401.9 550.39,466.9 551.09,499.4 551.09,519.5 554.41,519.5 554.41,499.4 555.11,466.9 556.08,401.9 556.73,311.9 558.34,254.4 559.61,201.9 560.26,161.9 560.93,159.4 561.96,156.9 563.67,151.9 564.29,149.4 565.32,144.4 565.43,139.9" fill="#2e0000" style="mix-blend-mode:lighten"/><polygon points="540.34,139.9 540.45,144.4 541.46,149.4 542.11,151.9 543.78,156.9 544.84,159.4 545.4,161.9 545.98,196.9 547.07,244.4 548.87,311.9 549.51,399.4 550.48,464.4 551.26,499.4 551.26,519.5 554.24,519.5 554.24,499.4 555.02,464.4 555.99,399.4 556.63,311.9 558.43,244.4 559.52,196.9 560.1,161.9 560.66,159.4 561.72,156.9 563.39,151.9 564.04,149.4 565.05,144.4 565.16,139.9" fill="#300000" style="mix-blend-mode:lighten"/><polygon points="540.61,139.9 540.73,144.4 541.71,149.4 542.4,151.9 544.01,156.9 545.12,159.4 545.56,161.9 546.07,191.9 547.16,241.9 548.98,311.9 549.63,399.4 550.56,461.9 551.44,499.4 551.44,519.5 554.06,519.5 554.06,499.4 554.94,461.9 555.87,399.4 556.52,311.9 558.34,241.9 559.43,191.9 559.94,161.9 560.38,159.4 561.49,156.9 563.1,151.9 563.79,149.4 564.77,144.4 564.89,139.9" fill="#330000" style="mix-blend-mode:lighten"/><polygon points="541.44,139.9 541.55,144.4 542.05,146.9 544.01,154.4 545.73,159.4 546.2,161.9 547.37,226.9 549.4,311.9 550.01,389.4 550.84,449.4 551.44,476.9 552.75,499.4 552.75,519.5 552.75,519.5 552.75,499.4 554.06,476.9 554.66,449.4 555.49,389.4 556.1,311.9 558.13,226.9 559.3,161.9 559.77,159.4 561.49,154.4 563.45,146.9 563.95,144.4 564.06,139.9" fill="#3d0000" style="mix-blend-mode:lighten"/><polygon points="542.19,139.9 542.32,144.4 544.01,151.9 546.32,159.4 546.72,161.9 547.52,211.9 548.4,254.4 549.73,309.4 550.49,396.9 551.12,439.4 551.5,456.9 552.75,481.9 552.75,519.5 552.75,519.5 552.75,481.9 554,456.9 554.38,439.4 555.01,396.9 555.77,309.4 557.1,254.4 557.98,211.9 558.78,161.9 559.18,159.4 561.49,151.9 563.18,144.4 563.31,139.9" fill="#470000" style="mix-blend-mode:lighten"/><polygon points="542.88,139.9 542.97,144.4 543.44,146.9 544.62,151.9 546.78,159.4 547.07,161.9 548.54,241.9 550.09,311.9 550.85,396.9 551.37,429.4 551.74,441.9 552.75,464.4 552.75,519.5 552.75,519.5 552.75,464.4 553.76,441.9 554.13,429.4 554.65,396.9 555.41,311.9 556.96,241.9 558.43,161.9 558.72,159.4 560.88,151.9 562.06,146.9 562.53,144.4 562.62,139.9" fill="#520000" style="mix-blend-mode:lighten"/><polygon points="543.38,139.9 543.49,144.4 544.54,149.4 546.58,156.9 547.13,159.4 547.41,161.9 549.16,254.4 550.42,311.9 551.22,396.9 551.46,411.9 552.75,446.9 552.75,519.5 552.75,519.5 552.75,446.9 554.04,411.9 554.28,396.9 555.08,311.9 556.34,254.4 558.09,161.9 558.37,159.4 558.92,156.9 560.96,149.4 562.01,144.4 562.12,139.9" fill="#5c0000" style="mix-blend-mode:lighten"/><polygon points="543.88,139.9 544,144.4 544.48,146.9 547.48,159.4 547.72,161.9 550.75,311.9 551.63,396.9 552.75,429.4 552.75,519.5 552.75,519.5 552.75,429.4 553.87,396.9 554.75,311.9 557.78,161.9 558.02,159.4 561.02,146.9 561.5,144.4 561.62,139.9" fill="#660000" style="mix-blend-mode:lighten"/><polygon points="544.31,139.9 544.43,144.4 547.3,156.9 547.78,159.4 548.01,161.9 550.32,279.4 551.1,311.9 551.73,369.4 552.25,396.9 552.75,411.9 552.75,519.5 552.75,519.5 552.75,411.9 553.25,396.9 553.77,369.4 554.4,311.9 555.18,279.4 557.49,161.9 557.72,159.4 558.2,156.9 561.07,144.4 561.19,139.9" fill="#700000" style="mix-blend-mode:lighten"/><polygon points="544.73,139.9 544.85,144.4 547.64,156.9 548.07,159.4 548.3,161.9 548.72,184.4 549.24,201.9 550.35,266.9 551.45,311.9 551.84,344.4 552.75,391.9 552.75,519.5 552.75,519.5 552.75,391.9 553.66,344.4 554.05,311.9 555.15,266.9 556.26,201.9 556.78,184.4 557.2,161.9 557.43,159.4 557.86,156.9 560.65,144.4 560.77,139.9" fill="#7a0000" style="mix-blend-mode:lighten"/><polygon points="545.15,139.9 545.27,144.4 547.96,156.9 548.37,159.4 548.53,161.9 548.86,179.4 549.51,201.9 550.9,279.4 551.83,311.9 552.74,364.4 552.75,519.5 552.75,519.5 552.76,364.4 553.67,311.9 554.6,279.4 555.99,201.9 556.64,179.4 556.97,161.9 557.13,159.4 557.54,156.9 560.23,144.4 560.35,139.9" fill="#850000" style="mix-blend-mode:lighten"/><polygon points="545.5,139.9 545.61,144.4 548.28,156.9 548.59,159.4 548.73,161.9 549.78,201.9 551.17,279.4 551.74,299.4 552.3,311.9 552.75,339.4 552.75,519.5 552.75,519.5 552.75,339.4 553.2,311.9 553.76,299.4 554.33,279.4 555.72,201.9 556.77,161.9 556.91,159.4 557.22,156.9 559.89,144.4 560,139.9" fill="#8f0000" style="mix-blend-mode:lighten"/><polygon points="545.83,139.9 545.95,144.4 548.17,154.4 548.8,159.4 548.94,161.9 550.05,201.9 550.89,254.4 551.38,276.9 551.73,289.4 552.75,311.9 552.75,519.5 552.75,519.5 552.75,311.9 553.77,289.4 554.12,276.9 554.61,254.4 555.45,201.9 556.56,161.9 556.7,159.4 557.33,154.4 559.55,144.4 559.67,139.9" fill="#990000" style="mix-blend-mode:lighten"/><polygon points="546.17,139.9 546.29,144.4 548.04,151.9 548.49,154.4 549.14,161.9 550.26,199.4 551.13,254.4 551.59,274.4 551.72,279.4 552.73,299.4 552.75,519.5 552.75,519.5 552.77,299.4 553.78,279.4 553.91,274.4 554.37,254.4 555.24,199.4 556.36,161.9 557.01,154.4 557.46,151.9 559.21,144.4 559.33,139.9" fill="#a30000" style="mix-blend-mode:lighten"/><polygon points="546.5,139.9 546.66,144.4 548.42,151.9 549,156.9 549.35,161.9 550.51,199.4 551.37,254.4 551.72,269.4 552.75,289.4 552.75,519.5 552.75,519.5 552.75,289.4 553.78,269.4 554.13,254.4 554.99,199.4 556.15,161.9 556.5,156.9 557.08,151.9 558.84,144.4 559,139.9" fill="#ad0000" style="mix-blend-mode:lighten"/><polygon points="546.92,139.9 547.07,144.4 548.32,149.4 548.74,151.9 549.55,161.9 550.77,199.4 551.72,259.4 552.75,279.4 552.75,519.5 552.75,519.5 552.75,279.4 553.78,259.4 554.73,199.4 555.95,161.9 556.76,151.9 557.18,149.4 558.43,144.4 558.58,139.9" fill="#b80000" style="mix-blend-mode:lighten"/><polygon points="547.33,139.9 547.49,144.4 548.7,149.4 549,151.9 549,154.4 549.62,159.4 549.75,161.9 550.49,179.4 550.86,191.9 552,254.4 552.75,266.9 552.75,519.5 552.75,519.5 552.75,266.9 553.5,254.4 554.64,191.9 555.01,179.4 555.75,161.9 555.88,159.4 556.5,154.4 556.5,151.9 556.8,149.4 558.01,144.4 558.17,139.9" fill="#c20000" style="mix-blend-mode:lighten"/><polygon points="547.75,139.9 547.75,141.9 547.97,144.4 548.64,146.9 549,149.4 549,151.9 549.63,156.9 550.05,161.9 550.58,171.9 551,184.4 552.75,256.9 552.75,519.5 552.75,519.5 552.75,256.9 554.5,184.4 554.92,171.9 555.45,161.9 555.87,156.9 556.5,151.9 556.5,149.4 556.86,146.9 557.53,144.4 557.75,141.9 557.75,139.9" fill="#cc0000" style="mix-blend-mode:lighten"/><polygon points="548.38,139.9 548.38,141.9 548.56,144.4 549,146.9 549,149.4 550.58,161.9 551.08,171.9 551.89,191.9 552.74,226.9 552.75,519.5 552.75,519.5 552.76,226.9 553.61,191.9 554.42,171.9 554.92,161.9 556.5,149.4 556.5,146.9 556.94,144.4 557.12,141.9 557.12,139.9" fill="#d60000" style="mix-blend-mode:lighten"/><polygon points="549,139.9 549,146.9 549.11,149.4 550.58,156.9 551.9,161.9 552.4,171.9 552.74,189.4 552.75,519.5 552.75,519.5 552.76,189.4 553.1,171.9 553.6,161.9 554.92,156.9 556.39,149.4 556.5,146.9 556.5,139.9" fill="#e00000" style="mix-blend-mode:lighten"/><polygon points="549,139.9 549,146.9 550.42,151.9 551.34,154.4 552.75,156.9 552.75,519.5 552.75,519.5 552.75,156.9 554.16,154.4 555.08,151.9 556.5,146.9 556.5,139.9" fill="#eb0000" style="mix-blend-mode:lighten"/><polygon points="549,139.9 549,144.4 549.84,146.9 551.78,149.4 552.75,151.9 552.75,519.5 552.75,519.5 552.75,151.9 553.72,149.4 555.66,146.9 556.5,144.4 556.5,139.9" fill="#f50000" style="mix-blend-mode:lighten"/><polygon points="549,139.9 549,141.9 552.75,144.4 552.75,519.5 552.75,519.5 552.75,144.4 556.5,141.9 556.5,139.9" fill="#ff0000" style="mix-blend-mode:lighten"/></g>
<rect x="578.6" y="160.9" width="6.6" height="1" fill="#4e1015" opacity="0.8"/>
<rect x="520.3" y="187.4" width="19.6" height="1" fill="#4e1015" opacity="0.8"/>
<rect x="560.4" y="187.4" width="24.8" height="1" fill="#4e1015" opacity="0.8"/>
<rect x="565.6" y="348.3" width="19.6" height="1" fill="#4e1015" opacity="0.8"/>
<rect x="520.3" y="141.9" width="64.9" height="375.6" fill="none" stroke="#4a2420" stroke-width="0.7" opacity="0.8"/>
<rect x="588.5" y="141.9" width="6.5" height="375.6" fill="url(#cbar)" stroke="#555" stroke-width="0.35"/>
<line x1="595" x2="596.8" y1="517.5" y2="517.5" stroke="#333" stroke-width="0.55"/>
<text x="599.1" y="519.4" class="t">0</text>
<line x1="595" x2="596.8" y1="473.8" y2="473.8" stroke="#333" stroke-width="0.55"/>
<text x="599.1" y="475.7" class="t">10</text>
<line x1="595" x2="596.8" y1="430.1" y2="430.1" stroke="#333" stroke-width="0.55"/>
<text x="599.1" y="432" class="t">20</text>
<line x1="595" x2="596.8" y1="386.4" y2="386.4" stroke="#333" stroke-width="0.55"/>
<text x="599.1" y="388.3" class="t">30</text>
<line x1="595" x2="596.8" y1="342.7" y2="342.7" stroke="#333" stroke-width="0.55"/>
<text x="599.1" y="344.6" class="t">40</text>
<line x1="595" x2="596.8" y1="299" y2="299" stroke="#333" stroke-width="0.55"/>
<text x="599.1" y="300.9" class="t">50</text>
<line x1="595" x2="596.8" y1="255.3" y2="255.3" stroke="#333" stroke-width="0.55"/>
<text x="599.1" y="257.2" class="t">60</text>
<line x1="595" x2="596.8" y1="211.6" y2="211.6" stroke="#333" stroke-width="0.55"/>
<text x="599.1" y="213.5" class="t">70</text>
<line x1="595" x2="596.8" y1="167.9" y2="167.9" stroke="#333" stroke-width="0.55"/>
<text x="599.1" y="169.8" class="t">80</text>
<line x1="520.3" x2="520.3" y1="517.5" y2="519.1" stroke="#333" stroke-width="0.55"/>
<line x1="552.75" x2="552.75" y1="517.5" y2="519.1" stroke="#333" stroke-width="0.55"/>
<line x1="585.2" x2="585.2" y1="517.5" y2="519.1" stroke="#333" stroke-width="0.55"/>
<text x="520.3" y="525.9" class="t">-2.0</text>
<text x="552.75" y="525.9" class="t" text-anchor="middle">TSS</text>
<text x="585.2" y="525.9" class="t" text-anchor="end">2.0Kb</text>
<text x="552.75" y="532.8" class="t" text-anchor="middle">gene distance (bp)</text>
<text transform="translate(516.9,329.7) rotate(-90)" class="t" text-anchor="middle">genes</text>
<polyline points="520.3,125.18 520.84,125.17 521.39,125.16 521.93,125.15 522.47,125.13 523.02,125.12 523.56,125.11 524.1,125.09 524.65,125.08 525.19,125.06 525.73,125.04 526.28,125.02 526.82,125 527.36,124.97 527.91,124.95 528.45,124.92 528.99,124.89 529.54,124.86 530.08,124.82 530.62,124.79 531.17,124.74 531.71,124.7 532.25,124.64 532.8,124.59 533.34,124.52 533.88,124.45 534.43,124.37 534.97,124.28 535.51,124.18 536.06,124.07 536.6,123.94 537.14,123.8 537.69,123.64 538.23,123.45 538.77,123.25 539.32,123.01 539.86,122.74 540.4,122.44 540.95,122.09 541.49,121.69 542.03,121.24 542.58,120.72 543.12,120.12 543.66,119.43 544.21,118.65 544.75,117.75 545.29,116.71 545.84,115.52 546.38,114.15 546.92,112.57 547.47,110.76 548.01,108.68 548.55,106.29 549.1,103.54 549.64,100.39 550.18,96.79 550.73,92.71 551.27,88.13 551.81,83.2 552.36,78.49 552.9,76.08 553.44,78.49 553.99,83.2 554.53,88.13 555.07,92.71 555.62,96.79 556.16,100.39 556.7,103.54 557.25,106.29 557.79,108.68 558.33,110.76 558.88,112.57 559.42,114.15 559.96,115.52 560.51,116.71 561.05,117.75 561.59,118.65 562.14,119.43 562.68,120.12 563.22,120.72 563.77,121.24 564.31,121.69 564.85,122.09 565.4,122.44 565.94,122.74 566.48,123.01 567.03,123.25 567.57,123.45 568.11,123.64 568.66,123.8 569.2,123.94 569.74,124.07 570.29,124.18 570.83,124.28 571.37,124.37 571.92,124.45 572.46,124.52 573,124.59 573.55,124.64 574.09,124.7 574.63,124.74 575.18,124.79 575.72,124.82 576.26,124.86 576.81,124.89 577.35,124.92 577.89,124.95 578.44,124.97 578.98,125 579.52,125.02 580.07,125.04 580.61,125.06 581.15,125.08 581.7,125.09 582.24,125.11 582.78,125.12 583.33,125.13 583.87,125.15 584.41,125.16 584.96,125.17 585.5,125.18" fill="none" stroke="#1c1c68" stroke-width="0.95" stroke-linejoin="round"/>
<rect x="520.3" y="74.2" width="65.2" height="53" fill="none" stroke="#3c3838" stroke-width="0.75"/>
<text x="552.9" y="71" class="t2" text-anchor="middle" style="font-size:5.5px">10000_cells.filtered</text>
<g>
<line x1="518.5" x2="520.3" y1="126.8" y2="126.8" stroke="#333" stroke-width="0.55"/>
<text x="516.2" y="128.6" class="t" text-anchor="end">0</text>
<line x1="518.5" x2="520.3" y1="112.63" y2="112.63" stroke="#333" stroke-width="0.55"/>
<text x="516.2" y="114.43" class="t" text-anchor="end">20</text>
<line x1="518.5" x2="520.3" y1="98.47" y2="98.47" stroke="#333" stroke-width="0.55"/>
<text x="516.2" y="100.27" class="t" text-anchor="end">40</text>
<line x1="518.5" x2="520.3" y1="84.3" y2="84.3" stroke="#333" stroke-width="0.55"/>
<text x="516.2" y="86.1" class="t" text-anchor="end">60</text>
</g>
<line x1="520.3" x2="520.3" y1="127.2" y2="128.8" stroke="#333" stroke-width="0.55"/>
<line x1="552.9" x2="552.9" y1="127.2" y2="128.8" stroke="#333" stroke-width="0.55"/>
<line x1="585.5" x2="585.5" y1="127.2" y2="128.8" stroke="#333" stroke-width="0.55"/>
<text x="520.3" y="135.8" class="t">-2.0</text>
<text x="552.9" y="135.8" class="t" text-anchor="middle">TSS</text>
<text x="585.5" y="135.8" class="t" text-anchor="end">2.0Kb</text>
<line x1="524.1" x2="533.9" y1="80.5" y2="80.5" stroke="#1c1c68" stroke-width="0.95"/>
<text x="536.8" y="82.5" class="t">genes</text>
</g>
<g style="font-size:4.45px">
<g filter="url(#hm6)"><rect x="624.4" y="140" width="68.6" height="379.5" fill="url(#vb6)"/><polygon points="620.45,140 620.52,144.5 621.25,152 621.95,162 622.32,164.5 623.7,172 626.78,184.5 630.12,199.5 632.79,232 634.08,244.5 635.28,254.5 636.47,269.5 637.89,282 639.06,289.5 640.05,294.5 641.25,299.5 642.71,304.5 643.14,312 644.07,334.5 644.95,349.5 647.31,397 649.71,497 649.75,519.5 667.65,519.5 667.69,497 670.09,397 672.45,349.5 673.33,334.5 674.26,312 674.69,304.5 676.15,299.5 677.35,294.5 678.34,289.5 679.51,282 680.93,269.5 682.12,254.5 683.32,244.5 684.61,232 687.28,199.5 690.62,184.5 693.7,172 695.08,164.5 695.45,162 696.15,152 696.88,144.5 696.95,140" fill="#030000" style="mix-blend-mode:lighten"/><polygon points="625.22,140 625.29,144.5 627.23,159.5 628.76,167 633.15,187 634.65,194.5 635.95,199.5 636.34,202 637.66,214.5 639.15,227 639.77,234.5 640.33,239.5 641.52,247 642.72,252 643.53,254.5 644.58,264.5 645.73,294.5 648.04,342 648.36,352 650.06,437 651.57,499.5 651.57,519.5 665.83,519.5 665.83,499.5 667.34,437 669.04,352 669.36,342 671.67,294.5 672.82,264.5 673.87,254.5 674.68,252 675.88,247 677.07,239.5 677.63,234.5 678.25,227 679.74,214.5 681.06,202 681.45,199.5 682.75,194.5 684.25,187 688.64,167 690.17,159.5 692.11,144.5 692.18,140" fill="#050000" style="mix-blend-mode:lighten"/><polygon points="629.99,140 630.06,144.5 630.98,152 631.96,157 633.33,162 634.6,172 635.82,179.5 637.44,187 638.84,192 639.37,194.5 640.17,199.5 641.12,212 642.12,222 643.16,229.5 644.59,237 645.75,247 646.86,254.5 648.7,292 648.88,299.5 649.97,362 651.19,417 651.71,457 652.62,497 652.66,519.5 664.74,519.5 664.78,497 665.69,457 666.21,417 667.43,362 668.52,299.5 668.7,292 670.54,254.5 671.65,247 672.81,237 674.24,229.5 675.28,222 676.28,212 677.23,199.5 678.03,194.5 678.56,192 679.96,187 681.58,179.5 682.8,172 684.07,162 685.44,157 686.42,152 687.34,144.5 687.41,140" fill="#080000" style="mix-blend-mode:lighten"/><polygon points="632.87,140 632.98,144.5 635.72,159.5 637.33,169.5 639.35,179.5 642.5,199.5 643.6,209.5 644.91,219.5 645.74,229.5 646.52,237 647.53,244.5 648.88,252 649.15,254.5 649.68,287 651.22,359.5 651.85,422 653.32,499.5 653.32,519.5 664.08,519.5 664.08,499.5 665.55,422 666.18,359.5 667.72,287 668.25,254.5 668.52,252 669.87,244.5 670.88,237 671.66,229.5 672.49,219.5 673.8,209.5 674.9,199.5 678.05,179.5 680.07,169.5 681.68,159.5 684.42,144.5 684.53,140" fill="#0a0000" style="mix-blend-mode:lighten"/><polygon points="635.73,140 635.84,144.5 637.17,152 637.87,157 640.21,169.5 641.43,179.5 642.51,187 643.81,194.5 644.83,199.5 646.57,222 647.66,232 649.04,242 649.92,254.5 650.5,282 651.48,317 651.71,337 652.06,397 652.92,449.5 653.98,499.5 653.98,519.5 663.42,519.5 663.42,499.5 664.48,449.5 665.34,397 665.69,337 665.92,317 666.9,282 667.48,254.5 668.36,242 669.74,232 670.83,222 672.57,199.5 673.59,194.5 674.89,187 675.97,179.5 677.19,169.5 679.53,157 680.23,152 681.56,144.5 681.67,140" fill="#0d0000" style="mix-blend-mode:lighten"/><polygon points="637.86,140 637.92,144.5 638.56,149.5 639.47,154.5 640.64,159.5 642.88,177 644.94,189.5 646.02,199.5 647.48,217 648.94,229.5 649.9,244.5 650.7,254.5 651.66,289.5 652.12,312 652.56,397 653.99,477 654.64,499.5 654.64,519.5 662.76,519.5 662.76,499.5 663.41,477 664.84,397 665.28,312 665.74,289.5 666.7,254.5 667.5,244.5 668.46,229.5 669.92,217 671.38,199.5 672.46,189.5 674.52,177 676.76,159.5 677.93,154.5 678.84,149.5 679.48,144.5 679.54,140" fill="#0f0000" style="mix-blend-mode:lighten"/><polygon points="639.22,140 639.31,144.5 642.54,162 645,179.5 648.84,217 650.23,239.5 651.47,254.5 652.68,312 653.07,397 654.15,464.5 654.95,497 654.98,519.5 662.42,519.5 662.45,497 663.25,464.5 664.33,397 664.72,312 665.93,254.5 667.17,239.5 668.56,217 672.4,179.5 674.86,162 678.09,144.5 678.18,140" fill="#120000" style="mix-blend-mode:lighten"/><polygon points="640.58,140 640.69,144.5 642.89,157 644.06,162 644.76,167 646.38,184.5 647.49,194.5 648.51,202 648.95,207 650.18,229.5 651.95,254.5 652.52,284.5 653.25,312 653.57,397 654.18,447 655.17,497 655.2,519.5 662.2,519.5 662.23,497 663.22,447 663.83,397 664.15,312 664.88,284.5 665.45,254.5 667.22,229.5 668.45,207 668.89,202 669.91,194.5 671.02,184.5 672.64,167 673.34,162 674.51,157 676.71,144.5 676.82,140" fill="#140000" style="mix-blend-mode:lighten"/><polygon points="641.95,140 642.02,144.5 642.62,149.5 643.49,154.5 644.1,157 644.89,159.5 645.24,162 646.06,172 647.73,189.5 649.08,199.5 651.31,239.5 652.34,254.5 653.17,294.5 653.74,312 653.87,399.5 654.28,434.5 655.42,499.5 655.42,519.5 661.98,519.5 661.98,499.5 663.12,434.5 663.53,399.5 663.66,312 664.23,294.5 665.06,254.5 666.09,239.5 668.32,199.5 669.67,189.5 671.34,172 672.16,162 672.51,159.5 673.3,157 673.91,154.5 674.78,149.5 675.38,144.5 675.45,140" fill="#170000" style="mix-blend-mode:lighten"/><polygon points="642.67,140 642.75,144.5 643.08,147 643.97,152 645.15,157 646,162 647.91,184.5 649.56,199.5 650.87,222 651.41,234.5 652.72,254.5 653.26,284.5 653.93,312 654.06,397 654.43,427 655.64,499.5 655.64,519.5 661.76,519.5 661.76,499.5 662.97,427 663.34,397 663.47,312 664.14,284.5 664.68,254.5 665.99,234.5 666.53,222 667.84,199.5 669.49,184.5 671.4,162 672.25,157 673.43,152 674.32,147 674.65,144.5 674.73,140" fill="#1a0000" style="mix-blend-mode:lighten"/><polygon points="643.39,140 643.48,144.5 646.76,162 647.21,167 648.04,179.5 650.04,199.5 650.79,212 651.25,224.5 651.88,237 653.04,254.5 653.31,274.5 654.12,312 654.27,397 655.85,499.5 655.85,519.5 661.55,519.5 661.55,499.5 663.13,397 663.28,312 664.09,274.5 664.36,254.5 665.52,237 666.15,224.5 666.61,212 667.36,199.5 669.36,179.5 670.19,167 670.64,162 673.92,144.5 674.01,140" fill="#1c0000" style="mix-blend-mode:lighten"/><polygon points="644.1,140 644.21,144.5 645.6,152 646.32,157 646.94,159.5 647.36,162 648.14,174.5 650.72,202 651.54,224.5 653.21,254.5 654.31,312 654.47,397 655.41,464.5 656.07,499.5 656.07,519.5 661.33,519.5 661.33,499.5 661.99,464.5 662.93,397 663.09,312 664.19,254.5 665.86,224.5 666.68,202 669.26,174.5 670.04,162 670.46,159.5 671.08,157 671.8,152 673.19,144.5 673.3,140" fill="#1f0000" style="mix-blend-mode:lighten"/><polygon points="644.82,140 644.94,144.5 645.41,147 646.34,154.5 647.42,159.5 647.74,162 648.42,172 649.86,189.5 650.91,199.5 651.81,224.5 652.94,244.5 653.38,254.5 654.5,312 654.68,397 655.51,459.5 656.26,499.5 656.26,519.5 661.14,519.5 661.14,499.5 661.89,459.5 662.72,397 662.9,312 664.02,254.5 664.46,244.5 665.59,224.5 666.49,199.5 667.54,189.5 668.98,172 669.66,162 669.98,159.5 671.06,154.5 671.99,147 672.46,144.5 672.58,140" fill="#210000" style="mix-blend-mode:lighten"/><polygon points="645.53,140 645.59,144.5 646.03,149.5 646.35,152 647.77,159.5 648.13,162 650,187 650.95,197 651.94,222 652.9,239.5 653.55,254.5 654.69,312 654.89,397 655.56,452 656.44,499.5 656.44,519.5 660.96,519.5 660.96,499.5 661.84,452 662.51,397 662.71,312 663.85,254.5 664.5,239.5 665.46,222 666.45,197 667.4,187 669.27,162 669.63,159.5 671.05,152 671.37,149.5 671.81,144.5 671.87,140" fill="#240000" style="mix-blend-mode:lighten"/><polygon points="645.8,140 645.85,144.5 646.36,149.5 648.51,162 649.49,174.5 650.11,184.5 650.99,194.5 651.3,199.5 651.96,217 653.73,254.5 654.78,309.5 655.04,397 655.64,447 656.62,499.5 656.62,519.5 660.78,519.5 660.78,499.5 661.76,447 662.36,397 662.62,309.5 663.67,254.5 665.44,217 666.1,199.5 666.41,194.5 667.29,184.5 667.91,174.5 668.89,162 671.04,149.5 671.55,144.5 671.6,140" fill="#260000" style="mix-blend-mode:lighten"/><polygon points="646.06,140 646.11,144.5 646.69,149.5 647.92,157 648.9,162 649.48,169.5 650.21,182 650.88,189.5 651.5,199.5 653.9,254.5 654.89,309.5 655.16,397 655.8,447 656.81,499.5 656.81,519.5 660.59,519.5 660.59,499.5 661.6,447 662.24,397 662.51,309.5 663.5,254.5 665.9,199.5 666.52,189.5 667.19,182 667.92,169.5 668.5,162 669.48,157 670.71,149.5 671.29,144.5 671.34,140" fill="#290000" style="mix-blend-mode:lighten"/><polygon points="646.31,140 646.38,144.5 646.66,147 647.77,154.5 649.27,162 649.47,164.5 650.13,177 650.92,187 651.69,199.5 654.07,254.5 655.03,312 655.34,402 655.96,447 656.99,499.5 656.99,519.5 660.41,519.5 660.41,499.5 661.44,447 662.06,402 662.37,312 663.33,254.5 665.71,199.5 666.48,187 667.27,177 667.93,164.5 668.13,162 669.63,154.5 670.74,147 671.02,144.5 671.09,140" fill="#2b0000" style="mix-blend-mode:lighten"/><polygon points="646.57,140 646.64,144.5 646.95,147 648.03,154.5 649.15,159.5 649.58,162 650.21,174.5 651.88,199.5 652.79,219.5 653.6,242 654.24,254.5 655.15,312 655.44,399.5 656.4,464.5 657.17,499.5 657.17,519.5 660.23,519.5 660.23,499.5 661,464.5 661.96,399.5 662.25,312 663.16,254.5 663.8,242 664.61,219.5 665.52,199.5 667.19,174.5 667.82,162 668.25,159.5 669.37,154.5 670.45,147 670.76,144.5 670.83,140" fill="#2e0000" style="mix-blend-mode:lighten"/><polygon points="646.83,140 646.9,144.5 647.55,149.5 648.3,154.5 649.48,159.5 649.77,162 650.29,172 652.2,202 652.86,217 653.53,237 654.37,254.5 655.26,312 655.57,399.5 656.54,464.5 657.35,499.5 657.35,519.5 660.05,519.5 660.05,499.5 660.86,464.5 661.83,399.5 662.14,312 663.03,254.5 663.87,237 664.54,217 665.2,202 667.11,172 667.63,162 667.92,159.5 669.1,154.5 669.85,149.5 670.5,144.5 670.57,140" fill="#300000" style="mix-blend-mode:lighten"/><polygon points="647.08,140 647.16,144.5 647.76,149.5 648.57,154.5 649.67,159.5 649.96,162 652.4,202 653.57,234.5 654.47,254.5 655.38,312 655.7,399.5 656.73,467 657.33,492 657.66,499.5 657.66,519.5 659.74,519.5 659.74,499.5 660.07,492 660.67,467 661.7,399.5 662.02,312 662.93,254.5 663.83,234.5 665,202 667.44,162 667.73,159.5 668.83,154.5 669.64,149.5 670.24,144.5 670.32,140" fill="#330000" style="mix-blend-mode:lighten"/><polygon points="647.88,140 647.95,144.5 648.26,147 650.73,162 651.89,184.5 652.93,199.5 653.61,222 654.89,254.5 655.8,312 656.17,397 656.55,427 657.42,472 658.7,494.5 658.7,519.5 658.7,519.5 658.7,494.5 659.98,472 660.85,427 661.23,397 661.6,312 662.51,254.5 663.79,222 664.47,199.5 665.51,184.5 666.67,162 669.14,147 669.45,144.5 669.52,140" fill="#3d0000" style="mix-blend-mode:lighten"/><polygon points="648.59,140 648.68,144.5 650.14,154.5 651.09,159.5 651.37,162 652.01,177 653.32,199.5 655.29,254.5 656.15,312 656.59,399.5 657.43,449.5 658.7,477 658.7,519.5 658.7,519.5 658.7,477 659.97,449.5 660.81,399.5 661.25,312 662.11,254.5 664.08,199.5 665.39,177 666.03,162 666.31,159.5 667.26,154.5 668.72,144.5 668.81,140" fill="#470000" style="mix-blend-mode:lighten"/><polygon points="649.25,140 649.32,144.5 649.95,149.5 651.56,159.5 651.78,162 653.71,199.5 655.67,254.5 656.5,312 657.01,402 657.51,429.5 658.7,457 658.7,519.5 658.7,519.5 658.7,457 659.89,429.5 660.39,402 660.9,312 661.73,254.5 663.69,199.5 665.62,162 665.84,159.5 667.45,149.5 668.08,144.5 668.15,140" fill="#520000" style="mix-blend-mode:lighten"/><polygon points="649.73,140 649.8,144.5 651.96,159.5 652.2,162 654.2,202 656.04,254.5 656.86,312 657.32,397 657.66,412 658.7,439.5 658.7,519.5 658.7,519.5 658.7,439.5 659.74,412 660.08,397 660.54,312 661.36,254.5 663.2,202 665.2,162 665.44,159.5 667.6,144.5 667.67,140" fill="#5c0000" style="mix-blend-mode:lighten"/><polygon points="650.21,140 650.29,144.5 652.36,159.5 652.57,162 654.57,202 656.32,254.5 657.24,312 657.51,359.5 657.87,397 658.7,422 658.7,519.5 658.7,519.5 658.7,422 659.53,397 659.89,359.5 660.16,312 661.08,254.5 662.83,202 664.83,162 665.04,159.5 667.11,144.5 667.19,140" fill="#660000" style="mix-blend-mode:lighten"/><polygon points="650.63,140 650.7,144.5 652.7,159.5 652.92,162 653.94,184.5 654.93,202 656.6,254.5 657.1,287 657.62,312 658.2,372 658.52,397 658.69,402 658.7,519.5 658.7,519.5 658.71,402 658.88,397 659.2,372 659.78,312 660.3,287 660.8,254.5 662.47,202 663.46,184.5 664.48,162 664.7,159.5 666.7,144.5 666.77,140" fill="#700000" style="mix-blend-mode:lighten"/><polygon points="651.02,140 651.1,144.5 653.04,159.5 653.26,162 654.12,182 655.28,202 656.87,254.5 657.51,292 658.1,312 658.7,364.5 658.7,519.5 658.7,519.5 658.7,364.5 659.3,312 659.89,292 660.53,254.5 662.12,202 663.28,182 664.14,162 664.36,159.5 666.3,144.5 666.38,140" fill="#7a0000" style="mix-blend-mode:lighten"/><polygon points="651.42,140 651.5,144.5 653.38,159.5 654.42,182 655.46,199.5 657.13,254.5 657.78,289.5 658.61,312 658.7,322 658.7,519.5 658.7,519.5 658.7,322 658.79,312 659.62,289.5 660.27,254.5 661.94,199.5 662.98,182 664.02,159.5 665.9,144.5 665.98,140" fill="#850000" style="mix-blend-mode:lighten"/><polygon points="651.76,140 651.83,144.5 653.64,159.5 654.57,179.5 655.73,199.5 657.37,254.5 657.79,277 658.7,299.5 658.7,519.5 658.7,519.5 658.7,299.5 659.61,277 660.03,254.5 661.67,199.5 662.83,179.5 663.76,159.5 665.57,144.5 665.64,140" fill="#8f0000" style="mix-blend-mode:lighten"/><polygon points="652.08,140 652.15,144.5 653.44,154.5 653.88,159.5 654.72,177 655.88,197 657.41,247 657.8,264.5 658.68,284.5 658.7,519.5 658.7,519.5 658.72,284.5 659.6,264.5 659.99,247 661.52,197 662.68,177 663.52,159.5 663.96,154.5 665.25,144.5 665.32,140" fill="#990000" style="mix-blend-mode:lighten"/><polygon points="652.4,140 652.47,144.5 653.47,152 654.14,159.5 655,177 656.04,194.5 657.8,252 658.7,272 658.7,519.5 658.7,519.5 658.7,272 659.6,252 661.36,194.5 662.4,177 663.26,159.5 663.93,152 664.93,144.5 665,140" fill="#a30000" style="mix-blend-mode:lighten"/><polygon points="652.71,140 652.81,144.5 653.5,149.5 654.22,157 655.14,174.5 656.1,189.5 657.85,242 658.7,257 658.7,519.5 658.7,519.5 658.7,257 659.55,242 661.3,189.5 662.26,174.5 663.18,157 663.9,149.5 664.59,144.5 664.69,140" fill="#ad0000" style="mix-blend-mode:lighten"/><polygon points="653.11,140 653.2,144.5 654.1,152 654.5,157 655.28,172 656.17,184.5 657.8,229.5 658.7,244.5 658.7,519.5 658.7,519.5 658.7,244.5 659.6,229.5 661.23,184.5 662.12,172 662.9,157 663.3,152 664.2,144.5 664.29,140" fill="#b80000" style="mix-blend-mode:lighten"/><polygon points="653.51,140 653.59,144.5 654.45,152 655.26,167 656.25,179.5 656.73,189.5 657.21,207 658.7,234.5 658.7,519.5 658.7,519.5 658.7,234.5 660.19,207 660.67,189.5 661.15,179.5 662.14,167 662.95,152 663.81,144.5 663.89,140" fill="#c20000" style="mix-blend-mode:lighten"/><polygon points="653.9,140 654.01,144.5 654.62,149.5 655.25,162 656,169.5 656.69,179.5 657.29,199.5 658.7,222 658.7,519.5 658.7,519.5 658.7,222 660.11,199.5 660.71,179.5 661.4,169.5 662.15,162 662.78,149.5 663.39,144.5 663.5,140" fill="#cc0000" style="mix-blend-mode:lighten"/><polygon points="654.51,140 654.59,144.5 655.12,152 655.15,157 655.86,162 656.98,174.5 657.72,189.5 658.04,199.5 658.66,209.5 658.7,212 658.7,519.5 658.7,519.5 658.7,212 658.74,209.5 659.36,199.5 659.68,189.5 660.42,174.5 661.54,162 662.25,157 662.28,152 662.81,144.5 662.89,140" fill="#d60000" style="mix-blend-mode:lighten"/><polygon points="655.12,140 655.12,152 655.24,154.5 655.81,157 656.21,159.5 657.41,164.5 658.05,169.5 658.44,177 658.69,189.5 658.7,519.5 658.7,519.5 658.71,189.5 658.96,177 659.35,169.5 659.99,164.5 661.19,159.5 661.59,157 662.16,154.5 662.28,152 662.28,140" fill="#e00000" style="mix-blend-mode:lighten"/><polygon points="655.12,140 655.12,149.5 655.62,152 656.25,154.5 658.7,157 658.7,519.5 658.7,519.5 658.7,157 661.15,154.5 661.78,152 662.28,149.5 662.28,140" fill="#eb0000" style="mix-blend-mode:lighten"/><polygon points="655.12,140 655.12,147 656.36,149.5 658.7,152 658.7,519.5 658.7,519.5 658.7,152 661.04,149.5 662.28,147 662.28,140" fill="#f50000" style="mix-blend-mode:lighten"/><polygon points="655.12,140 655.12,142 658.7,144.5 658.7,519.5 658.7,519.5 658.7,144.5 662.28,142 662.28,140" fill="#ff0000" style="mix-blend-mode:lighten"/></g>
<rect x="686.8" y="150.8" width="4.2" height="1" fill="#4e1015" opacity="0.8"/>
<rect x="626.4" y="159" width="15.4" height="1" fill="#4e1015" opacity="0.8"/>
<rect x="662.4" y="159" width="28.6" height="1" fill="#4e1015" opacity="0.8"/>
<rect x="626.4" y="196.9" width="7.7" height="1" fill="#4e1015" opacity="0.8"/>
<rect x="664.9" y="203.7" width="26.1" height="1" fill="#4e1015" opacity="0.8"/>
<rect x="626.4" y="222.9" width="18.5" height="1" fill="#4e1015" opacity="0.8"/>
<rect x="663.5" y="222.9" width="27.5" height="1" fill="#4e1015" opacity="0.8"/>
<rect x="626.4" y="243.1" width="7.8" height="1" fill="#4e1015" opacity="0.8"/>
<rect x="662.2" y="243.1" width="28.8" height="1" fill="#4e1015" opacity="0.8"/>
<rect x="671" y="287.8" width="20" height="1" fill="#4e1015" opacity="0.8"/>
<rect x="626.4" y="299" width="6.1" height="1" fill="#4e1015" opacity="0.8"/>
<rect x="676.2" y="299" width="14.8" height="1" fill="#4e1015" opacity="0.8"/>
<rect x="685" y="335.1" width="6" height="1" fill="#4e1015" opacity="0.8"/>
<rect x="626.4" y="367.8" width="15.1" height="1" fill="#4e1015" opacity="0.8"/>
<rect x="626.4" y="378.8" width="26.8" height="1" fill="#4e1015" opacity="0.8"/>
<rect x="666.3" y="397.9" width="24.7" height="1" fill="#4e1015" opacity="0.8"/>
<rect x="626.4" y="405" width="25.7" height="1" fill="#4e1015" opacity="0.8"/>
<rect x="681.6" y="422.7" width="9.4" height="1" fill="#4e1015" opacity="0.8"/>
<rect x="663.8" y="470.6" width="27.2" height="1" fill="#4e1015" opacity="0.8"/>
<rect x="626.4" y="142" width="64.6" height="375.5" fill="none" stroke="#4a2420" stroke-width="0.7" opacity="0.8"/>
<rect x="694.4" y="142" width="6.4" height="375.5" fill="url(#cbar)" stroke="#555" stroke-width="0.35"/>
<line x1="700.8" x2="702.6" y1="517.5" y2="517.5" stroke="#333" stroke-width="0.55"/>
<text x="704.9" y="519.4" class="t">0</text>
<line x1="700.8" x2="702.6" y1="475.78" y2="475.78" stroke="#333" stroke-width="0.55"/>
<text x="704.9" y="477.68" class="t">5</text>
<line x1="700.8" x2="702.6" y1="434.06" y2="434.06" stroke="#333" stroke-width="0.55"/>
<text x="704.9" y="435.96" class="t">10</text>
<line x1="700.8" x2="702.6" y1="392.33" y2="392.33" stroke="#333" stroke-width="0.55"/>
<text x="704.9" y="394.23" class="t">15</text>
<line x1="700.8" x2="702.6" y1="350.61" y2="350.61" stroke="#333" stroke-width="0.55"/>
<text x="704.9" y="352.51" class="t">20</text>
<line x1="700.8" x2="702.6" y1="308.89" y2="308.89" stroke="#333" stroke-width="0.55"/>
<text x="704.9" y="310.79" class="t">25</text>
<line x1="700.8" x2="702.6" y1="267.17" y2="267.17" stroke="#333" stroke-width="0.55"/>
<text x="704.9" y="269.07" class="t">30</text>
<line x1="700.8" x2="702.6" y1="225.44" y2="225.44" stroke="#333" stroke-width="0.55"/>
<text x="704.9" y="227.34" class="t">35</text>
<line x1="700.8" x2="702.6" y1="183.72" y2="183.72" stroke="#333" stroke-width="0.55"/>
<text x="704.9" y="185.62" class="t">40</text>
<line x1="626.4" x2="626.4" y1="517.5" y2="519.1" stroke="#333" stroke-width="0.55"/>
<line x1="658.7" x2="658.7" y1="517.5" y2="519.1" stroke="#333" stroke-width="0.55"/>
<line x1="691" x2="691" y1="517.5" y2="519.1" stroke="#333" stroke-width="0.55"/>
<text x="626.4" y="525.9" class="t">-2.0</text>
<text x="658.7" y="525.9" class="t" text-anchor="middle">TSS</text>
<text x="691" y="525.9" class="t" text-anchor="end">2.0Kb</text>
<text x="658.7" y="532.8" class="t" text-anchor="middle">gene distance (bp)</text>
<text transform="translate(623,329.75) rotate(-90)" class="t" text-anchor="middle">genes</text>
<polyline points="626.4,125.41 626.94,125.4 627.47,125.39 628.01,125.37 628.55,125.36 629.08,125.35 629.62,125.33 630.16,125.32 630.69,125.3 631.23,125.28 631.77,125.27 632.3,125.25 632.84,125.22 633.38,125.2 633.91,125.17 634.45,125.15 634.99,125.12 635.52,125.08 636.06,125.05 636.6,125.01 637.13,124.96 637.67,124.91 638.21,124.86 638.74,124.8 639.28,124.74 639.82,124.66 640.35,124.58 640.89,124.49 641.43,124.39 641.96,124.28 642.5,124.15 643.04,124 643.57,123.84 644.11,123.65 644.65,123.44 645.18,123.2 645.72,122.93 646.26,122.62 646.79,122.27 647.33,121.87 647.87,121.41 648.4,120.89 648.94,120.29 649.48,119.61 650.01,118.82 650.55,117.92 651.09,116.89 651.62,115.7 652.16,114.34 652.7,112.78 653.23,110.99 653.77,108.93 654.31,106.57 654.84,103.86 655.38,100.76 655.92,97.23 656.45,93.23 656.99,88.77 657.53,83.96 658.06,79.4 658.6,77.08 659.14,79.4 659.67,83.96 660.21,88.77 660.75,93.23 661.28,97.23 661.82,100.76 662.36,103.86 662.89,106.57 663.43,108.93 663.97,110.99 664.5,112.78 665.04,114.34 665.58,115.7 666.11,116.89 666.65,117.92 667.19,118.82 667.72,119.61 668.26,120.29 668.8,120.89 669.33,121.41 669.87,121.87 670.41,122.27 670.94,122.62 671.48,122.93 672.02,123.2 672.55,123.44 673.09,123.65 673.63,123.84 674.16,124 674.7,124.15 675.24,124.28 675.77,124.39 676.31,124.49 676.85,124.58 677.38,124.66 677.92,124.74 678.46,124.8 678.99,124.86 679.53,124.91 680.07,124.96 680.6,125.01 681.14,125.05 681.68,125.08 682.21,125.12 682.75,125.15 683.29,125.17 683.82,125.2 684.36,125.22 684.9,125.25 685.43,125.27 685.97,125.28 686.51,125.3 687.04,125.32 687.58,125.33 688.12,125.35 688.65,125.36 689.19,125.37 689.73,125.39 690.26,125.4 690.8,125.41" fill="none" stroke="#1c1c68" stroke-width="0.95" stroke-linejoin="round"/>
<rect x="626.4" y="74.2" width="64.4" height="53" fill="none" stroke="#3c3838" stroke-width="0.75"/>
<text x="658.6" y="71" class="t2" text-anchor="middle" style="font-size:5.5px">50000_cells.filtered</text>
<g>
<line x1="624.6" x2="626.4" y1="112.47" y2="112.47" stroke="#333" stroke-width="0.55"/>
<text x="622.3" y="114.27" class="t" text-anchor="end">10</text>
<line x1="624.6" x2="626.4" y1="96.23" y2="96.23" stroke="#333" stroke-width="0.55"/>
<text x="622.3" y="98.03" class="t" text-anchor="end">20</text>
<line x1="624.6" x2="626.4" y1="80" y2="80" stroke="#333" stroke-width="0.55"/>
<text x="622.3" y="81.8" class="t" text-anchor="end">30</text>
</g>
<line x1="626.4" x2="626.4" y1="127.2" y2="128.8" stroke="#333" stroke-width="0.55"/>
<line x1="658.6" x2="658.6" y1="127.2" y2="128.8" stroke="#333" stroke-width="0.55"/>
<line x1="690.8" x2="690.8" y1="127.2" y2="128.8" stroke="#333" stroke-width="0.55"/>
<text x="626.4" y="135.8" class="t">-2.0</text>
<text x="658.6" y="135.8" class="t" text-anchor="middle">TSS</text>
<text x="690.8" y="135.8" class="t" text-anchor="end">2.0Kb</text>
<line x1="630.2" x2="639.3" y1="100.5" y2="100.5" stroke="#1c1c68" stroke-width="0.95"/>
<text x="642.2" y="102.5" class="t">genes</text>
</g>
</svg>
</body></html>
